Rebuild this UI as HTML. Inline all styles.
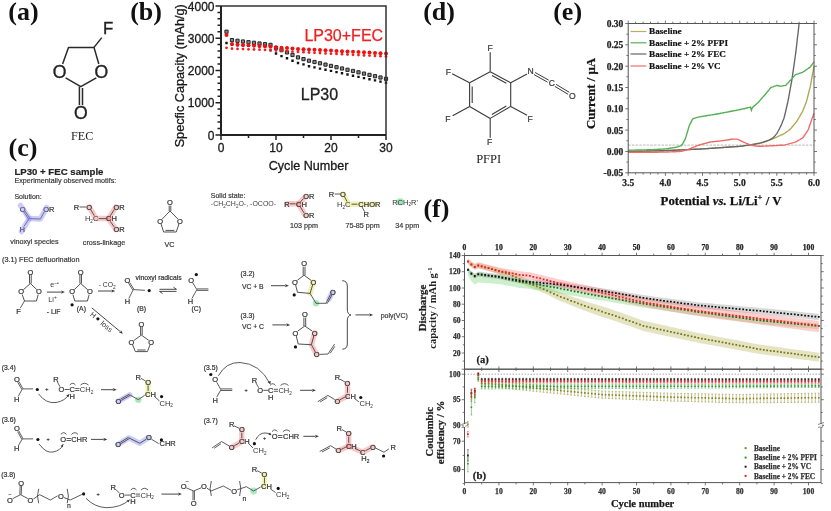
<!DOCTYPE html>
<html><head><meta charset="utf-8"><title>FEC / PFPI electrolyte additives</title>
<style>html,body{margin:0;padding:0;background:#fff;overflow:hidden}svg{display:block}</style></head>
<body><svg width="831" height="511" viewBox="0 0 831 511">
<rect width="831" height="511" fill="#fff"/>
<text x="8.3" y="20.3" font-size="26" font-family="'Liberation Serif', 'Times New Roman', serif" text-anchor="start" font-weight="bold" fill="#111" >(a)</text>
<text x="130.2" y="20.3" font-size="26" font-family="'Liberation Serif', 'Times New Roman', serif" text-anchor="start" font-weight="bold" fill="#111" >(b)</text>
<text x="8.6" y="156.3" font-size="26" font-family="'Liberation Serif', 'Times New Roman', serif" text-anchor="start" font-weight="bold" fill="#111" >(c)</text>
<text x="423.2" y="20.3" font-size="26" font-family="'Liberation Serif', 'Times New Roman', serif" text-anchor="start" font-weight="bold" fill="#111" >(d)</text>
<text x="553.2" y="20.3" font-size="26" font-family="'Liberation Serif', 'Times New Roman', serif" text-anchor="start" font-weight="bold" fill="#111" >(e)</text>
<text x="423.4" y="217.3" font-size="26" font-family="'Liberation Serif', 'Times New Roman', serif" text-anchor="start" font-weight="bold" fill="#111" >(f)</text>
<path d="M224.9 30.1h3.2v3.2h-3.2zM230.4 38.5h3.2v3.2h-3.2zM235.9 39.2h3.2v3.2h-3.2zM241.4 39.9h3.2v3.2h-3.2zM246.9 40.6h3.2v3.2h-3.2zM252.4 41.2h3.2v3.2h-3.2zM257.9 41.9h3.2v3.2h-3.2zM263.4 42.6h3.2v3.2h-3.2zM268.9 43.3h3.2v3.2h-3.2zM274.4 46.3h3.2v3.2h-3.2zM279.9 48.5h3.2v3.2h-3.2zM285.4 50.8h3.2v3.2h-3.2zM290.9 53.4h3.2v3.2h-3.2zM296.4 55.8h3.2v3.2h-3.2zM301.9 57.5h3.2v3.2h-3.2zM307.4 59.1h3.2v3.2h-3.2zM312.9 60.4h3.2v3.2h-3.2zM318.4 61.7h3.2v3.2h-3.2zM323.9 63.0h3.2v3.2h-3.2zM329.4 64.3h3.2v3.2h-3.2zM334.9 65.6h3.2v3.2h-3.2zM340.4 66.9h3.2v3.2h-3.2zM345.9 68.2h3.2v3.2h-3.2zM351.4 69.4h3.2v3.2h-3.2zM356.9 70.7h3.2v3.2h-3.2zM362.4 72.0h3.2v3.2h-3.2zM367.9 73.3h3.2v3.2h-3.2zM373.4 74.6h3.2v3.2h-3.2zM378.9 75.9h3.2v3.2h-3.2zM384.4 77.2h3.2v3.2h-3.2z" fill="#888" stroke="#222" stroke-width="1"/>
<path d="M225.3 41.8h2.4v2.4h-2.4zM230.8 43.7h2.4v2.4h-2.4zM236.3 44.0h2.4v2.4h-2.4zM241.8 44.3h2.4v2.4h-2.4zM247.3 44.5h2.4v2.4h-2.4zM252.8 44.8h2.4v2.4h-2.4zM258.3 45.1h2.4v2.4h-2.4zM263.8 45.3h2.4v2.4h-2.4zM269.3 49.2h2.4v2.4h-2.4zM274.8 52.3h2.4v2.4h-2.4zM280.3 54.9h2.4v2.4h-2.4zM285.8 57.1h2.4v2.4h-2.4zM291.3 59.6h2.4v2.4h-2.4zM296.8 61.8h2.4v2.4h-2.4zM302.3 63.2h2.4v2.4h-2.4zM307.8 65.0h2.4v2.4h-2.4zM313.3 66.2h2.4v2.4h-2.4zM318.8 67.4h2.4v2.4h-2.4zM324.3 68.5h2.4v2.4h-2.4zM329.8 69.7h2.4v2.4h-2.4zM335.3 70.9h2.4v2.4h-2.4zM340.8 72.1h2.4v2.4h-2.4zM346.3 73.3h2.4v2.4h-2.4zM351.8 74.5h2.4v2.4h-2.4zM357.3 75.7h2.4v2.4h-2.4zM362.8 76.9h2.4v2.4h-2.4zM368.3 78.1h2.4v2.4h-2.4zM373.8 79.2h2.4v2.4h-2.4zM379.3 80.4h2.4v2.4h-2.4zM384.8 81.6h2.4v2.4h-2.4z" fill="#111"/>
<g fill="#f01010"><circle cx="226.5" cy="34.9" r="2"/><circle cx="232.0" cy="44.1" r="2"/><circle cx="237.5" cy="44.5" r="2"/><circle cx="243.0" cy="44.9" r="2"/><circle cx="248.5" cy="45.2" r="2"/><circle cx="254.0" cy="45.6" r="2"/><circle cx="259.5" cy="46.0" r="2"/><circle cx="265.0" cy="46.3" r="2"/><circle cx="270.5" cy="46.7" r="2"/><circle cx="276.0" cy="47.2" r="2"/><circle cx="281.5" cy="47.7" r="2"/><circle cx="287.0" cy="48.1" r="2"/><circle cx="292.5" cy="48.6" r="2"/><circle cx="298.0" cy="48.9" r="2"/><circle cx="303.5" cy="49.2" r="2"/><circle cx="309.0" cy="49.5" r="2"/><circle cx="314.5" cy="49.8" r="2"/><circle cx="320.0" cy="50.1" r="2"/><circle cx="325.5" cy="50.3" r="2"/><circle cx="331.0" cy="50.6" r="2"/><circle cx="336.5" cy="50.9" r="2"/><circle cx="342.0" cy="51.2" r="2"/><circle cx="347.5" cy="51.5" r="2"/><circle cx="353.0" cy="51.8" r="2"/><circle cx="358.5" cy="52.0" r="2"/><circle cx="364.0" cy="52.3" r="2"/><circle cx="369.5" cy="52.6" r="2"/><circle cx="375.0" cy="52.9" r="2"/><circle cx="380.5" cy="53.2" r="2"/><circle cx="386.0" cy="53.5" r="2"/></g>
<g fill="#f02020"><circle cx="226.5" cy="47.8" r="1.4"/><circle cx="232.0" cy="48.7" r="1.4"/><circle cx="237.5" cy="48.9" r="1.4"/><circle cx="243.0" cy="49.1" r="1.4"/><circle cx="248.5" cy="49.3" r="1.4"/><circle cx="254.0" cy="49.5" r="1.4"/><circle cx="259.5" cy="49.7" r="1.4"/><circle cx="265.0" cy="49.9" r="1.4"/><circle cx="270.5" cy="50.1" r="1.4"/><circle cx="276.0" cy="50.5" r="1.4"/><circle cx="281.5" cy="50.9" r="1.4"/><circle cx="287.0" cy="51.3" r="1.4"/><circle cx="292.5" cy="51.7" r="1.4"/><circle cx="298.0" cy="51.9" r="1.4"/><circle cx="303.5" cy="52.2" r="1.4"/><circle cx="309.0" cy="52.5" r="1.4"/><circle cx="314.5" cy="52.8" r="1.4"/><circle cx="320.0" cy="53.1" r="1.4"/><circle cx="325.5" cy="53.4" r="1.4"/><circle cx="331.0" cy="53.7" r="1.4"/><circle cx="336.5" cy="53.9" r="1.4"/><circle cx="342.0" cy="54.2" r="1.4"/><circle cx="347.5" cy="54.5" r="1.4"/><circle cx="353.0" cy="54.8" r="1.4"/><circle cx="358.5" cy="55.1" r="1.4"/><circle cx="364.0" cy="55.4" r="1.4"/><circle cx="369.5" cy="55.6" r="1.4"/><circle cx="375.0" cy="55.9" r="1.4"/><circle cx="380.5" cy="56.2" r="1.4"/><circle cx="386.0" cy="56.5" r="1.4"/></g>
<path d="M221 5.9H386V134.9" fill="none" stroke="#333" stroke-width="1.5"/>
<path d="M221 5.9V134.9H386" fill="none" stroke="#222" stroke-width="2"/>
<path d="M215.5 134.9H221M217.5 128.5H221M217.5 122.0H221M217.5 115.6H221M217.5 109.1H221M215.5 102.7H221M217.5 96.2H221M217.5 89.8H221M217.5 83.3H221M217.5 76.9H221M215.5 70.4H221M217.5 64.0H221M217.5 57.5H221M217.5 51.1H221M217.5 44.6H221M215.5 38.2H221M217.5 31.7H221M217.5 25.2H221M217.5 18.8H221M217.5 12.4H221M215.5 5.9H221M221.0 134.9v5M248.5 134.9v3M276.0 134.9v5M303.5 134.9v3M331.0 134.9v5M358.5 134.9v3M386.0 134.9v5" stroke="#222" stroke-width="1.5"/>
<text x="214.5" y="139.5" font-size="12" font-family="'Liberation Sans', Arial, sans-serif" text-anchor="end" font-weight="normal" fill="#1a1a1a" stroke="#1a1a1a" stroke-width="0.3">0</text>
<text x="214.5" y="107.2" font-size="12" font-family="'Liberation Sans', Arial, sans-serif" text-anchor="end" font-weight="normal" fill="#1a1a1a" stroke="#1a1a1a" stroke-width="0.3">1000</text>
<text x="214.5" y="75.0" font-size="12" font-family="'Liberation Sans', Arial, sans-serif" text-anchor="end" font-weight="normal" fill="#1a1a1a" stroke="#1a1a1a" stroke-width="0.3">2000</text>
<text x="214.5" y="42.8" font-size="12" font-family="'Liberation Sans', Arial, sans-serif" text-anchor="end" font-weight="normal" fill="#1a1a1a" stroke="#1a1a1a" stroke-width="0.3">3000</text>
<text x="214.5" y="10.5" font-size="12" font-family="'Liberation Sans', Arial, sans-serif" text-anchor="end" font-weight="normal" fill="#1a1a1a" stroke="#1a1a1a" stroke-width="0.3">4000</text>
<text x="221.0" y="152.2" font-size="12" font-family="'Liberation Sans', Arial, sans-serif" text-anchor="middle" font-weight="normal" fill="#1a1a1a" stroke="#1a1a1a" stroke-width="0.3">0</text>
<text x="276.0" y="152.2" font-size="12" font-family="'Liberation Sans', Arial, sans-serif" text-anchor="middle" font-weight="normal" fill="#1a1a1a" stroke="#1a1a1a" stroke-width="0.3">10</text>
<text x="331.0" y="152.2" font-size="12" font-family="'Liberation Sans', Arial, sans-serif" text-anchor="middle" font-weight="normal" fill="#1a1a1a" stroke="#1a1a1a" stroke-width="0.3">20</text>
<text x="386.0" y="152.2" font-size="12" font-family="'Liberation Sans', Arial, sans-serif" text-anchor="middle" font-weight="normal" fill="#1a1a1a" stroke="#1a1a1a" stroke-width="0.3">30</text>
<text x="308.6" y="169.5" font-size="12.6" font-family="'Liberation Sans', Arial, sans-serif" text-anchor="middle" font-weight="normal" fill="#1a1a1a" stroke="#1a1a1a" stroke-width="0.3">Cycle Number</text>
<text x="0.0" y="0.0" font-size="12.7" font-family="'Liberation Sans', Arial, sans-serif" text-anchor="middle" font-weight="normal" fill="#1a1a1a" stroke="#1a1a1a" stroke-width="0.3" transform="translate(184 75.8) rotate(-90)">Specfic Capacity (mAh/g)</text>
<text x="304.4" y="41.0" font-size="16" font-family="'Liberation Sans', Arial, sans-serif" text-anchor="start" font-weight="normal" fill="#f02020" stroke="#f02020" stroke-width="0.25">LP30+FEC</text>
<text x="300.8" y="99.9" font-size="16" font-family="'Liberation Sans', Arial, sans-serif" text-anchor="start" font-weight="normal" fill="#222" stroke="#222" stroke-width="0.3">LP30</text>
<line x1="628.2" y1="145.1" x2="814.0" y2="145.1" stroke="#999" stroke-width="0.7" stroke-dasharray="2.5 1.2"/>
<polyline points="628.2,151.5 629.1,151.4 630.1,151.4 631.0,151.4 631.9,151.4 632.9,151.4 633.8,151.3 634.7,151.3 635.7,151.3 636.6,151.3 637.5,151.3 638.5,151.2 639.4,151.2 640.3,151.2 641.3,151.2 642.2,151.1 643.1,151.1 644.1,151.1 645.0,151.1 645.9,151.1 646.9,151.0 647.8,151.0 648.7,151.0 649.7,151.0 650.6,151.0 651.5,150.9 652.5,150.9 653.4,150.9 654.3,150.9 655.3,150.8 656.2,150.8 657.1,150.8 658.1,150.8 659.0,150.8 659.9,150.7 660.9,150.7 661.8,150.7 662.7,150.7 663.7,150.7 664.6,150.6 665.5,150.6 666.5,150.6 667.4,150.5 668.3,150.5 669.3,150.4 670.2,150.4 671.1,150.4 672.1,150.3 673.0,150.3 673.9,150.2 674.9,150.2 675.8,150.1 676.8,150.1 677.7,150.1 678.6,150.0 679.6,150.0 680.5,149.9 681.4,149.9 682.4,149.8 683.3,149.8 684.2,149.8 685.2,149.7 686.1,149.7 687.0,149.6 688.0,149.6 688.9,149.5 689.8,149.5 690.8,149.5 691.7,149.4 692.6,149.4 693.6,149.3 694.5,149.3 695.4,149.2 696.4,149.2 697.3,149.2 698.2,149.1 699.2,149.1 700.1,149.0 701.0,149.0 702.0,148.9 702.9,148.9 703.8,148.8 704.8,148.8 705.7,148.7 706.6,148.6 707.6,148.6 708.5,148.5 709.4,148.4 710.4,148.4 711.3,148.3 712.2,148.2 713.2,148.2 714.1,148.1 715.0,148.1 716.0,148.0 716.9,147.9 717.8,147.9 718.8,147.8 719.7,147.7 720.6,147.7 721.6,147.6 722.5,147.5 723.4,147.5 724.4,147.4 725.3,147.3 726.2,147.3 727.2,147.2 728.1,147.1 729.0,147.1 730.0,147.0 730.9,147.0 731.8,146.9 732.8,146.8 733.7,146.8 734.6,146.7 735.6,146.6 736.5,146.6 737.4,146.5 738.4,146.4 739.3,146.4 740.2,146.3 741.2,146.1 742.1,146.0 743.0,145.8 744.0,145.7 744.9,145.6 745.8,145.4 746.8,145.3 747.7,145.1 748.6,145.0 749.6,144.8 750.5,144.7 751.4,144.6 752.4,144.4 753.3,144.3 754.2,144.1 755.2,144.0 756.1,143.8 757.0,143.7 758.0,143.6 758.9,143.4 759.8,143.3 760.8,143.1 761.7,143.0 762.6,142.7 763.6,142.3 764.5,142.0 765.4,141.6 766.4,141.3 767.3,140.9 768.3,140.5 769.2,140.2 770.1,139.8 771.1,139.5 772.0,139.1 772.9,138.8 773.9,138.3 774.8,137.9 775.7,137.5 776.7,137.1 777.6,136.6 778.5,136.2 779.5,135.8 780.4,135.3 781.3,134.9 782.3,134.5 783.2,134.1 784.1,133.6 785.1,133.0 786.0,132.3 786.9,131.7 787.9,131.0 788.8,130.3 789.7,129.6 790.7,128.8 791.6,127.6 792.5,126.5 793.5,125.4 794.4,124.2 795.3,123.1 796.3,122.0 797.2,120.7 798.1,119.1 799.1,117.5 800.0,115.9 800.9,114.3 801.9,112.7 802.8,111.0 803.7,108.6 804.7,106.2 805.6,103.7 806.5,101.2 807.5,97.6 808.4,94.0 809.3,90.3 810.3,86.7 811.2,81.6 812.1,76.4 813.1,71.3 814.0,66.2" fill="none" stroke="#b0aa58" stroke-width="1.4"/>
<polyline points="628.2,151.5 629.1,151.5 629.9,151.4 630.8,151.4 631.6,151.4 632.5,151.4 633.4,151.4 634.2,151.3 635.1,151.3 635.9,151.3 636.8,151.3 637.6,151.3 638.5,151.2 639.4,151.2 640.2,151.2 641.1,151.2 641.9,151.2 642.8,151.1 643.7,151.1 644.5,151.1 645.4,151.1 646.2,151.1 647.1,151.0 648.0,151.0 648.8,151.0 649.7,151.0 650.5,151.0 651.4,150.9 652.3,150.9 653.1,150.9 654.0,150.9 654.8,150.9 655.7,150.8 656.5,150.8 657.4,150.8 658.3,150.8 659.1,150.8 660.0,150.7 660.8,150.7 661.7,150.7 662.6,150.7 663.4,150.7 664.3,150.6 665.1,150.6 666.0,150.6 666.9,150.5 667.7,150.5 668.6,150.5 669.4,150.4 670.3,150.4 671.1,150.4 672.0,150.3 672.9,150.3 673.7,150.2 674.6,150.2 675.4,150.2 676.3,150.1 677.2,150.1 678.0,150.0 678.9,150.0 679.7,150.0 680.6,149.9 681.5,149.9 682.3,149.8 683.2,149.8 684.0,149.8 684.9,149.7 685.8,149.7 686.6,149.6 687.5,149.6 688.3,149.6 689.2,149.5 690.0,149.5 690.9,149.4 691.8,149.4 692.6,149.4 693.5,149.3 694.3,149.3 695.2,149.2 696.1,149.2 696.9,149.2 697.8,149.1 698.6,149.1 699.5,149.1 700.4,149.0 701.2,149.0 702.1,148.9 702.9,148.9 703.8,148.8 704.6,148.8 705.5,148.7 706.4,148.6 707.2,148.6 708.1,148.5 708.9,148.5 709.8,148.4 710.7,148.4 711.5,148.3 712.4,148.2 713.2,148.2 714.1,148.1 715.0,148.1 715.8,148.0 716.7,147.9 717.5,147.9 718.4,147.8 719.3,147.8 720.1,147.7 721.0,147.6 721.8,147.6 722.7,147.5 723.5,147.5 724.4,147.4 725.3,147.3 726.1,147.3 727.0,147.2 727.8,147.2 728.7,147.1 729.6,147.0 730.4,147.0 731.3,146.9 732.1,146.9 733.0,146.8 733.9,146.8 734.7,146.7 735.6,146.6 736.4,146.6 737.3,146.5 738.1,146.5 739.0,146.4 739.9,146.3 740.7,146.2 741.6,146.1 742.4,146.0 743.3,145.8 744.2,145.7 745.0,145.6 745.9,145.5 746.7,145.3 747.6,145.2 748.5,145.1 749.3,145.0 750.2,144.8 751.0,144.7 751.9,144.6 752.8,144.5 753.6,144.4 754.5,144.2 755.3,144.0 756.2,143.8 757.0,143.6 757.9,143.4 758.8,143.3 759.6,143.1 760.5,142.9 761.3,142.7 762.2,142.4 763.1,142.1 763.9,141.8 764.8,141.5 765.6,141.3 766.5,141.0 767.4,140.7 768.2,140.4 769.1,140.1 769.9,139.7 770.8,139.2 771.6,138.7 772.5,138.2 773.4,137.5 774.2,136.6 775.1,135.6 775.9,134.6 776.8,133.6 777.7,132.0 778.5,130.5 779.4,128.9 780.2,127.3 781.1,125.4 782.0,123.2 782.8,121.0 783.7,118.9 784.5,116.2 785.4,112.5 786.3,108.7 787.1,105.0 788.0,101.2 788.8,96.6 789.7,92.0 790.5,87.3 791.4,82.7 792.3,77.2 793.1,71.3 794.0,65.4 794.8,59.5 795.7,53.1 796.6,45.7 797.4,38.3 798.3,30.9 799.1,23.5" fill="none" stroke="#666" stroke-width="1.35"/>
<polyline points="628.2,150.2 629.1,150.2 630.1,150.2 631.0,150.1 631.9,150.1 632.9,150.1 633.8,150.1 634.7,150.1 635.7,150.0 636.6,150.0 637.5,150.0 638.5,150.0 639.4,150.0 640.3,150.0 641.3,149.9 642.2,149.9 643.1,149.9 644.1,149.9 645.0,149.9 645.9,149.9 646.9,149.8 647.8,149.8 648.7,149.8 649.7,149.8 650.6,149.8 651.5,149.7 652.5,149.7 653.4,149.6 654.3,149.5 655.3,149.5 656.2,149.4 657.1,149.4 658.1,149.3 659.0,149.3 659.9,149.2 660.9,149.2 661.8,149.1 662.7,149.1 663.7,149.0 664.6,149.0 665.5,148.9 666.5,148.7 667.4,148.6 668.3,148.5 669.3,148.3 670.2,148.2 671.1,148.0 672.1,147.9 673.0,147.7 673.9,147.6 674.9,147.5 675.8,147.3 676.8,147.1 677.7,146.8 678.6,146.5 679.6,146.2 680.5,145.9 681.4,145.6 682.4,144.3 683.3,142.6 684.2,140.9 685.2,139.2 686.1,136.4 687.0,133.2 688.0,130.0 688.9,126.8 689.8,124.6 690.8,122.7 691.7,120.9 692.6,119.1 693.6,118.4 694.5,118.2 695.4,117.9 696.4,117.6 697.3,117.4 698.2,117.1 699.2,116.9 700.1,116.7 701.0,116.6 702.0,116.4 702.9,116.3 703.8,116.1 704.8,116.0 705.7,115.8 706.6,115.7 707.6,115.5 708.5,115.4 709.4,115.2 710.4,115.1 711.3,114.9 712.2,114.8 713.2,114.6 714.1,114.5 715.0,114.3 716.0,114.2 716.9,114.0 717.8,113.8 718.8,113.7 719.7,113.5 720.6,113.3 721.6,113.1 722.5,113.0 723.4,112.8 724.4,112.6 725.3,112.4 726.2,112.2 727.2,112.1 728.1,111.9 729.0,111.7 730.0,111.5 730.9,111.3 731.8,111.2 732.8,111.0 733.7,110.8 734.6,110.6 735.6,110.5 736.5,110.3 737.4,110.1 738.4,109.9 739.3,109.7 740.2,109.5 741.2,109.3 742.1,109.1 743.0,108.9 744.0,108.7 744.9,108.5 745.8,108.3 746.8,108.0 747.7,107.8 748.6,107.6 749.6,107.4 750.5,107.2 751.4,110.3 752.4,107.5 753.3,106.7 754.2,105.9 755.2,105.1 756.1,104.3 757.0,103.5 758.0,102.7 758.9,101.7 759.8,100.6 760.8,99.5 761.7,98.5 762.6,97.4 763.6,96.3 764.5,95.2 765.4,94.2 766.4,93.0 767.3,91.9 768.3,90.7 769.2,89.6 770.1,88.4 771.1,87.4 772.0,87.1 772.9,86.8 773.9,86.4 774.8,86.1 775.7,85.8 776.7,85.4 777.6,85.5 778.5,85.7 779.5,86.0 780.4,86.2 781.3,86.1 782.3,85.9 783.2,85.8 784.1,85.6 785.1,85.5 786.0,85.1 786.9,84.1 787.9,83.1 788.8,82.1 789.7,81.1 790.7,80.1 791.6,79.1 792.5,78.0 793.5,76.9 794.4,75.9 795.3,74.8 796.3,74.4 797.2,74.1 798.1,73.8 799.1,73.4 800.0,73.1 800.9,72.8 801.9,72.5 802.8,72.1 803.7,71.5 804.7,70.9 805.6,70.2 806.5,69.6 807.5,69.0 808.4,68.3 809.3,67.7 810.3,67.0 811.2,65.7 812.1,64.5 813.1,63.2 814.0,61.9" fill="none" stroke="#55b055" stroke-width="1.4"/>
<polyline points="628.2,152.3 629.1,152.3 630.1,152.3 631.0,152.3 631.9,152.3 632.9,152.3 633.8,152.3 634.7,152.3 635.7,152.3 636.6,152.3 637.5,152.3 638.5,152.3 639.4,152.3 640.3,152.3 641.3,152.2 642.2,152.2 643.1,152.2 644.1,152.2 645.0,152.2 645.9,152.2 646.9,152.2 647.8,152.2 648.7,152.2 649.7,152.2 650.6,152.2 651.5,152.2 652.5,152.2 653.4,152.2 654.3,152.2 655.3,152.2 656.2,152.2 657.1,152.2 658.1,152.2 659.0,152.1 659.9,152.1 660.9,152.1 661.8,152.1 662.7,152.1 663.7,152.1 664.6,152.1 665.5,152.1 666.5,152.1 667.4,152.0 668.3,152.0 669.3,151.9 670.2,151.9 671.1,151.9 672.1,151.8 673.0,151.8 673.9,151.7 674.9,151.7 675.8,151.7 676.8,151.6 677.7,151.6 678.6,151.5 679.6,151.5 680.5,151.4 681.4,151.2 682.4,151.0 683.3,150.8 684.2,150.6 685.2,150.3 686.1,150.1 687.0,149.9 688.0,149.6 688.9,149.2 689.8,148.8 690.8,148.4 691.7,148.0 692.6,147.6 693.6,147.2 694.5,146.8 695.4,146.5 696.4,146.1 697.3,145.7 698.2,145.3 699.2,145.0 700.1,144.7 701.0,144.5 702.0,144.2 702.9,144.0 703.8,143.7 704.8,143.5 705.7,143.2 706.6,143.0 707.6,142.7 708.5,142.5 709.4,142.2 710.4,142.0 711.3,141.9 712.2,141.8 713.2,141.7 714.1,141.6 715.0,141.5 716.0,141.4 716.9,141.3 717.8,141.2 718.8,141.1 719.7,141.0 720.6,140.9 721.6,140.8 722.5,140.6 723.4,140.5 724.4,140.4 725.3,140.3 726.2,140.1 727.2,140.0 728.1,139.8 729.0,139.7 730.0,139.5 730.9,139.3 731.8,139.2 732.8,139.1 733.7,139.1 734.6,139.1 735.6,139.1 736.5,139.1 737.4,139.1 738.4,139.6 739.3,140.0 740.2,140.5 741.2,141.0 742.1,141.4 743.0,141.9 744.0,142.3 744.9,142.7 745.8,143.1 746.8,143.4 747.7,143.8 748.6,144.2 749.6,144.6 750.5,144.9 751.4,145.2 752.4,145.3 753.3,145.5 754.2,145.7 755.2,145.8 756.1,146.0 757.0,146.1 758.0,146.3 758.9,146.3 759.8,146.3 760.8,146.3 761.7,146.2 762.6,146.2 763.6,146.1 764.5,146.1 765.4,146.1 766.4,146.0 767.3,146.0 768.3,146.0 769.2,145.9 770.1,145.9 771.1,145.8 772.0,145.8 772.9,145.7 773.9,145.7 774.8,145.6 775.7,145.6 776.7,145.5 777.6,145.5 778.5,145.4 779.5,145.3 780.4,145.3 781.3,145.2 782.3,145.2 783.2,145.1 784.1,145.1 785.1,144.9 786.0,144.6 786.9,144.4 787.9,144.1 788.8,143.9 789.7,143.6 790.7,143.4 791.6,143.1 792.5,142.9 793.5,142.6 794.4,142.4 795.3,142.1 796.3,141.6 797.2,141.1 798.1,140.5 799.1,140.0 800.0,139.5 800.9,138.9 801.9,138.4 802.8,137.9 803.7,136.5 804.7,135.1 805.6,133.8 806.5,132.4 807.5,131.0 808.4,129.2 809.3,126.5 810.3,123.8 811.2,121.1 812.1,118.4 813.1,115.8 814.0,113.1" fill="none" stroke="#f06a6a" stroke-width="1.4"/>
<rect x="628.2" y="23.5" width="185.79999999999995" height="149.3" fill="none" stroke="#555" stroke-width="1"/>
<path d="M625.2 172.8H628.2M814 172.8h3M626.4000000000001 162.1H628.2M814 162.1h1.8M625.2 151.5H628.2M814 151.5h3M626.4000000000001 140.8H628.2M814 140.8h1.8M625.2 130.1H628.2M814 130.1h3M626.4000000000001 119.5H628.2M814 119.5h1.8M625.2 108.8H628.2M814 108.8h3M626.4000000000001 98.2H628.2M814 98.2h1.8M625.2 87.5H628.2M814 87.5h3M626.4000000000001 76.8H628.2M814 76.8h1.8M625.2 66.2H628.2M814 66.2h3M626.4000000000001 55.5H628.2M814 55.5h1.8M625.2 44.8H628.2M814 44.8h3M626.4000000000001 34.2H628.2M814 34.2h1.8M625.2 23.5H628.2M814 23.5h3M628.2 172.8v3M628.2 23.5v-3M635.6 172.8v1.8M635.6 23.5v-1.8M643.1 172.8v1.8M643.1 23.5v-1.8M650.5 172.8v1.8M650.5 23.5v-1.8M657.9 172.8v1.8M657.9 23.5v-1.8M665.4 172.8v3M665.4 23.5v-3M672.8 172.8v1.8M672.8 23.5v-1.8M680.2 172.8v1.8M680.2 23.5v-1.8M687.7 172.8v1.8M687.7 23.5v-1.8M695.1 172.8v1.8M695.1 23.5v-1.8M702.5 172.8v3M702.5 23.5v-3M710.0 172.8v1.8M710.0 23.5v-1.8M717.4 172.8v1.8M717.4 23.5v-1.8M724.8 172.8v1.8M724.8 23.5v-1.8M732.2 172.8v1.8M732.2 23.5v-1.8M739.7 172.8v3M739.7 23.5v-3M747.1 172.8v1.8M747.1 23.5v-1.8M754.5 172.8v1.8M754.5 23.5v-1.8M762.0 172.8v1.8M762.0 23.5v-1.8M769.4 172.8v1.8M769.4 23.5v-1.8M776.8 172.8v3M776.8 23.5v-3M784.3 172.8v1.8M784.3 23.5v-1.8M791.7 172.8v1.8M791.7 23.5v-1.8M799.1 172.8v1.8M799.1 23.5v-1.8M806.6 172.8v1.8M806.6 23.5v-1.8M814.0 172.8v3M814.0 23.5v-3" stroke="#555" stroke-width="0.8"/>
<text x="623.3" y="176.3" font-size="9.5" font-family="'Liberation Serif', 'Times New Roman', serif" text-anchor="end" font-weight="bold" fill="#222" stroke="#222" stroke-width="0.25">-0.05</text>
<text x="623.3" y="155.0" font-size="9.5" font-family="'Liberation Serif', 'Times New Roman', serif" text-anchor="end" font-weight="bold" fill="#222" stroke="#222" stroke-width="0.25">0.00</text>
<text x="623.3" y="133.6" font-size="9.5" font-family="'Liberation Serif', 'Times New Roman', serif" text-anchor="end" font-weight="bold" fill="#222" stroke="#222" stroke-width="0.25">0.05</text>
<text x="623.3" y="112.3" font-size="9.5" font-family="'Liberation Serif', 'Times New Roman', serif" text-anchor="end" font-weight="bold" fill="#222" stroke="#222" stroke-width="0.25">0.10</text>
<text x="623.3" y="91.0" font-size="9.5" font-family="'Liberation Serif', 'Times New Roman', serif" text-anchor="end" font-weight="bold" fill="#222" stroke="#222" stroke-width="0.25">0.15</text>
<text x="623.3" y="69.7" font-size="9.5" font-family="'Liberation Serif', 'Times New Roman', serif" text-anchor="end" font-weight="bold" fill="#222" stroke="#222" stroke-width="0.25">0.20</text>
<text x="623.3" y="48.3" font-size="9.5" font-family="'Liberation Serif', 'Times New Roman', serif" text-anchor="end" font-weight="bold" fill="#222" stroke="#222" stroke-width="0.25">0.25</text>
<text x="623.3" y="27.0" font-size="9.5" font-family="'Liberation Serif', 'Times New Roman', serif" text-anchor="end" font-weight="bold" fill="#222" stroke="#222" stroke-width="0.25">0.30</text>
<text x="628.2" y="186.0" font-size="9.5" font-family="'Liberation Serif', 'Times New Roman', serif" text-anchor="middle" font-weight="bold" fill="#222" stroke="#222" stroke-width="0.25">3.5</text>
<text x="665.4" y="186.0" font-size="9.5" font-family="'Liberation Serif', 'Times New Roman', serif" text-anchor="middle" font-weight="bold" fill="#222" stroke="#222" stroke-width="0.25">4.0</text>
<text x="702.5" y="186.0" font-size="9.5" font-family="'Liberation Serif', 'Times New Roman', serif" text-anchor="middle" font-weight="bold" fill="#222" stroke="#222" stroke-width="0.25">4.5</text>
<text x="739.7" y="186.0" font-size="9.5" font-family="'Liberation Serif', 'Times New Roman', serif" text-anchor="middle" font-weight="bold" fill="#222" stroke="#222" stroke-width="0.25">5.0</text>
<text x="776.8" y="186.0" font-size="9.5" font-family="'Liberation Serif', 'Times New Roman', serif" text-anchor="middle" font-weight="bold" fill="#222" stroke="#222" stroke-width="0.25">5.5</text>
<text x="814.0" y="186.0" font-size="9.5" font-family="'Liberation Serif', 'Times New Roman', serif" text-anchor="middle" font-weight="bold" fill="#222" stroke="#222" stroke-width="0.25">6.0</text>
<text x="721" y="205" font-size="12.8" font-family="'Liberation Serif', 'Times New Roman', serif" text-anchor="middle" font-weight="bold" fill="#111" stroke="#111" stroke-width="0.25">Potential <tspan font-style="italic">vs.</tspan> Li/Li<tspan font-size="8.5" dy="-5">+</tspan><tspan dy="5"> / V</tspan></text>
<text x="0.0" y="0.0" font-size="12.8" font-family="'Liberation Serif', 'Times New Roman', serif" text-anchor="middle" font-weight="bold" fill="#151515" stroke="#151515" stroke-width="0.25" transform="translate(594.6 93.5) rotate(-90)">Current / μA</text>
<line x1="630.5" y1="31.5" x2="646.4" y2="31.5" stroke="#b8b060" stroke-width="1.2" />
<text x="649.0" y="34.2" font-size="9.2" font-family="'Liberation Serif', 'Times New Roman', serif" text-anchor="start" font-weight="bold" fill="#151515" stroke="#151515" stroke-width="0.2">Baseline</text>
<line x1="630.5" y1="42.8" x2="646.4" y2="42.8" stroke="#55b055" stroke-width="1.2" />
<text x="649.0" y="45.5" font-size="9.2" font-family="'Liberation Serif', 'Times New Roman', serif" text-anchor="start" font-weight="bold" fill="#151515" stroke="#151515" stroke-width="0.2">Baseline + 2% PFPI</text>
<line x1="630.5" y1="54.0" x2="646.4" y2="54.0" stroke="#666" stroke-width="1.2" />
<text x="649.0" y="56.7" font-size="9.2" font-family="'Liberation Serif', 'Times New Roman', serif" text-anchor="start" font-weight="bold" fill="#151515" stroke="#151515" stroke-width="0.2">Baseline + 2% FEC</text>
<line x1="630.5" y1="66.0" x2="646.4" y2="66.0" stroke="#f07070" stroke-width="1.2" />
<text x="649.0" y="68.7" font-size="9.2" font-family="'Liberation Serif', 'Times New Roman', serif" text-anchor="start" font-weight="bold" fill="#151515" stroke="#151515" stroke-width="0.2">Baseline + 2% VC</text>
<path d="M467.9 259.2 L471.4 262.1 L474.8 264.5 L478.3 263.0 L481.7 263.8 L485.1 264.6 L488.6 265.4 L492.0 266.2 L495.5 267.3 L498.9 268.5 L502.3 269.3 L505.8 270.1 L509.2 271.0 L512.7 272.5 L516.1 273.9 L519.5 275.6 L523.0 277.2 L526.4 278.8 L529.9 280.3 L533.3 281.4 L536.7 282.5 L540.2 283.8 L543.6 285.2 L547.1 286.7 L550.5 288.2 L553.9 289.7 L557.4 291.2 L560.8 292.6 L564.3 293.8 L567.7 295.0 L571.1 296.2 L574.6 297.4 L578.0 298.6 L581.5 299.8 L584.9 301.0 L588.3 302.2 L591.8 303.2 L595.2 304.3 L598.7 305.3 L602.1 306.3 L605.5 307.5 L609.0 308.6 L612.4 309.7 L615.9 310.9 L619.3 312.1 L622.7 313.3 L626.2 314.6 L629.6 315.8 L633.1 317.0 L636.5 318.2 L639.9 319.5 L643.4 320.7 L646.8 321.5 L650.3 322.2 L653.7 323.0 L657.1 323.8 L660.6 324.5 L664.0 325.3 L667.5 326.1 L670.9 326.9 L674.3 327.6 L677.8 328.4 L681.2 329.2 L684.7 329.9 L688.1 330.7 L691.5 331.5 L695.0 332.2 L698.4 333.0 L701.9 333.6 L705.3 334.3 L708.7 334.9 L712.2 335.6 L715.6 336.2 L719.1 336.9 L722.5 337.5 L725.9 338.2 L729.4 338.8 L732.8 339.5 L736.3 340.1 L739.7 340.8 L743.1 341.4 L746.6 342.1 L750.0 342.7 L753.5 343.4 L756.9 344.0 L760.3 344.7 L763.8 345.1 L767.2 345.6 L770.7 346.1 L774.1 346.6 L777.5 347.0 L781.0 347.5 L784.4 348.0 L787.9 348.5 L791.3 348.9 L794.7 349.4 L798.2 349.9 L801.6 350.3 L805.1 350.8 L808.5 351.3 L811.9 351.8 L815.4 352.2 L818.8 352.7 L818.8 361.6 L815.4 361.2 L811.9 360.8 L808.5 360.3 L805.1 359.9 L801.6 359.4 L798.2 359.0 L794.7 358.5 L791.3 358.1 L787.9 357.6 L784.4 357.2 L781.0 356.7 L777.5 356.3 L774.1 355.8 L770.7 355.4 L767.2 354.9 L763.8 354.5 L760.3 354.0 L756.9 353.4 L753.5 352.8 L750.0 352.2 L746.6 351.6 L743.1 350.9 L739.7 350.3 L736.3 349.7 L732.8 349.1 L729.4 348.4 L725.9 347.8 L722.5 347.2 L719.1 346.6 L715.6 345.9 L712.2 345.3 L708.7 344.7 L705.3 344.1 L701.9 343.4 L698.4 342.8 L695.0 342.1 L691.5 341.4 L688.1 340.6 L684.7 339.9 L681.2 339.1 L677.8 338.4 L674.3 337.6 L670.9 336.9 L667.5 336.2 L664.0 335.4 L660.6 334.7 L657.1 333.9 L653.7 333.2 L650.3 332.4 L646.8 331.7 L643.4 331.0 L639.9 329.8 L636.5 328.5 L633.1 327.3 L629.6 326.1 L626.2 324.9 L622.7 323.7 L619.3 322.5 L615.9 321.3 L612.4 320.2 L609.0 319.1 L605.5 318.0 L602.1 316.9 L598.7 315.7 L595.2 314.5 L591.8 313.3 L588.3 312.1 L584.9 310.8 L581.5 309.4 L578.0 308.0 L574.6 306.7 L571.1 305.3 L567.7 303.9 L564.3 302.6 L560.8 301.2 L557.4 299.7 L553.9 298.0 L550.5 296.3 L547.1 294.6 L543.6 293.0 L540.2 291.5 L536.7 290.0 L533.3 288.7 L529.9 287.5 L526.4 285.8 L523.0 284.1 L519.5 282.4 L516.1 280.6 L512.7 279.0 L509.2 277.4 L505.8 276.4 L502.3 275.5 L498.9 274.5 L495.5 273.2 L492.0 271.9 L488.6 271.0 L485.1 270.1 L481.7 269.2 L478.3 268.3 L474.8 269.7 L471.4 267.1 L467.9 264.0Z" fill="#b5b35a" fill-opacity="0.36"/>
<path d="M467.9 267.7 L471.4 271.7 L474.8 274.2 L478.3 272.1 L481.7 272.6 L485.1 273.1 L488.6 273.6 L492.0 274.0 L495.5 274.5 L498.9 275.0 L502.3 275.7 L505.8 276.5 L509.2 277.2 L512.7 278.0 L516.1 278.7 L519.5 279.5 L523.0 279.9 L526.4 280.3 L529.9 280.7 L533.3 281.3 L536.7 281.9 L540.2 282.5 L543.6 283.1 L547.1 283.7 L550.5 284.3 L553.9 284.9 L557.4 285.5 L560.8 286.2 L564.3 286.9 L567.7 287.6 L571.1 288.2 L574.6 288.9 L578.0 289.6 L581.5 290.3 L584.9 290.9 L588.3 291.6 L591.8 292.2 L595.2 292.8 L598.7 293.4 L602.1 294.0 L605.5 294.6 L609.0 295.3 L612.4 295.9 L615.9 296.5 L619.3 297.1 L622.7 297.7 L626.2 298.2 L629.6 298.8 L633.1 299.4 L636.5 300.0 L639.9 300.6 L643.4 301.2 L646.8 301.8 L650.3 302.3 L653.7 302.8 L657.1 303.3 L660.6 303.9 L664.0 304.4 L667.5 304.9 L670.9 305.4 L674.3 305.9 L677.8 306.5 L681.2 307.0 L684.7 307.5 L688.1 308.0 L691.5 308.6 L695.0 309.1 L698.4 309.6 L701.9 310.1 L705.3 310.5 L708.7 311.0 L712.2 311.5 L715.6 312.0 L719.1 312.4 L722.5 312.9 L725.9 313.4 L729.4 313.8 L732.8 314.3 L736.3 314.8 L739.7 315.3 L743.1 315.7 L746.6 316.2 L750.0 316.7 L753.5 317.1 L756.9 317.6 L760.3 318.1 L763.8 318.4 L767.2 318.7 L770.7 319.0 L774.1 319.4 L777.5 319.7 L781.0 320.0 L784.4 320.3 L787.9 320.7 L791.3 321.0 L794.7 321.3 L798.2 321.6 L801.6 321.9 L805.1 322.3 L808.5 322.6 L811.9 322.9 L815.4 323.2 L818.8 323.6 L818.8 329.2 L815.4 328.9 L811.9 328.6 L808.5 328.3 L805.1 328.0 L801.6 327.7 L798.2 327.4 L794.7 327.1 L791.3 326.8 L787.9 326.5 L784.4 326.1 L781.0 325.8 L777.5 325.5 L774.1 325.2 L770.7 324.9 L767.2 324.6 L763.8 324.3 L760.3 324.0 L756.9 323.5 L753.5 323.1 L750.0 322.6 L746.6 322.2 L743.1 321.7 L739.7 321.2 L736.3 320.8 L732.8 320.3 L729.4 319.9 L725.9 319.4 L722.5 318.9 L719.1 318.5 L715.6 318.0 L712.2 317.6 L708.7 317.1 L705.3 316.7 L701.9 316.2 L698.4 315.7 L695.0 315.2 L691.5 314.7 L688.1 314.2 L684.7 313.7 L681.2 313.2 L677.8 312.7 L674.3 312.2 L670.9 311.7 L667.5 311.2 L664.0 310.6 L660.6 310.1 L657.1 309.6 L653.7 309.1 L650.3 308.6 L646.8 308.1 L643.4 307.5 L639.9 307.0 L636.5 306.4 L633.1 305.8 L629.6 305.2 L626.2 304.7 L622.7 304.1 L619.3 303.5 L615.9 302.9 L612.4 302.3 L609.0 301.7 L605.5 301.1 L602.1 300.5 L598.7 300.0 L595.2 299.5 L591.8 298.9 L588.3 298.4 L584.9 297.8 L581.5 297.2 L578.0 296.6 L574.6 296.1 L571.1 295.5 L567.7 294.9 L564.3 294.3 L560.8 293.7 L557.4 293.1 L553.9 292.6 L550.5 292.0 L547.1 291.5 L543.6 291.0 L540.2 290.5 L536.7 289.9 L533.3 289.4 L529.9 288.9 L526.4 288.6 L523.0 288.3 L519.5 287.9 L516.1 287.2 L512.7 286.6 L509.2 285.9 L505.8 285.3 L502.3 284.6 L498.9 283.9 L495.5 283.7 L492.0 283.4 L488.6 283.2 L485.1 283.0 L481.7 282.7 L478.3 282.5 L474.8 284.7 L471.4 281.1 L467.9 275.8Z" fill="#66cc66" fill-opacity="0.32"/>
<path d="M467.9 267.2 L471.4 270.9 L474.8 273.4 L478.3 271.6 L481.7 272.0 L485.1 272.5 L488.6 272.9 L492.0 273.3 L495.5 273.7 L498.9 274.1 L502.3 274.8 L505.8 275.4 L509.2 276.1 L512.7 276.8 L516.1 277.5 L519.5 278.1 L523.0 278.5 L526.4 278.8 L529.9 279.2 L533.3 279.5 L536.7 279.8 L540.2 280.1 L543.6 280.4 L547.1 280.8 L550.5 281.1 L553.9 281.4 L557.4 281.7 L560.8 282.1 L564.3 282.7 L567.7 283.2 L571.1 283.7 L574.6 284.2 L578.0 284.7 L581.5 285.2 L584.9 285.7 L588.3 286.2 L591.8 286.7 L595.2 287.2 L598.7 287.7 L602.1 288.2 L605.5 288.8 L609.0 289.3 L612.4 289.8 L615.9 290.3 L619.3 290.9 L622.7 291.5 L626.2 292.1 L629.6 292.7 L633.1 293.3 L636.5 293.9 L639.9 294.5 L643.4 295.1 L646.8 295.6 L650.3 296.1 L653.7 296.5 L657.1 297.0 L660.6 297.4 L664.0 297.9 L667.5 298.3 L670.9 298.8 L674.3 299.2 L677.8 299.7 L681.2 300.1 L684.7 300.6 L688.1 301.1 L691.5 301.5 L695.0 302.0 L698.4 302.4 L701.9 302.7 L705.3 303.0 L708.7 303.3 L712.2 303.6 L715.6 303.9 L719.1 304.2 L722.5 304.5 L725.9 304.8 L729.4 305.1 L732.8 305.4 L736.3 305.7 L739.7 306.1 L743.1 306.4 L746.6 306.7 L750.0 307.0 L753.5 307.3 L756.9 307.6 L760.3 307.9 L763.8 308.2 L767.2 308.6 L770.7 308.9 L774.1 309.3 L777.5 309.6 L781.0 310.0 L784.4 310.3 L787.9 310.6 L791.3 311.0 L794.7 311.3 L798.2 311.7 L801.6 312.0 L805.1 312.4 L808.5 312.7 L811.9 313.0 L815.4 313.4 L818.8 313.7 L818.8 320.2 L815.4 319.9 L811.9 319.5 L808.5 319.1 L805.1 318.8 L801.6 318.4 L798.2 318.1 L794.7 317.7 L791.3 317.4 L787.9 317.0 L784.4 316.6 L781.0 316.3 L777.5 315.9 L774.1 315.6 L770.7 315.2 L767.2 314.8 L763.8 314.5 L760.3 314.1 L756.9 313.8 L753.5 313.5 L750.0 313.1 L746.6 312.8 L743.1 312.5 L739.7 312.2 L736.3 311.9 L732.8 311.5 L729.4 311.2 L725.9 310.9 L722.5 310.6 L719.1 310.2 L715.6 309.9 L712.2 309.6 L708.7 309.3 L705.3 309.0 L701.9 308.6 L698.4 308.3 L695.0 307.9 L691.5 307.4 L688.1 306.9 L684.7 306.5 L681.2 306.0 L677.8 305.5 L674.3 305.1 L670.9 304.6 L667.5 304.1 L664.0 303.7 L660.6 303.2 L657.1 302.7 L653.7 302.3 L650.3 301.8 L646.8 301.3 L643.4 300.8 L639.9 300.2 L636.5 299.5 L633.1 298.9 L629.6 298.3 L626.2 297.7 L622.7 297.1 L619.3 296.5 L615.9 295.9 L612.4 295.3 L609.0 294.8 L605.5 294.3 L602.1 293.7 L598.7 293.2 L595.2 292.7 L591.8 292.1 L588.3 291.6 L584.9 291.1 L581.5 290.6 L578.0 290.1 L574.6 289.5 L571.1 289.0 L567.7 288.5 L564.3 288.0 L560.8 287.5 L557.4 287.0 L553.9 286.7 L550.5 286.3 L547.1 286.0 L543.6 285.7 L540.2 285.3 L536.7 285.0 L533.3 284.6 L529.9 284.3 L526.4 284.0 L523.0 283.6 L519.5 283.2 L516.1 282.6 L512.7 281.9 L509.2 281.2 L505.8 280.5 L502.3 279.8 L498.9 279.1 L495.5 278.7 L492.0 278.3 L488.6 277.8 L485.1 277.4 L481.7 277.0 L478.3 276.6 L474.8 278.3 L471.4 275.8 L467.9 272.1Z" fill="#8a8a8a" fill-opacity="0.32"/>
<path d="M467.9 258.2 L471.4 261.2 L474.8 263.7 L478.3 262.1 L481.7 263.0 L485.1 263.9 L488.6 264.8 L492.0 265.7 L495.5 266.6 L498.9 267.5 L502.3 268.1 L505.8 268.7 L509.2 269.3 L512.7 269.9 L516.1 270.5 L519.5 271.2 L523.0 271.5 L526.4 271.9 L529.9 272.2 L533.3 273.0 L536.7 273.9 L540.2 274.7 L543.6 275.5 L547.1 276.4 L550.5 277.2 L553.9 278.1 L557.4 278.9 L560.8 279.7 L564.3 280.4 L567.7 281.2 L571.1 281.9 L574.6 282.7 L578.0 283.4 L581.5 284.2 L584.9 284.9 L588.3 285.7 L591.8 286.4 L595.2 287.2 L598.7 287.9 L602.1 288.7 L605.5 289.4 L609.0 290.2 L612.4 290.9 L615.9 291.7 L619.3 292.4 L622.7 293.2 L626.2 293.9 L629.6 294.7 L633.1 295.4 L636.5 296.2 L639.9 296.9 L643.4 297.7 L646.8 298.3 L650.3 298.8 L653.7 299.4 L657.1 299.9 L660.6 300.4 L664.0 300.9 L667.5 301.5 L670.9 302.0 L674.3 302.5 L677.8 303.1 L681.2 303.6 L684.7 304.1 L688.1 304.6 L691.5 305.2 L695.0 305.7 L698.4 306.2 L701.9 306.6 L705.3 307.0 L708.7 307.5 L712.2 307.9 L715.6 308.3 L719.1 308.7 L722.5 309.2 L725.9 309.6 L729.4 310.0 L732.8 310.4 L736.3 310.9 L739.7 311.3 L743.1 311.7 L746.6 312.1 L750.0 312.6 L753.5 313.0 L756.9 313.4 L760.3 313.9 L763.8 314.3 L767.2 314.7 L770.7 315.1 L774.1 315.5 L777.5 315.9 L781.0 316.3 L784.4 316.7 L787.9 317.2 L791.3 317.6 L794.7 318.0 L798.2 318.4 L801.6 318.8 L805.1 319.2 L808.5 319.6 L811.9 320.1 L815.4 320.5 L818.8 320.9 L818.8 332.2 L815.4 331.8 L811.9 331.3 L808.5 330.9 L805.1 330.4 L801.6 330.0 L798.2 329.5 L794.7 329.1 L791.3 328.6 L787.9 328.2 L784.4 327.7 L781.0 327.2 L777.5 326.8 L774.1 326.3 L770.7 325.9 L767.2 325.4 L763.8 325.0 L760.3 324.5 L756.9 324.0 L753.5 323.6 L750.0 323.1 L746.6 322.6 L743.1 322.2 L739.7 321.7 L736.3 321.2 L732.8 320.8 L729.4 320.3 L725.9 319.8 L722.5 319.4 L719.1 318.9 L715.6 318.4 L712.2 318.0 L708.7 317.5 L705.3 317.0 L701.9 316.6 L698.4 316.1 L695.0 315.5 L691.5 314.9 L688.1 314.4 L684.7 313.8 L681.2 313.2 L677.8 312.6 L674.3 312.0 L670.9 311.4 L667.5 310.8 L664.0 310.2 L660.6 309.7 L657.1 309.1 L653.7 308.5 L650.3 307.9 L646.8 307.3 L643.4 306.6 L639.9 305.8 L636.5 305.0 L633.1 304.2 L629.6 303.4 L626.2 302.5 L622.7 301.7 L619.3 300.9 L615.9 300.1 L612.4 299.3 L609.0 298.5 L605.5 297.7 L602.1 296.9 L598.7 296.1 L595.2 295.3 L591.8 294.4 L588.3 293.6 L584.9 292.8 L581.5 292.0 L578.0 291.2 L574.6 290.4 L571.1 289.6 L567.7 288.8 L564.3 288.0 L560.8 287.1 L557.4 286.3 L553.9 285.4 L550.5 284.5 L547.1 283.6 L543.6 282.7 L540.2 281.8 L536.7 280.9 L533.3 280.0 L529.9 279.1 L526.4 278.7 L523.0 278.3 L519.5 277.8 L516.1 277.2 L512.7 276.5 L509.2 275.8 L505.8 275.1 L502.3 274.4 L498.9 273.7 L495.5 272.8 L492.0 271.8 L488.6 270.9 L485.1 269.9 L481.7 268.9 L478.3 268.0 L474.8 269.5 L471.4 266.9 L467.9 263.9Z" fill="#ff6666" fill-opacity="0.32"/>
<path d="M467.1 260.7h1.75v1.75h-1.75zM470.5 263.7h1.75v1.75h-1.75zM473.9 266.2h1.75v1.75h-1.75zM477.4 264.8h1.75v1.75h-1.75zM480.8 265.6h1.75v1.75h-1.75zM484.3 266.5h1.75v1.75h-1.75zM487.7 267.3h1.75v1.75h-1.75zM491.1 268.2h1.75v1.75h-1.75zM494.6 269.4h1.75v1.75h-1.75zM498.0 270.6h1.75v1.75h-1.75zM501.5 271.5h1.75v1.75h-1.75zM504.9 272.4h1.75v1.75h-1.75zM508.3 273.3h1.75v1.75h-1.75zM511.8 274.9h1.75v1.75h-1.75zM515.2 276.4h1.75v1.75h-1.75zM518.7 278.1h1.75v1.75h-1.75zM522.1 279.8h1.75v1.75h-1.75zM525.5 281.4h1.75v1.75h-1.75zM529.0 283.1h1.75v1.75h-1.75zM532.4 284.2h1.75v1.75h-1.75zM535.9 285.4h1.75v1.75h-1.75zM539.3 286.8h1.75v1.75h-1.75zM542.7 288.2h1.75v1.75h-1.75zM546.2 289.8h1.75v1.75h-1.75zM549.6 291.4h1.75v1.75h-1.75zM553.1 293.0h1.75v1.75h-1.75zM556.5 294.6h1.75v1.75h-1.75zM559.9 296.0h1.75v1.75h-1.75zM563.4 297.3h1.75v1.75h-1.75zM566.8 298.6h1.75v1.75h-1.75zM570.3 299.9h1.75v1.75h-1.75zM573.7 301.1h1.75v1.75h-1.75zM577.1 302.4h1.75v1.75h-1.75zM580.6 303.7h1.75v1.75h-1.75zM584.0 305.0h1.75v1.75h-1.75zM587.5 306.3h1.75v1.75h-1.75zM590.9 307.4h1.75v1.75h-1.75zM594.3 308.5h1.75v1.75h-1.75zM597.8 309.6h1.75v1.75h-1.75zM601.2 310.7h1.75v1.75h-1.75zM604.7 311.9h1.75v1.75h-1.75zM608.1 313.0h1.75v1.75h-1.75zM611.5 314.1h1.75v1.75h-1.75zM615.0 315.2h1.75v1.75h-1.75zM618.4 316.4h1.75v1.75h-1.75zM621.9 317.6h1.75v1.75h-1.75zM625.3 318.9h1.75v1.75h-1.75zM628.7 320.1h1.75v1.75h-1.75zM632.2 321.3h1.75v1.75h-1.75zM635.6 322.5h1.75v1.75h-1.75zM639.1 323.7h1.75v1.75h-1.75zM642.5 325.0h1.75v1.75h-1.75zM645.9 325.7h1.75v1.75h-1.75zM649.4 326.5h1.75v1.75h-1.75zM652.8 327.2h1.75v1.75h-1.75zM656.3 328.0h1.75v1.75h-1.75zM659.7 328.7h1.75v1.75h-1.75zM663.1 329.5h1.75v1.75h-1.75zM666.6 330.2h1.75v1.75h-1.75zM670.0 331.0h1.75v1.75h-1.75zM673.5 331.8h1.75v1.75h-1.75zM676.9 332.5h1.75v1.75h-1.75zM680.3 333.3h1.75v1.75h-1.75zM683.8 334.0h1.75v1.75h-1.75zM687.2 334.8h1.75v1.75h-1.75zM690.7 335.5h1.75v1.75h-1.75zM694.1 336.3h1.75v1.75h-1.75zM697.5 337.0h1.75v1.75h-1.75zM701.0 337.7h1.75v1.75h-1.75zM704.4 338.3h1.75v1.75h-1.75zM707.9 338.9h1.75v1.75h-1.75zM711.3 339.6h1.75v1.75h-1.75zM714.7 340.2h1.75v1.75h-1.75zM718.2 340.8h1.75v1.75h-1.75zM721.6 341.5h1.75v1.75h-1.75zM725.1 342.1h1.75v1.75h-1.75zM728.5 342.8h1.75v1.75h-1.75zM731.9 343.4h1.75v1.75h-1.75zM735.4 344.0h1.75v1.75h-1.75zM738.8 344.7h1.75v1.75h-1.75zM742.3 345.3h1.75v1.75h-1.75zM745.7 345.9h1.75v1.75h-1.75zM749.1 346.6h1.75v1.75h-1.75zM752.6 347.2h1.75v1.75h-1.75zM756.0 347.9h1.75v1.75h-1.75zM759.5 348.5h1.75v1.75h-1.75zM762.9 348.9h1.75v1.75h-1.75zM766.3 349.4h1.75v1.75h-1.75zM769.8 349.9h1.75v1.75h-1.75zM773.2 350.3h1.75v1.75h-1.75zM776.7 350.8h1.75v1.75h-1.75zM780.1 351.2h1.75v1.75h-1.75zM783.5 351.7h1.75v1.75h-1.75zM787.0 352.2h1.75v1.75h-1.75zM790.4 352.6h1.75v1.75h-1.75zM793.9 353.1h1.75v1.75h-1.75zM797.3 353.5h1.75v1.75h-1.75zM800.7 354.0h1.75v1.75h-1.75zM804.2 354.5h1.75v1.75h-1.75zM807.6 354.9h1.75v1.75h-1.75zM811.1 355.4h1.75v1.75h-1.75zM814.5 355.8h1.75v1.75h-1.75zM817.9 356.3h1.75v1.75h-1.75z" fill="#77741a"/>
<path d="M467.1 269.2h1.75v1.75h-1.75zM470.5 273.3h1.75v1.75h-1.75zM473.9 275.7h1.75v1.75h-1.75zM477.4 273.7h1.75v1.75h-1.75zM480.8 274.2h1.75v1.75h-1.75zM484.3 274.7h1.75v1.75h-1.75zM487.7 275.1h1.75v1.75h-1.75zM491.1 275.6h1.75v1.75h-1.75zM494.6 276.1h1.75v1.75h-1.75zM498.0 276.6h1.75v1.75h-1.75zM501.5 277.3h1.75v1.75h-1.75zM504.9 278.0h1.75v1.75h-1.75zM508.3 278.8h1.75v1.75h-1.75zM511.8 279.5h1.75v1.75h-1.75zM515.2 280.3h1.75v1.75h-1.75zM518.7 281.0h1.75v1.75h-1.75zM522.1 281.5h1.75v1.75h-1.75zM525.5 281.8h1.75v1.75h-1.75zM529.0 282.2h1.75v1.75h-1.75zM532.4 282.8h1.75v1.75h-1.75zM535.9 283.5h1.75v1.75h-1.75zM539.3 284.1h1.75v1.75h-1.75zM542.7 284.7h1.75v1.75h-1.75zM546.2 285.3h1.75v1.75h-1.75zM549.6 285.9h1.75v1.75h-1.75zM553.1 286.5h1.75v1.75h-1.75zM556.5 287.1h1.75v1.75h-1.75zM559.9 287.8h1.75v1.75h-1.75zM563.4 288.4h1.75v1.75h-1.75zM566.8 289.1h1.75v1.75h-1.75zM570.3 289.8h1.75v1.75h-1.75zM573.7 290.5h1.75v1.75h-1.75zM577.1 291.1h1.75v1.75h-1.75zM580.6 291.8h1.75v1.75h-1.75zM584.0 292.5h1.75v1.75h-1.75zM587.5 293.2h1.75v1.75h-1.75zM590.9 293.8h1.75v1.75h-1.75zM594.3 294.4h1.75v1.75h-1.75zM597.8 295.0h1.75v1.75h-1.75zM601.2 295.6h1.75v1.75h-1.75zM604.7 296.2h1.75v1.75h-1.75zM608.1 296.8h1.75v1.75h-1.75zM611.5 297.4h1.75v1.75h-1.75zM615.0 298.0h1.75v1.75h-1.75zM618.4 298.6h1.75v1.75h-1.75zM621.9 299.2h1.75v1.75h-1.75zM625.3 299.8h1.75v1.75h-1.75zM628.7 300.4h1.75v1.75h-1.75zM632.2 301.0h1.75v1.75h-1.75zM635.6 301.6h1.75v1.75h-1.75zM639.1 302.2h1.75v1.75h-1.75zM642.5 302.8h1.75v1.75h-1.75zM645.9 303.3h1.75v1.75h-1.75zM649.4 303.8h1.75v1.75h-1.75zM652.8 304.4h1.75v1.75h-1.75zM656.3 304.9h1.75v1.75h-1.75zM659.7 305.4h1.75v1.75h-1.75zM663.1 305.9h1.75v1.75h-1.75zM666.6 306.5h1.75v1.75h-1.75zM670.0 307.0h1.75v1.75h-1.75zM673.5 307.5h1.75v1.75h-1.75zM676.9 308.0h1.75v1.75h-1.75zM680.3 308.6h1.75v1.75h-1.75zM683.8 309.1h1.75v1.75h-1.75zM687.2 309.6h1.75v1.75h-1.75zM690.7 310.1h1.75v1.75h-1.75zM694.1 310.7h1.75v1.75h-1.75zM697.5 311.2h1.75v1.75h-1.75zM701.0 311.6h1.75v1.75h-1.75zM704.4 312.1h1.75v1.75h-1.75zM707.9 312.6h1.75v1.75h-1.75zM711.3 313.0h1.75v1.75h-1.75zM714.7 313.5h1.75v1.75h-1.75zM718.2 314.0h1.75v1.75h-1.75zM721.6 314.5h1.75v1.75h-1.75zM725.1 314.9h1.75v1.75h-1.75zM728.5 315.4h1.75v1.75h-1.75zM731.9 315.9h1.75v1.75h-1.75zM735.4 316.3h1.75v1.75h-1.75zM738.8 316.8h1.75v1.75h-1.75zM742.3 317.3h1.75v1.75h-1.75zM745.7 317.8h1.75v1.75h-1.75zM749.1 318.2h1.75v1.75h-1.75zM752.6 318.7h1.75v1.75h-1.75zM756.0 319.2h1.75v1.75h-1.75zM759.5 319.6h1.75v1.75h-1.75zM762.9 320.0h1.75v1.75h-1.75zM766.3 320.3h1.75v1.75h-1.75zM769.8 320.6h1.75v1.75h-1.75zM773.2 320.9h1.75v1.75h-1.75zM776.7 321.2h1.75v1.75h-1.75zM780.1 321.6h1.75v1.75h-1.75zM783.5 321.9h1.75v1.75h-1.75zM787.0 322.2h1.75v1.75h-1.75zM790.4 322.5h1.75v1.75h-1.75zM793.9 322.9h1.75v1.75h-1.75zM797.3 323.2h1.75v1.75h-1.75zM800.7 323.5h1.75v1.75h-1.75zM804.2 323.8h1.75v1.75h-1.75zM807.6 324.2h1.75v1.75h-1.75zM811.1 324.5h1.75v1.75h-1.75zM814.5 324.8h1.75v1.75h-1.75zM817.9 325.1h1.75v1.75h-1.75z" fill="#1f6f1f"/>
<path d="M467.1 260.6h1.75v1.75h-1.75zM470.5 263.6h1.75v1.75h-1.75zM473.9 266.1h1.75v1.75h-1.75zM477.4 264.5h1.75v1.75h-1.75zM480.8 265.5h1.75v1.75h-1.75zM484.3 266.4h1.75v1.75h-1.75zM487.7 267.3h1.75v1.75h-1.75zM491.1 268.2h1.75v1.75h-1.75zM494.6 269.1h1.75v1.75h-1.75zM498.0 270.1h1.75v1.75h-1.75zM501.5 270.7h1.75v1.75h-1.75zM504.9 271.3h1.75v1.75h-1.75zM508.3 272.0h1.75v1.75h-1.75zM511.8 272.6h1.75v1.75h-1.75zM515.2 273.3h1.75v1.75h-1.75zM518.7 273.9h1.75v1.75h-1.75zM522.1 274.3h1.75v1.75h-1.75zM525.5 274.6h1.75v1.75h-1.75zM529.0 275.0h1.75v1.75h-1.75zM532.4 275.9h1.75v1.75h-1.75zM535.9 276.7h1.75v1.75h-1.75zM539.3 277.6h1.75v1.75h-1.75zM542.7 278.5h1.75v1.75h-1.75zM546.2 279.3h1.75v1.75h-1.75zM549.6 280.2h1.75v1.75h-1.75zM553.1 281.0h1.75v1.75h-1.75zM556.5 281.9h1.75v1.75h-1.75zM559.9 282.7h1.75v1.75h-1.75zM563.4 283.5h1.75v1.75h-1.75zM566.8 284.2h1.75v1.75h-1.75zM570.3 285.0h1.75v1.75h-1.75zM573.7 285.8h1.75v1.75h-1.75zM577.1 286.6h1.75v1.75h-1.75zM580.6 287.3h1.75v1.75h-1.75zM584.0 288.1h1.75v1.75h-1.75zM587.5 288.9h1.75v1.75h-1.75zM590.9 289.7h1.75v1.75h-1.75zM594.3 290.4h1.75v1.75h-1.75zM597.8 291.2h1.75v1.75h-1.75zM601.2 292.0h1.75v1.75h-1.75zM604.7 292.8h1.75v1.75h-1.75zM608.1 293.5h1.75v1.75h-1.75zM611.5 294.3h1.75v1.75h-1.75zM615.0 295.1h1.75v1.75h-1.75zM618.4 295.9h1.75v1.75h-1.75zM621.9 296.6h1.75v1.75h-1.75zM625.3 297.4h1.75v1.75h-1.75zM628.7 298.2h1.75v1.75h-1.75zM632.2 298.9h1.75v1.75h-1.75zM635.6 299.7h1.75v1.75h-1.75zM639.1 300.5h1.75v1.75h-1.75zM642.5 301.3h1.75v1.75h-1.75zM645.9 301.9h1.75v1.75h-1.75zM649.4 302.5h1.75v1.75h-1.75zM652.8 303.1h1.75v1.75h-1.75zM656.3 303.6h1.75v1.75h-1.75zM659.7 304.2h1.75v1.75h-1.75zM663.1 304.7h1.75v1.75h-1.75zM666.6 305.3h1.75v1.75h-1.75zM670.0 305.8h1.75v1.75h-1.75zM673.5 306.4h1.75v1.75h-1.75zM676.9 306.9h1.75v1.75h-1.75zM680.3 307.5h1.75v1.75h-1.75zM683.8 308.0h1.75v1.75h-1.75zM687.2 308.6h1.75v1.75h-1.75zM690.7 309.1h1.75v1.75h-1.75zM694.1 309.7h1.75v1.75h-1.75zM697.5 310.2h1.75v1.75h-1.75zM701.0 310.6h1.75v1.75h-1.75zM704.4 311.0h1.75v1.75h-1.75zM707.9 311.5h1.75v1.75h-1.75zM711.3 311.9h1.75v1.75h-1.75zM714.7 312.3h1.75v1.75h-1.75zM718.2 312.7h1.75v1.75h-1.75zM721.6 313.2h1.75v1.75h-1.75zM725.1 313.6h1.75v1.75h-1.75zM728.5 314.0h1.75v1.75h-1.75zM731.9 314.4h1.75v1.75h-1.75zM735.4 314.9h1.75v1.75h-1.75zM738.8 315.3h1.75v1.75h-1.75zM742.3 315.7h1.75v1.75h-1.75zM745.7 316.1h1.75v1.75h-1.75zM749.1 316.6h1.75v1.75h-1.75zM752.6 317.0h1.75v1.75h-1.75zM756.0 317.4h1.75v1.75h-1.75zM759.5 317.9h1.75v1.75h-1.75zM762.9 318.3h1.75v1.75h-1.75zM766.3 318.7h1.75v1.75h-1.75zM769.8 319.1h1.75v1.75h-1.75zM773.2 319.5h1.75v1.75h-1.75zM776.7 319.9h1.75v1.75h-1.75zM780.1 320.3h1.75v1.75h-1.75zM783.5 320.7h1.75v1.75h-1.75zM787.0 321.2h1.75v1.75h-1.75zM790.4 321.6h1.75v1.75h-1.75zM793.9 322.0h1.75v1.75h-1.75zM797.3 322.4h1.75v1.75h-1.75zM800.7 322.8h1.75v1.75h-1.75zM804.2 323.2h1.75v1.75h-1.75zM807.6 323.6h1.75v1.75h-1.75zM811.1 324.0h1.75v1.75h-1.75zM814.5 324.5h1.75v1.75h-1.75zM817.9 324.9h1.75v1.75h-1.75z" fill="#e82020"/>
<path d="M467.1 268.8h1.75v1.75h-1.75zM470.5 272.5h1.75v1.75h-1.75zM473.9 275.0h1.75v1.75h-1.75zM477.4 273.2h1.75v1.75h-1.75zM480.8 273.6h1.75v1.75h-1.75zM484.3 274.1h1.75v1.75h-1.75zM487.7 274.5h1.75v1.75h-1.75zM491.1 274.9h1.75v1.75h-1.75zM494.6 275.3h1.75v1.75h-1.75zM498.0 275.7h1.75v1.75h-1.75zM501.5 276.4h1.75v1.75h-1.75zM504.9 277.1h1.75v1.75h-1.75zM508.3 277.8h1.75v1.75h-1.75zM511.8 278.5h1.75v1.75h-1.75zM515.2 279.1h1.75v1.75h-1.75zM518.7 279.8h1.75v1.75h-1.75zM522.1 280.2h1.75v1.75h-1.75zM525.5 280.5h1.75v1.75h-1.75zM529.0 280.9h1.75v1.75h-1.75zM532.4 281.2h1.75v1.75h-1.75zM535.9 281.5h1.75v1.75h-1.75zM539.3 281.8h1.75v1.75h-1.75zM542.7 282.2h1.75v1.75h-1.75zM546.2 282.5h1.75v1.75h-1.75zM549.6 282.8h1.75v1.75h-1.75zM553.1 283.2h1.75v1.75h-1.75zM556.5 283.5h1.75v1.75h-1.75zM559.9 283.9h1.75v1.75h-1.75zM563.4 284.4h1.75v1.75h-1.75zM566.8 285.0h1.75v1.75h-1.75zM570.3 285.5h1.75v1.75h-1.75zM573.7 286.0h1.75v1.75h-1.75zM577.1 286.5h1.75v1.75h-1.75zM580.6 287.0h1.75v1.75h-1.75zM584.0 287.5h1.75v1.75h-1.75zM587.5 288.0h1.75v1.75h-1.75zM590.9 288.5h1.75v1.75h-1.75zM594.3 289.1h1.75v1.75h-1.75zM597.8 289.6h1.75v1.75h-1.75zM601.2 290.1h1.75v1.75h-1.75zM604.7 290.6h1.75v1.75h-1.75zM608.1 291.2h1.75v1.75h-1.75zM611.5 291.7h1.75v1.75h-1.75zM615.0 292.2h1.75v1.75h-1.75zM618.4 292.8h1.75v1.75h-1.75zM621.9 293.4h1.75v1.75h-1.75zM625.3 294.0h1.75v1.75h-1.75zM628.7 294.6h1.75v1.75h-1.75zM632.2 295.2h1.75v1.75h-1.75zM635.6 295.8h1.75v1.75h-1.75zM639.1 296.5h1.75v1.75h-1.75zM642.5 297.1h1.75v1.75h-1.75zM645.9 297.6h1.75v1.75h-1.75zM649.4 298.1h1.75v1.75h-1.75zM652.8 298.5h1.75v1.75h-1.75zM656.3 299.0h1.75v1.75h-1.75zM659.7 299.4h1.75v1.75h-1.75zM663.1 299.9h1.75v1.75h-1.75zM666.6 300.4h1.75v1.75h-1.75zM670.0 300.8h1.75v1.75h-1.75zM673.5 301.3h1.75v1.75h-1.75zM676.9 301.7h1.75v1.75h-1.75zM680.3 302.2h1.75v1.75h-1.75zM683.8 302.7h1.75v1.75h-1.75zM687.2 303.1h1.75v1.75h-1.75zM690.7 303.6h1.75v1.75h-1.75zM694.1 304.0h1.75v1.75h-1.75zM697.5 304.5h1.75v1.75h-1.75zM701.0 304.8h1.75v1.75h-1.75zM704.4 305.1h1.75v1.75h-1.75zM707.9 305.4h1.75v1.75h-1.75zM711.3 305.7h1.75v1.75h-1.75zM714.7 306.0h1.75v1.75h-1.75zM718.2 306.4h1.75v1.75h-1.75zM721.6 306.7h1.75v1.75h-1.75zM725.1 307.0h1.75v1.75h-1.75zM728.5 307.3h1.75v1.75h-1.75zM731.9 307.6h1.75v1.75h-1.75zM735.4 307.9h1.75v1.75h-1.75zM738.8 308.2h1.75v1.75h-1.75zM742.3 308.6h1.75v1.75h-1.75zM745.7 308.9h1.75v1.75h-1.75zM749.1 309.2h1.75v1.75h-1.75zM752.6 309.5h1.75v1.75h-1.75zM756.0 309.8h1.75v1.75h-1.75zM759.5 310.1h1.75v1.75h-1.75zM762.9 310.5h1.75v1.75h-1.75zM766.3 310.8h1.75v1.75h-1.75zM769.8 311.2h1.75v1.75h-1.75zM773.2 311.5h1.75v1.75h-1.75zM776.7 311.9h1.75v1.75h-1.75zM780.1 312.2h1.75v1.75h-1.75zM783.5 312.6h1.75v1.75h-1.75zM787.0 312.9h1.75v1.75h-1.75zM790.4 313.3h1.75v1.75h-1.75zM793.9 313.6h1.75v1.75h-1.75zM797.3 314.0h1.75v1.75h-1.75zM800.7 314.3h1.75v1.75h-1.75zM804.2 314.7h1.75v1.75h-1.75zM807.6 315.0h1.75v1.75h-1.75zM811.1 315.4h1.75v1.75h-1.75zM814.5 315.8h1.75v1.75h-1.75zM817.9 316.1h1.75v1.75h-1.75z" fill="#111"/>
<path d="M467.9 421.4V427.1M467.0 421.4h1.8M467.0 427.1h1.8M471.4 392.9V401.4M470.5 392.9h1.8M470.5 401.4h1.8M474.8 391.2V398.0M473.9 391.2h1.8M473.9 398.0h1.8M478.3 375.2V380.3M477.4 375.2h1.8M477.4 380.3h1.8M481.7 380.3V386.4M480.8 380.3h1.8M480.8 386.4h1.8M485.1 380.5V386.7M484.2 380.5h1.8M484.2 386.7h1.8M488.6 380.7V386.9M487.7 380.7h1.8M487.7 386.9h1.8M492.0 380.9V387.1M491.1 380.9h1.8M491.1 387.1h1.8M495.5 381.1V387.3M494.6 381.1h1.8M494.6 387.3h1.8M498.9 381.3V387.5M498.0 381.3h1.8M498.0 387.5h1.8M502.3 381.6V387.9M501.4 381.6h1.8M501.4 387.9h1.8M505.8 381.9V388.3M504.9 381.9h1.8M504.9 388.3h1.8M509.2 382.3V388.7M508.3 382.3h1.8M508.3 388.7h1.8M512.7 382.6V389.0M511.8 382.6h1.8M511.8 389.0h1.8M516.1 383.0V389.4M515.2 383.0h1.8M515.2 389.4h1.8M519.5 383.3V389.8M518.6 383.3h1.8M518.6 389.8h1.8M523.0 383.7V390.1M522.1 383.7h1.8M522.1 390.1h1.8M526.4 384.0V390.5M525.5 384.0h1.8M525.5 390.5h1.8M529.9 384.3V390.9M529.0 384.3h1.8M529.0 390.9h1.8M533.3 384.7V391.3M532.4 384.7h1.8M532.4 391.3h1.8M536.7 385.0V391.6M535.8 385.0h1.8M535.8 391.6h1.8M540.2 385.3V392.0M539.3 385.3h1.8M539.3 392.0h1.8M543.6 385.6V392.3M542.7 385.6h1.8M542.7 392.3h1.8M547.1 385.9V392.7M546.2 385.9h1.8M546.2 392.7h1.8M550.5 386.3V393.0M549.6 386.3h1.8M549.6 393.0h1.8M553.9 386.6V393.3M553.0 386.6h1.8M553.0 393.3h1.8M557.4 386.9V393.7M556.5 386.9h1.8M556.5 393.7h1.8M560.8 387.2V394.0M559.9 387.2h1.8M559.9 394.0h1.8M564.3 387.5V394.4M563.4 387.5h1.8M563.4 394.4h1.8M567.7 387.8V394.7M566.8 387.8h1.8M566.8 394.7h1.8M571.1 388.2V395.1M570.2 388.2h1.8M570.2 395.1h1.8M574.6 388.5V395.4M573.7 388.5h1.8M573.7 395.4h1.8M578.0 388.8V395.8M577.1 388.8h1.8M577.1 395.8h1.8M581.5 389.1V396.1M580.6 389.1h1.8M580.6 396.1h1.8M584.9 389.4V396.5M584.0 389.4h1.8M584.0 396.5h1.8M588.3 389.7V396.8M587.4 389.7h1.8M587.4 396.8h1.8M591.8 390.0V397.2M590.9 390.0h1.8M590.9 397.2h1.8M595.2 390.4V397.5M594.3 390.4h1.8M594.3 397.5h1.8M598.7 390.7V397.9M597.8 390.7h1.8M597.8 397.9h1.8M602.1 391.0V398.2M601.2 391.0h1.8M601.2 398.2h1.8M605.5 391.1V398.3M604.6 391.1h1.8M604.6 398.3h1.8M609.0 391.2V398.5M608.1 391.2h1.8M608.1 398.5h1.8M612.4 391.3V398.6M611.5 391.3h1.8M611.5 398.6h1.8M615.9 391.4V398.8M615.0 391.4h1.8M615.0 398.8h1.8M619.3 391.6V398.9M618.4 391.6h1.8M618.4 398.9h1.8M622.7 391.7V399.1M621.8 391.7h1.8M621.8 399.1h1.8M626.2 391.8V399.2M625.3 391.8h1.8M625.3 399.2h1.8M629.6 391.9V399.4M628.7 391.9h1.8M628.7 399.4h1.8M633.1 392.0V399.5M632.2 392.0h1.8M632.2 399.5h1.8M636.5 392.1V399.6M635.6 392.1h1.8M635.6 399.6h1.8M639.9 392.2V399.8M639.0 392.2h1.8M639.0 399.8h1.8M643.4 392.3V399.9M642.5 392.3h1.8M642.5 399.9h1.8M646.8 392.4V400.1M645.9 392.4h1.8M645.9 400.1h1.8M650.3 392.6V400.2M649.4 392.6h1.8M649.4 400.2h1.8M653.7 392.7V400.4M652.8 392.7h1.8M652.8 400.4h1.8M657.1 392.8V400.5M656.2 392.8h1.8M656.2 400.5h1.8M660.6 392.9V400.6M659.7 392.9h1.8M659.7 400.6h1.8M664.0 393.0V400.8M663.1 393.0h1.8M663.1 400.8h1.8M667.5 393.1V400.9M666.6 393.1h1.8M666.6 400.9h1.8M670.9 393.2V401.1M670.0 393.2h1.8M670.0 401.1h1.8M674.3 393.3V401.2M673.4 393.3h1.8M673.4 401.2h1.8M677.8 393.4V401.3M676.9 393.4h1.8M676.9 401.3h1.8M681.2 393.4V401.3M680.3 393.4h1.8M680.3 401.3h1.8M684.7 393.5V401.4M683.8 393.5h1.8M683.8 401.4h1.8M688.1 393.5V401.5M687.2 393.5h1.8M687.2 401.5h1.8M691.5 393.6V401.6M690.6 393.6h1.8M690.6 401.6h1.8M695.0 393.7V401.7M694.1 393.7h1.8M694.1 401.7h1.8M698.4 393.7V401.8M697.5 393.7h1.8M697.5 401.8h1.8M701.9 393.8V401.9M701.0 393.8h1.8M701.0 401.9h1.8M705.3 393.8V402.0M704.4 393.8h1.8M704.4 402.0h1.8M708.7 393.9V402.1M707.8 393.9h1.8M707.8 402.1h1.8M712.2 394.0V402.2M711.3 394.0h1.8M711.3 402.2h1.8M715.6 394.0V402.3M714.7 394.0h1.8M714.7 402.3h1.8M719.1 394.1V402.4M718.2 394.1h1.8M718.2 402.4h1.8M722.5 394.1V402.5M721.6 394.1h1.8M721.6 402.5h1.8M725.9 394.2V402.5M725.0 394.2h1.8M725.0 402.5h1.8M729.4 394.3V402.6M728.5 394.3h1.8M728.5 402.6h1.8M732.8 394.3V402.7M731.9 394.3h1.8M731.9 402.7h1.8M736.3 394.4V402.8M735.4 394.4h1.8M735.4 402.8h1.8M739.7 394.4V402.9M738.8 394.4h1.8M738.8 402.9h1.8M743.1 394.4V402.9M742.2 394.4h1.8M742.2 402.9h1.8M746.6 394.3V402.9M745.7 394.3h1.8M745.7 402.9h1.8M750.0 394.3V402.8M749.1 394.3h1.8M749.1 402.8h1.8M753.5 394.2V402.8M752.6 394.2h1.8M752.6 402.8h1.8M756.9 394.1V402.8M756.0 394.1h1.8M756.0 402.8h1.8M760.3 394.1V402.7M759.4 394.1h1.8M759.4 402.7h1.8M763.8 394.0V402.7M762.9 394.0h1.8M762.9 402.7h1.8M767.2 394.0V402.7M766.3 394.0h1.8M766.3 402.7h1.8M770.7 393.9V402.7M769.8 393.9h1.8M769.8 402.7h1.8M774.1 393.8V402.6M773.2 393.8h1.8M773.2 402.6h1.8M777.5 393.8V402.6M776.6 393.8h1.8M776.6 402.6h1.8M781.0 393.7V402.6M780.1 393.7h1.8M780.1 402.6h1.8M784.4 393.7V402.5M783.5 393.7h1.8M783.5 402.5h1.8M787.9 393.6V402.5M787.0 393.6h1.8M787.0 402.5h1.8M791.3 393.5V402.5M790.4 393.5h1.8M790.4 402.5h1.8M794.7 393.5V402.5M793.8 393.5h1.8M793.8 402.5h1.8M798.2 393.4V402.4M797.3 393.4h1.8M797.3 402.4h1.8M801.6 393.4V402.4M800.7 393.4h1.8M800.7 402.4h1.8M805.1 393.3V402.4M804.2 393.3h1.8M804.2 402.4h1.8M808.5 393.2V402.3M807.6 393.2h1.8M807.6 402.3h1.8M811.9 393.2V402.3M811.0 393.2h1.8M811.0 402.3h1.8M815.4 393.1V402.3M814.5 393.1h1.8M814.5 402.3h1.8M818.8 393.1V402.2M817.9 393.1h1.8M817.9 402.2h1.8" stroke="#8a8420" stroke-width="0.6" fill="none" stroke-opacity="0.8"/>
<path d="M467.1 423.4h1.6v1.6h-1.6zM470.6 396.3h1.6v1.6h-1.6zM474.0 393.8h1.6v1.6h-1.6zM477.5 377.0h1.6v1.6h-1.6zM480.9 382.6h1.6v1.6h-1.6zM484.3 382.8h1.6v1.6h-1.6zM487.8 383.0h1.6v1.6h-1.6zM491.2 383.2h1.6v1.6h-1.6zM494.7 383.4h1.6v1.6h-1.6zM498.1 383.6h1.6v1.6h-1.6zM501.5 384.0h1.6v1.6h-1.6zM505.0 384.3h1.6v1.6h-1.6zM508.4 384.7h1.6v1.6h-1.6zM511.9 385.0h1.6v1.6h-1.6zM515.3 385.4h1.6v1.6h-1.6zM518.7 385.7h1.6v1.6h-1.6zM522.2 386.1h1.6v1.6h-1.6zM525.6 386.5h1.6v1.6h-1.6zM529.1 386.8h1.6v1.6h-1.6zM532.5 387.2h1.6v1.6h-1.6zM535.9 387.5h1.6v1.6h-1.6zM539.4 387.8h1.6v1.6h-1.6zM542.8 388.2h1.6v1.6h-1.6zM546.3 388.5h1.6v1.6h-1.6zM549.7 388.8h1.6v1.6h-1.6zM553.1 389.2h1.6v1.6h-1.6zM556.6 389.5h1.6v1.6h-1.6zM560.0 389.8h1.6v1.6h-1.6zM563.5 390.2h1.6v1.6h-1.6zM566.9 390.5h1.6v1.6h-1.6zM570.3 390.8h1.6v1.6h-1.6zM573.8 391.1h1.6v1.6h-1.6zM577.2 391.5h1.6v1.6h-1.6zM580.7 391.8h1.6v1.6h-1.6zM584.1 392.1h1.6v1.6h-1.6zM587.5 392.5h1.6v1.6h-1.6zM591.0 392.8h1.6v1.6h-1.6zM594.4 393.1h1.6v1.6h-1.6zM597.9 393.5h1.6v1.6h-1.6zM601.3 393.8h1.6v1.6h-1.6zM604.7 393.9h1.6v1.6h-1.6zM608.2 394.1h1.6v1.6h-1.6zM611.6 394.2h1.6v1.6h-1.6zM615.1 394.3h1.6v1.6h-1.6zM618.5 394.4h1.6v1.6h-1.6zM621.9 394.6h1.6v1.6h-1.6zM625.4 394.7h1.6v1.6h-1.6zM628.8 394.8h1.6v1.6h-1.6zM632.3 394.9h1.6v1.6h-1.6zM635.7 395.1h1.6v1.6h-1.6zM639.1 395.2h1.6v1.6h-1.6zM642.6 395.3h1.6v1.6h-1.6zM646.0 395.5h1.6v1.6h-1.6zM649.5 395.6h1.6v1.6h-1.6zM652.9 395.7h1.6v1.6h-1.6zM656.3 395.8h1.6v1.6h-1.6zM659.8 396.0h1.6v1.6h-1.6zM663.2 396.1h1.6v1.6h-1.6zM666.7 396.2h1.6v1.6h-1.6zM670.1 396.3h1.6v1.6h-1.6zM673.5 396.4h1.6v1.6h-1.6zM677.0 396.5h1.6v1.6h-1.6zM680.4 396.6h1.6v1.6h-1.6zM683.9 396.7h1.6v1.6h-1.6zM687.3 396.7h1.6v1.6h-1.6zM690.7 396.8h1.6v1.6h-1.6zM694.2 396.9h1.6v1.6h-1.6zM697.6 397.0h1.6v1.6h-1.6zM701.1 397.0h1.6v1.6h-1.6zM704.5 397.1h1.6v1.6h-1.6zM707.9 397.2h1.6v1.6h-1.6zM711.4 397.3h1.6v1.6h-1.6zM714.8 397.3h1.6v1.6h-1.6zM718.3 397.4h1.6v1.6h-1.6zM721.7 397.5h1.6v1.6h-1.6zM725.1 397.6h1.6v1.6h-1.6zM728.6 397.7h1.6v1.6h-1.6zM732.0 397.7h1.6v1.6h-1.6zM735.5 397.8h1.6v1.6h-1.6zM738.9 397.9h1.6v1.6h-1.6zM742.3 397.8h1.6v1.6h-1.6zM745.8 397.8h1.6v1.6h-1.6zM749.2 397.7h1.6v1.6h-1.6zM752.7 397.7h1.6v1.6h-1.6zM756.1 397.7h1.6v1.6h-1.6zM759.5 397.6h1.6v1.6h-1.6zM763.0 397.6h1.6v1.6h-1.6zM766.4 397.5h1.6v1.6h-1.6zM769.9 397.5h1.6v1.6h-1.6zM773.3 397.4h1.6v1.6h-1.6zM776.7 397.4h1.6v1.6h-1.6zM780.2 397.3h1.6v1.6h-1.6zM783.6 397.3h1.6v1.6h-1.6zM787.1 397.3h1.6v1.6h-1.6zM790.5 397.2h1.6v1.6h-1.6zM793.9 397.2h1.6v1.6h-1.6zM797.4 397.1h1.6v1.6h-1.6zM800.8 397.1h1.6v1.6h-1.6zM804.3 397.0h1.6v1.6h-1.6zM807.7 397.0h1.6v1.6h-1.6zM811.1 396.9h1.6v1.6h-1.6zM814.6 396.9h1.6v1.6h-1.6zM818.0 396.9h1.6v1.6h-1.6z" fill="#8a8420"/>
<path d="M467.9 455.9V471.8M467.0 455.9h1.8M467.0 471.8h1.8M471.4 399.7V415.0M470.5 399.7h1.8M470.5 415.0h1.8M474.8 391.5V402.8M473.9 391.5h1.8M473.9 402.8h1.8M478.3 377.3V381.3M477.4 377.3h1.8M477.4 381.3h1.8M481.7 383.9V389.0M480.8 383.9h1.8M480.8 389.0h1.8M485.1 383.9V389.0M484.2 383.9h1.8M484.2 389.0h1.8M488.6 383.9V389.0M487.7 383.9h1.8M487.7 389.0h1.8M492.0 383.9V389.0M491.1 383.9h1.8M491.1 389.0h1.8M495.5 383.9V388.9M494.6 383.9h1.8M494.6 388.9h1.8M498.9 383.9V388.9M498.0 383.9h1.8M498.0 388.9h1.8M502.3 384.0V388.9M501.4 384.0h1.8M501.4 388.9h1.8M505.8 384.0V388.9M504.9 384.0h1.8M504.9 388.9h1.8M509.2 384.0V388.9M508.3 384.0h1.8M508.3 388.9h1.8M512.7 384.0V388.9M511.8 384.0h1.8M511.8 388.9h1.8M516.1 384.0V388.9M515.2 384.0h1.8M515.2 388.9h1.8M519.5 384.0V388.9M518.6 384.0h1.8M518.6 388.9h1.8M523.0 384.0V388.9M522.1 384.0h1.8M522.1 388.9h1.8M526.4 384.0V388.9M525.5 384.0h1.8M525.5 388.9h1.8M529.9 384.0V388.8M529.0 384.0h1.8M529.0 388.8h1.8M533.3 384.0V388.8M532.4 384.0h1.8M532.4 388.8h1.8M536.7 384.1V388.8M535.8 384.1h1.8M535.8 388.8h1.8M540.2 384.1V388.8M539.3 384.1h1.8M539.3 388.8h1.8M543.6 384.1V388.8M542.7 384.1h1.8M542.7 388.8h1.8M547.1 384.1V388.8M546.2 384.1h1.8M546.2 388.8h1.8M550.5 384.1V388.8M549.6 384.1h1.8M549.6 388.8h1.8M553.9 384.1V388.8M553.0 384.1h1.8M553.0 388.8h1.8M557.4 384.1V388.8M556.5 384.1h1.8M556.5 388.8h1.8M560.8 384.1V388.8M559.9 384.1h1.8M559.9 388.8h1.8M564.3 384.1V388.7M563.4 384.1h1.8M563.4 388.7h1.8M567.7 384.2V388.7M566.8 384.2h1.8M566.8 388.7h1.8M571.1 384.2V388.7M570.2 384.2h1.8M570.2 388.7h1.8M574.6 384.2V388.7M573.7 384.2h1.8M573.7 388.7h1.8M578.0 384.2V388.7M577.1 384.2h1.8M577.1 388.7h1.8M581.5 384.2V388.7M580.6 384.2h1.8M580.6 388.7h1.8M584.9 384.2V388.7M584.0 384.2h1.8M584.0 388.7h1.8M588.3 384.2V388.7M587.4 384.2h1.8M587.4 388.7h1.8M591.8 384.2V388.7M590.9 384.2h1.8M590.9 388.7h1.8M595.2 384.2V388.6M594.3 384.2h1.8M594.3 388.6h1.8M598.7 384.2V388.6M597.8 384.2h1.8M597.8 388.6h1.8M602.1 384.3V388.6M601.2 384.3h1.8M601.2 388.6h1.8M605.5 384.3V388.6M604.6 384.3h1.8M604.6 388.6h1.8M609.0 384.3V388.6M608.1 384.3h1.8M608.1 388.6h1.8M612.4 384.3V388.6M611.5 384.3h1.8M611.5 388.6h1.8M615.9 384.3V388.6M615.0 384.3h1.8M615.0 388.6h1.8M619.3 384.3V388.6M618.4 384.3h1.8M618.4 388.6h1.8M622.7 384.3V388.6M621.8 384.3h1.8M621.8 388.6h1.8M626.2 384.3V388.6M625.3 384.3h1.8M625.3 388.6h1.8M629.6 384.3V388.5M628.7 384.3h1.8M628.7 388.5h1.8M633.1 384.3V388.5M632.2 384.3h1.8M632.2 388.5h1.8M636.5 384.4V388.5M635.6 384.4h1.8M635.6 388.5h1.8M639.9 384.4V388.5M639.0 384.4h1.8M639.0 388.5h1.8M643.4 384.4V388.5M642.5 384.4h1.8M642.5 388.5h1.8M646.8 384.4V388.5M645.9 384.4h1.8M645.9 388.5h1.8M650.3 384.4V388.4M649.4 384.4h1.8M649.4 388.4h1.8M653.7 384.4V388.4M652.8 384.4h1.8M652.8 388.4h1.8M657.1 384.4V388.4M656.2 384.4h1.8M656.2 388.4h1.8M660.6 384.4V388.4M659.7 384.4h1.8M659.7 388.4h1.8M664.0 384.4V388.4M663.1 384.4h1.8M663.1 388.4h1.8M667.5 384.4V388.3M666.6 384.4h1.8M666.6 388.3h1.8M670.9 384.4V388.3M670.0 384.4h1.8M670.0 388.3h1.8M674.3 384.4V388.3M673.4 384.4h1.8M673.4 388.3h1.8M677.8 384.4V388.3M676.9 384.4h1.8M676.9 388.3h1.8M681.2 384.4V388.3M680.3 384.4h1.8M680.3 388.3h1.8M684.7 384.4V388.2M683.8 384.4h1.8M683.8 388.2h1.8M688.1 384.4V388.2M687.2 384.4h1.8M687.2 388.2h1.8M691.5 384.4V388.2M690.6 384.4h1.8M690.6 388.2h1.8M695.0 384.4V388.2M694.1 384.4h1.8M694.1 388.2h1.8M698.4 384.4V388.2M697.5 384.4h1.8M697.5 388.2h1.8M701.9 384.4V388.1M701.0 384.4h1.8M701.0 388.1h1.8M705.3 384.4V388.1M704.4 384.4h1.8M704.4 388.1h1.8M708.7 384.4V388.1M707.8 384.4h1.8M707.8 388.1h1.8M712.2 384.4V388.1M711.3 384.4h1.8M711.3 388.1h1.8M715.6 384.4V388.1M714.7 384.4h1.8M714.7 388.1h1.8M719.1 384.4V388.0M718.2 384.4h1.8M718.2 388.0h1.8M722.5 384.4V388.0M721.6 384.4h1.8M721.6 388.0h1.8M725.9 384.4V388.0M725.0 384.4h1.8M725.0 388.0h1.8M729.4 384.4V388.0M728.5 384.4h1.8M728.5 388.0h1.8M732.8 384.4V388.0M731.9 384.4h1.8M731.9 388.0h1.8M736.3 384.4V387.9M735.4 384.4h1.8M735.4 387.9h1.8M739.7 384.4V387.9M738.8 384.4h1.8M738.8 387.9h1.8M743.1 384.4V387.9M742.2 384.4h1.8M742.2 387.9h1.8M746.6 384.4V387.9M745.7 384.4h1.8M745.7 387.9h1.8M750.0 384.4V387.9M749.1 384.4h1.8M749.1 387.9h1.8M753.5 384.4V387.8M752.6 384.4h1.8M752.6 387.8h1.8M756.9 384.4V387.8M756.0 384.4h1.8M756.0 387.8h1.8M760.3 384.4V387.8M759.4 384.4h1.8M759.4 387.8h1.8M763.8 384.4V387.8M762.9 384.4h1.8M762.9 387.8h1.8M767.2 384.4V387.8M766.3 384.4h1.8M766.3 387.8h1.8M770.7 384.4V387.7M769.8 384.4h1.8M769.8 387.7h1.8M774.1 384.4V387.7M773.2 384.4h1.8M773.2 387.7h1.8M777.5 384.4V387.7M776.6 384.4h1.8M776.6 387.7h1.8M781.0 384.4V387.7M780.1 384.4h1.8M780.1 387.7h1.8M784.4 384.4V387.7M783.5 384.4h1.8M783.5 387.7h1.8M787.9 384.4V387.6M787.0 384.4h1.8M787.0 387.6h1.8M791.3 384.4V387.6M790.4 384.4h1.8M790.4 387.6h1.8M794.7 384.4V387.6M793.8 384.4h1.8M793.8 387.6h1.8M798.2 384.4V387.6M797.3 384.4h1.8M797.3 387.6h1.8M801.6 384.4V387.6M800.7 384.4h1.8M800.7 387.6h1.8M805.1 384.4V387.5M804.2 384.4h1.8M804.2 387.5h1.8M808.5 384.4V387.5M807.6 384.4h1.8M807.6 387.5h1.8M811.9 384.4V387.5M811.0 384.4h1.8M811.0 387.5h1.8M815.4 384.4V387.5M814.5 384.4h1.8M814.5 387.5h1.8M818.8 384.4V387.5M817.9 384.4h1.8M817.9 387.5h1.8" stroke="#2a9a2a" stroke-width="0.6" fill="none" stroke-opacity="0.8"/>
<path d="M467.1 463.0h1.6v1.6h-1.6zM470.6 406.5h1.6v1.6h-1.6zM474.0 396.3h1.6v1.6h-1.6zM477.5 378.5h1.6v1.6h-1.6zM480.9 385.6h1.6v1.6h-1.6zM484.3 385.6h1.6v1.6h-1.6zM487.8 385.6h1.6v1.6h-1.6zM491.2 385.6h1.6v1.6h-1.6zM494.7 385.6h1.6v1.6h-1.6zM498.1 385.6h1.6v1.6h-1.6zM501.5 385.6h1.6v1.6h-1.6zM505.0 385.6h1.6v1.6h-1.6zM508.4 385.6h1.6v1.6h-1.6zM511.9 385.6h1.6v1.6h-1.6zM515.3 385.6h1.6v1.6h-1.6zM518.7 385.6h1.6v1.6h-1.6zM522.2 385.6h1.6v1.6h-1.6zM525.6 385.6h1.6v1.6h-1.6zM529.1 385.6h1.6v1.6h-1.6zM532.5 385.6h1.6v1.6h-1.6zM535.9 385.6h1.6v1.6h-1.6zM539.4 385.6h1.6v1.6h-1.6zM542.8 385.6h1.6v1.6h-1.6zM546.3 385.6h1.6v1.6h-1.6zM549.7 385.6h1.6v1.6h-1.6zM553.1 385.6h1.6v1.6h-1.6zM556.6 385.6h1.6v1.6h-1.6zM560.0 385.6h1.6v1.6h-1.6zM563.5 385.6h1.6v1.6h-1.6zM566.9 385.6h1.6v1.6h-1.6zM570.3 385.6h1.6v1.6h-1.6zM573.8 385.6h1.6v1.6h-1.6zM577.2 385.6h1.6v1.6h-1.6zM580.7 385.6h1.6v1.6h-1.6zM584.1 385.6h1.6v1.6h-1.6zM587.5 385.6h1.6v1.6h-1.6zM591.0 385.6h1.6v1.6h-1.6zM594.4 385.6h1.6v1.6h-1.6zM597.9 385.6h1.6v1.6h-1.6zM601.3 385.6h1.6v1.6h-1.6zM604.7 385.6h1.6v1.6h-1.6zM608.2 385.6h1.6v1.6h-1.6zM611.6 385.6h1.6v1.6h-1.6zM615.1 385.6h1.6v1.6h-1.6zM618.5 385.6h1.6v1.6h-1.6zM621.9 385.6h1.6v1.6h-1.6zM625.4 385.6h1.6v1.6h-1.6zM628.8 385.6h1.6v1.6h-1.6zM632.3 385.6h1.6v1.6h-1.6zM635.7 385.6h1.6v1.6h-1.6zM639.1 385.6h1.6v1.6h-1.6zM642.6 385.6h1.6v1.6h-1.6zM646.0 385.6h1.6v1.6h-1.6zM649.5 385.6h1.6v1.6h-1.6zM652.9 385.6h1.6v1.6h-1.6zM656.3 385.6h1.6v1.6h-1.6zM659.8 385.6h1.6v1.6h-1.6zM663.2 385.6h1.6v1.6h-1.6zM666.7 385.6h1.6v1.6h-1.6zM670.1 385.5h1.6v1.6h-1.6zM673.5 385.5h1.6v1.6h-1.6zM677.0 385.5h1.6v1.6h-1.6zM680.4 385.5h1.6v1.6h-1.6zM683.9 385.5h1.6v1.6h-1.6zM687.3 385.5h1.6v1.6h-1.6zM690.7 385.5h1.6v1.6h-1.6zM694.2 385.5h1.6v1.6h-1.6zM697.6 385.5h1.6v1.6h-1.6zM701.1 385.5h1.6v1.6h-1.6zM704.5 385.4h1.6v1.6h-1.6zM707.9 385.4h1.6v1.6h-1.6zM711.4 385.4h1.6v1.6h-1.6zM714.8 385.4h1.6v1.6h-1.6zM718.3 385.4h1.6v1.6h-1.6zM721.7 385.4h1.6v1.6h-1.6zM725.1 385.4h1.6v1.6h-1.6zM728.6 385.4h1.6v1.6h-1.6zM732.0 385.4h1.6v1.6h-1.6zM735.5 385.4h1.6v1.6h-1.6zM738.9 385.4h1.6v1.6h-1.6zM742.3 385.3h1.6v1.6h-1.6zM745.8 385.3h1.6v1.6h-1.6zM749.2 385.3h1.6v1.6h-1.6zM752.7 385.3h1.6v1.6h-1.6zM756.1 385.3h1.6v1.6h-1.6zM759.5 385.3h1.6v1.6h-1.6zM763.0 385.3h1.6v1.6h-1.6zM766.4 385.3h1.6v1.6h-1.6zM769.9 385.3h1.6v1.6h-1.6zM773.3 385.3h1.6v1.6h-1.6zM776.7 385.2h1.6v1.6h-1.6zM780.2 385.2h1.6v1.6h-1.6zM783.6 385.2h1.6v1.6h-1.6zM787.1 385.2h1.6v1.6h-1.6zM790.5 385.2h1.6v1.6h-1.6zM793.9 385.2h1.6v1.6h-1.6zM797.4 385.2h1.6v1.6h-1.6zM800.8 385.2h1.6v1.6h-1.6zM804.3 385.2h1.6v1.6h-1.6zM807.7 385.2h1.6v1.6h-1.6zM811.1 385.1h1.6v1.6h-1.6zM814.6 385.1h1.6v1.6h-1.6zM818.0 385.1h1.6v1.6h-1.6z" fill="#2a9a2a"/>
<path d="M467.9 449.7V461.0M467.0 449.7h1.8M467.0 461.0h1.8M471.4 390.0V396.1M470.5 390.0h1.8M470.5 396.1h1.8M474.8 388.5V392.6M473.9 388.5h1.8M473.9 392.6h1.8M478.3 372.7V374.7M477.4 372.7h1.8M477.4 374.7h1.8M481.7 378.3V380.3M480.8 378.3h1.8M480.8 380.3h1.8M485.1 378.3V380.3M484.2 378.3h1.8M484.2 380.3h1.8M488.6 378.3V380.3M487.7 378.3h1.8M487.7 380.3h1.8M492.0 378.3V380.3M491.1 378.3h1.8M491.1 380.3h1.8M495.5 378.3V380.3M494.6 378.3h1.8M494.6 380.3h1.8M498.9 378.3V380.3M498.0 378.3h1.8M498.0 380.3h1.8M502.3 378.3V380.3M501.4 378.3h1.8M501.4 380.3h1.8M505.8 378.3V380.3M504.9 378.3h1.8M504.9 380.3h1.8M509.2 378.3V380.3M508.3 378.3h1.8M508.3 380.3h1.8M512.7 378.3V380.3M511.8 378.3h1.8M511.8 380.3h1.8M516.1 378.3V380.3M515.2 378.3h1.8M515.2 380.3h1.8M519.5 378.3V380.3M518.6 378.3h1.8M518.6 380.3h1.8M523.0 378.3V380.4M522.1 378.3h1.8M522.1 380.4h1.8M526.4 378.3V380.4M525.5 378.3h1.8M525.5 380.4h1.8M529.9 378.3V380.4M529.0 378.3h1.8M529.0 380.4h1.8M533.3 378.3V380.4M532.4 378.3h1.8M532.4 380.4h1.8M536.7 378.3V380.4M535.8 378.3h1.8M535.8 380.4h1.8M540.2 378.3V380.4M539.3 378.3h1.8M539.3 380.4h1.8M543.6 378.3V380.4M542.7 378.3h1.8M542.7 380.4h1.8M547.1 378.3V380.4M546.2 378.3h1.8M546.2 380.4h1.8M550.5 378.3V380.4M549.6 378.3h1.8M549.6 380.4h1.8M553.9 378.3V380.4M553.0 378.3h1.8M553.0 380.4h1.8M557.4 378.3V380.4M556.5 378.3h1.8M556.5 380.4h1.8M560.8 378.3V380.4M559.9 378.3h1.8M559.9 380.4h1.8M564.3 378.3V380.4M563.4 378.3h1.8M563.4 380.4h1.8M567.7 378.3V380.4M566.8 378.3h1.8M566.8 380.4h1.8M571.1 378.3V380.4M570.2 378.3h1.8M570.2 380.4h1.8M574.6 378.4V380.4M573.7 378.4h1.8M573.7 380.4h1.8M578.0 378.4V380.4M577.1 378.4h1.8M577.1 380.4h1.8M581.5 378.4V380.4M580.6 378.4h1.8M580.6 380.4h1.8M584.9 378.4V380.4M584.0 378.4h1.8M584.0 380.4h1.8M588.3 378.4V380.4M587.4 378.4h1.8M587.4 380.4h1.8M591.8 378.4V380.4M590.9 378.4h1.8M590.9 380.4h1.8M595.2 378.4V380.4M594.3 378.4h1.8M594.3 380.4h1.8M598.7 378.4V380.4M597.8 378.4h1.8M597.8 380.4h1.8M602.1 378.4V380.4M601.2 378.4h1.8M601.2 380.4h1.8M605.5 378.4V380.4M604.6 378.4h1.8M604.6 380.4h1.8M609.0 378.4V380.4M608.1 378.4h1.8M608.1 380.4h1.8M612.4 378.4V380.4M611.5 378.4h1.8M611.5 380.4h1.8M615.9 378.4V380.4M615.0 378.4h1.8M615.0 380.4h1.8M619.3 378.4V380.4M618.4 378.4h1.8M618.4 380.4h1.8M622.7 378.4V380.4M621.8 378.4h1.8M621.8 380.4h1.8M626.2 378.4V380.4M625.3 378.4h1.8M625.3 380.4h1.8M629.6 378.4V380.4M628.7 378.4h1.8M628.7 380.4h1.8M633.1 378.4V380.4M632.2 378.4h1.8M632.2 380.4h1.8M636.5 378.4V380.4M635.6 378.4h1.8M635.6 380.4h1.8M639.9 378.4V380.4M639.0 378.4h1.8M639.0 380.4h1.8M643.4 378.4V380.4M642.5 378.4h1.8M642.5 380.4h1.8M646.8 378.4V380.4M645.9 378.4h1.8M645.9 380.4h1.8M650.3 378.4V380.4M649.4 378.4h1.8M649.4 380.4h1.8M653.7 378.4V380.5M652.8 378.4h1.8M652.8 380.5h1.8M657.1 378.4V380.5M656.2 378.4h1.8M656.2 380.5h1.8M660.6 378.4V380.5M659.7 378.4h1.8M659.7 380.5h1.8M664.0 378.4V380.5M663.1 378.4h1.8M663.1 380.5h1.8M667.5 378.4V380.5M666.6 378.4h1.8M666.6 380.5h1.8M670.9 378.4V380.5M670.0 378.4h1.8M670.0 380.5h1.8M674.3 378.4V380.5M673.4 378.4h1.8M673.4 380.5h1.8M677.8 378.4V380.5M676.9 378.4h1.8M676.9 380.5h1.8M681.2 378.4V380.5M680.3 378.4h1.8M680.3 380.5h1.8M684.7 378.4V380.5M683.8 378.4h1.8M683.8 380.5h1.8M688.1 378.4V380.5M687.2 378.4h1.8M687.2 380.5h1.8M691.5 378.4V380.5M690.6 378.4h1.8M690.6 380.5h1.8M695.0 378.4V380.5M694.1 378.4h1.8M694.1 380.5h1.8M698.4 378.4V380.5M697.5 378.4h1.8M697.5 380.5h1.8M701.9 378.4V380.5M701.0 378.4h1.8M701.0 380.5h1.8M705.3 378.4V380.5M704.4 378.4h1.8M704.4 380.5h1.8M708.7 378.5V380.5M707.8 378.5h1.8M707.8 380.5h1.8M712.2 378.5V380.5M711.3 378.5h1.8M711.3 380.5h1.8M715.6 378.5V380.5M714.7 378.5h1.8M714.7 380.5h1.8M719.1 378.5V380.5M718.2 378.5h1.8M718.2 380.5h1.8M722.5 378.5V380.5M721.6 378.5h1.8M721.6 380.5h1.8M725.9 378.5V380.5M725.0 378.5h1.8M725.0 380.5h1.8M729.4 378.5V380.5M728.5 378.5h1.8M728.5 380.5h1.8M732.8 378.5V380.5M731.9 378.5h1.8M731.9 380.5h1.8M736.3 378.5V380.5M735.4 378.5h1.8M735.4 380.5h1.8M739.7 378.5V380.5M738.8 378.5h1.8M738.8 380.5h1.8M743.1 378.5V380.5M742.2 378.5h1.8M742.2 380.5h1.8M746.6 378.5V380.5M745.7 378.5h1.8M745.7 380.5h1.8M750.0 378.5V380.5M749.1 378.5h1.8M749.1 380.5h1.8M753.5 378.5V380.5M752.6 378.5h1.8M752.6 380.5h1.8M756.9 378.5V380.5M756.0 378.5h1.8M756.0 380.5h1.8M760.3 378.5V380.5M759.4 378.5h1.8M759.4 380.5h1.8M763.8 378.5V380.5M762.9 378.5h1.8M762.9 380.5h1.8M767.2 378.5V380.5M766.3 378.5h1.8M766.3 380.5h1.8M770.7 378.5V380.5M769.8 378.5h1.8M769.8 380.5h1.8M774.1 378.5V380.5M773.2 378.5h1.8M773.2 380.5h1.8M777.5 378.5V380.5M776.6 378.5h1.8M776.6 380.5h1.8M781.0 378.5V380.5M780.1 378.5h1.8M780.1 380.5h1.8M784.4 378.5V380.5M783.5 378.5h1.8M783.5 380.5h1.8M787.9 378.5V380.6M787.0 378.5h1.8M787.0 380.6h1.8M791.3 378.5V380.6M790.4 378.5h1.8M790.4 380.6h1.8M794.7 378.5V380.6M793.8 378.5h1.8M793.8 380.6h1.8M798.2 378.5V380.6M797.3 378.5h1.8M797.3 380.6h1.8M801.6 378.5V380.6M800.7 378.5h1.8M800.7 380.6h1.8M805.1 378.5V380.6M804.2 378.5h1.8M804.2 380.6h1.8M808.5 378.5V380.6M807.6 378.5h1.8M807.6 380.6h1.8M811.9 378.5V380.6M811.0 378.5h1.8M811.0 380.6h1.8M815.4 378.5V380.6M814.5 378.5h1.8M814.5 380.6h1.8M818.8 378.5V380.6M817.9 378.5h1.8M817.9 380.6h1.8" stroke="#222" stroke-width="0.6" fill="none" stroke-opacity="0.8"/>
<path d="M467.1 454.6h1.6v1.6h-1.6zM470.6 392.3h1.6v1.6h-1.6zM474.0 389.7h1.6v1.6h-1.6zM477.5 372.9h1.6v1.6h-1.6zM480.9 378.5h1.6v1.6h-1.6zM484.3 378.5h1.6v1.6h-1.6zM487.8 378.5h1.6v1.6h-1.6zM491.2 378.5h1.6v1.6h-1.6zM494.7 378.5h1.6v1.6h-1.6zM498.1 378.5h1.6v1.6h-1.6zM501.5 378.5h1.6v1.6h-1.6zM505.0 378.5h1.6v1.6h-1.6zM508.4 378.5h1.6v1.6h-1.6zM511.9 378.5h1.6v1.6h-1.6zM515.3 378.5h1.6v1.6h-1.6zM518.7 378.5h1.6v1.6h-1.6zM522.2 378.5h1.6v1.6h-1.6zM525.6 378.5h1.6v1.6h-1.6zM529.1 378.5h1.6v1.6h-1.6zM532.5 378.5h1.6v1.6h-1.6zM535.9 378.5h1.6v1.6h-1.6zM539.4 378.5h1.6v1.6h-1.6zM542.8 378.5h1.6v1.6h-1.6zM546.3 378.5h1.6v1.6h-1.6zM549.7 378.6h1.6v1.6h-1.6zM553.1 378.6h1.6v1.6h-1.6zM556.6 378.6h1.6v1.6h-1.6zM560.0 378.6h1.6v1.6h-1.6zM563.5 378.6h1.6v1.6h-1.6zM566.9 378.6h1.6v1.6h-1.6zM570.3 378.6h1.6v1.6h-1.6zM573.8 378.6h1.6v1.6h-1.6zM577.2 378.6h1.6v1.6h-1.6zM580.7 378.6h1.6v1.6h-1.6zM584.1 378.6h1.6v1.6h-1.6zM587.5 378.6h1.6v1.6h-1.6zM591.0 378.6h1.6v1.6h-1.6zM594.4 378.6h1.6v1.6h-1.6zM597.9 378.6h1.6v1.6h-1.6zM601.3 378.6h1.6v1.6h-1.6zM604.7 378.6h1.6v1.6h-1.6zM608.2 378.6h1.6v1.6h-1.6zM611.6 378.6h1.6v1.6h-1.6zM615.1 378.6h1.6v1.6h-1.6zM618.5 378.6h1.6v1.6h-1.6zM621.9 378.6h1.6v1.6h-1.6zM625.4 378.6h1.6v1.6h-1.6zM628.8 378.6h1.6v1.6h-1.6zM632.3 378.6h1.6v1.6h-1.6zM635.7 378.6h1.6v1.6h-1.6zM639.1 378.6h1.6v1.6h-1.6zM642.6 378.6h1.6v1.6h-1.6zM646.0 378.6h1.6v1.6h-1.6zM649.5 378.6h1.6v1.6h-1.6zM652.9 378.6h1.6v1.6h-1.6zM656.3 378.6h1.6v1.6h-1.6zM659.8 378.6h1.6v1.6h-1.6zM663.2 378.6h1.6v1.6h-1.6zM666.7 378.6h1.6v1.6h-1.6zM670.1 378.6h1.6v1.6h-1.6zM673.5 378.6h1.6v1.6h-1.6zM677.0 378.6h1.6v1.6h-1.6zM680.4 378.7h1.6v1.6h-1.6zM683.9 378.7h1.6v1.6h-1.6zM687.3 378.7h1.6v1.6h-1.6zM690.7 378.7h1.6v1.6h-1.6zM694.2 378.7h1.6v1.6h-1.6zM697.6 378.7h1.6v1.6h-1.6zM701.1 378.7h1.6v1.6h-1.6zM704.5 378.7h1.6v1.6h-1.6zM707.9 378.7h1.6v1.6h-1.6zM711.4 378.7h1.6v1.6h-1.6zM714.8 378.7h1.6v1.6h-1.6zM718.3 378.7h1.6v1.6h-1.6zM721.7 378.7h1.6v1.6h-1.6zM725.1 378.7h1.6v1.6h-1.6zM728.6 378.7h1.6v1.6h-1.6zM732.0 378.7h1.6v1.6h-1.6zM735.5 378.7h1.6v1.6h-1.6zM738.9 378.7h1.6v1.6h-1.6zM742.3 378.7h1.6v1.6h-1.6zM745.8 378.7h1.6v1.6h-1.6zM749.2 378.7h1.6v1.6h-1.6zM752.7 378.7h1.6v1.6h-1.6zM756.1 378.7h1.6v1.6h-1.6zM759.5 378.7h1.6v1.6h-1.6zM763.0 378.7h1.6v1.6h-1.6zM766.4 378.7h1.6v1.6h-1.6zM769.9 378.7h1.6v1.6h-1.6zM773.3 378.7h1.6v1.6h-1.6zM776.7 378.7h1.6v1.6h-1.6zM780.2 378.7h1.6v1.6h-1.6zM783.6 378.7h1.6v1.6h-1.6zM787.1 378.7h1.6v1.6h-1.6zM790.5 378.7h1.6v1.6h-1.6zM793.9 378.7h1.6v1.6h-1.6zM797.4 378.7h1.6v1.6h-1.6zM800.8 378.7h1.6v1.6h-1.6zM804.3 378.7h1.6v1.6h-1.6zM807.7 378.7h1.6v1.6h-1.6zM811.1 378.7h1.6v1.6h-1.6zM814.6 378.8h1.6v1.6h-1.6zM818.0 378.8h1.6v1.6h-1.6z" fill="#222"/>
<path d="M467.9 431.3V437.0M467.0 431.3h1.8M467.0 437.0h1.8M471.4 389.0V398.2M470.5 389.0h1.8M470.5 398.2h1.8M474.8 388.0V395.1M473.9 388.0h1.8M473.9 395.1h1.8M478.3 374.2V376.2M477.4 374.2h1.8M477.4 376.2h1.8M481.7 379.8V382.9M480.8 379.8h1.8M480.8 382.9h1.8M485.1 379.8V382.9M484.2 379.8h1.8M484.2 382.9h1.8M488.6 379.8V382.9M487.7 379.8h1.8M487.7 382.9h1.8M492.0 379.8V382.9M491.1 379.8h1.8M491.1 382.9h1.8M495.5 379.8V382.9M494.6 379.8h1.8M494.6 382.9h1.8M498.9 379.8V382.9M498.0 379.8h1.8M498.0 382.9h1.8M502.3 379.8V382.9M501.4 379.8h1.8M501.4 382.9h1.8M505.8 379.8V382.9M504.9 379.8h1.8M504.9 382.9h1.8M509.2 379.9V382.9M508.3 379.9h1.8M508.3 382.9h1.8M512.7 379.9V382.9M511.8 379.9h1.8M511.8 382.9h1.8M516.1 379.9V382.9M515.2 379.9h1.8M515.2 382.9h1.8M519.5 379.9V382.9M518.6 379.9h1.8M518.6 382.9h1.8M523.0 379.9V382.9M522.1 379.9h1.8M522.1 382.9h1.8M526.4 379.9V382.9M525.5 379.9h1.8M525.5 382.9h1.8M529.9 379.9V382.9M529.0 379.9h1.8M529.0 382.9h1.8M533.3 379.9V382.9M532.4 379.9h1.8M532.4 382.9h1.8M536.7 379.9V383.0M535.8 379.9h1.8M535.8 383.0h1.8M540.2 379.9V383.0M539.3 379.9h1.8M539.3 383.0h1.8M543.6 379.9V383.0M542.7 379.9h1.8M542.7 383.0h1.8M547.1 379.9V383.0M546.2 379.9h1.8M546.2 383.0h1.8M550.5 379.9V383.0M549.6 379.9h1.8M549.6 383.0h1.8M553.9 379.9V383.0M553.0 379.9h1.8M553.0 383.0h1.8M557.4 379.9V383.0M556.5 379.9h1.8M556.5 383.0h1.8M560.8 379.9V383.0M559.9 379.9h1.8M559.9 383.0h1.8M564.3 379.9V383.0M563.4 379.9h1.8M563.4 383.0h1.8M567.7 379.9V383.0M566.8 379.9h1.8M566.8 383.0h1.8M571.1 379.9V383.0M570.2 379.9h1.8M570.2 383.0h1.8M574.6 380.0V383.0M573.7 380.0h1.8M573.7 383.0h1.8M578.0 380.0V383.0M577.1 380.0h1.8M577.1 383.0h1.8M581.5 380.0V383.0M580.6 380.0h1.8M580.6 383.0h1.8M584.9 380.0V383.0M584.0 380.0h1.8M584.0 383.0h1.8M588.3 380.0V383.0M587.4 380.0h1.8M587.4 383.0h1.8M591.8 380.0V383.0M590.9 380.0h1.8M590.9 383.0h1.8M595.2 380.0V383.0M594.3 380.0h1.8M594.3 383.0h1.8M598.7 380.0V383.0M597.8 380.0h1.8M597.8 383.0h1.8M602.1 380.0V383.1M601.2 380.0h1.8M601.2 383.1h1.8M605.5 380.0V383.1M604.6 380.0h1.8M604.6 383.1h1.8M609.0 380.0V383.1M608.1 380.0h1.8M608.1 383.1h1.8M612.4 380.0V383.1M611.5 380.0h1.8M611.5 383.1h1.8M615.9 380.0V383.1M615.0 380.0h1.8M615.0 383.1h1.8M619.3 380.0V383.1M618.4 380.0h1.8M618.4 383.1h1.8M622.7 380.0V383.1M621.8 380.0h1.8M621.8 383.1h1.8M626.2 380.0V383.1M625.3 380.0h1.8M625.3 383.1h1.8M629.6 380.0V383.1M628.7 380.0h1.8M628.7 383.1h1.8M633.1 380.0V383.1M632.2 380.0h1.8M632.2 383.1h1.8M636.5 380.0V383.1M635.6 380.0h1.8M635.6 383.1h1.8M639.9 380.0V383.1M639.0 380.0h1.8M639.0 383.1h1.8M643.4 380.1V383.1M642.5 380.1h1.8M642.5 383.1h1.8M646.8 380.1V383.1M645.9 380.1h1.8M645.9 383.1h1.8M650.3 380.1V383.1M649.4 380.1h1.8M649.4 383.1h1.8M653.7 380.1V383.1M652.8 380.1h1.8M652.8 383.1h1.8M657.1 380.1V383.1M656.2 380.1h1.8M656.2 383.1h1.8M660.6 380.1V383.1M659.7 380.1h1.8M659.7 383.1h1.8M664.0 380.1V383.1M663.1 380.1h1.8M663.1 383.1h1.8M667.5 380.1V383.2M666.6 380.1h1.8M666.6 383.2h1.8M670.9 380.1V383.2M670.0 380.1h1.8M670.0 383.2h1.8M674.3 380.1V383.2M673.4 380.1h1.8M673.4 383.2h1.8M677.8 380.1V383.2M676.9 380.1h1.8M676.9 383.2h1.8M681.2 380.1V383.2M680.3 380.1h1.8M680.3 383.2h1.8M684.7 380.1V383.2M683.8 380.1h1.8M683.8 383.2h1.8M688.1 380.1V383.2M687.2 380.1h1.8M687.2 383.2h1.8M691.5 380.1V383.2M690.6 380.1h1.8M690.6 383.2h1.8M695.0 380.1V383.2M694.1 380.1h1.8M694.1 383.2h1.8M698.4 380.1V383.2M697.5 380.1h1.8M697.5 383.2h1.8M701.9 380.1V383.2M701.0 380.1h1.8M701.0 383.2h1.8M705.3 380.1V383.2M704.4 380.1h1.8M704.4 383.2h1.8M708.7 380.2V383.2M707.8 380.2h1.8M707.8 383.2h1.8M712.2 380.2V383.2M711.3 380.2h1.8M711.3 383.2h1.8M715.6 380.2V383.2M714.7 380.2h1.8M714.7 383.2h1.8M719.1 380.2V383.2M718.2 380.2h1.8M718.2 383.2h1.8M722.5 380.2V383.2M721.6 380.2h1.8M721.6 383.2h1.8M725.9 380.2V383.2M725.0 380.2h1.8M725.0 383.2h1.8M729.4 380.2V383.2M728.5 380.2h1.8M728.5 383.2h1.8M732.8 380.2V383.2M731.9 380.2h1.8M731.9 383.2h1.8M736.3 380.2V383.3M735.4 380.2h1.8M735.4 383.3h1.8M739.7 380.2V383.3M738.8 380.2h1.8M738.8 383.3h1.8M743.1 380.2V383.3M742.2 380.2h1.8M742.2 383.3h1.8M746.6 380.2V383.3M745.7 380.2h1.8M745.7 383.3h1.8M750.0 380.2V383.3M749.1 380.2h1.8M749.1 383.3h1.8M753.5 380.2V383.3M752.6 380.2h1.8M752.6 383.3h1.8M756.9 380.2V383.3M756.0 380.2h1.8M756.0 383.3h1.8M760.3 380.2V383.3M759.4 380.2h1.8M759.4 383.3h1.8M763.8 380.2V383.3M762.9 380.2h1.8M762.9 383.3h1.8M767.2 380.2V383.3M766.3 380.2h1.8M766.3 383.3h1.8M770.7 380.2V383.3M769.8 380.2h1.8M769.8 383.3h1.8M774.1 380.3V383.3M773.2 380.3h1.8M773.2 383.3h1.8M777.5 380.3V383.3M776.6 380.3h1.8M776.6 383.3h1.8M781.0 380.3V383.3M780.1 380.3h1.8M780.1 383.3h1.8M784.4 380.3V383.3M783.5 380.3h1.8M783.5 383.3h1.8M787.9 380.3V383.3M787.0 380.3h1.8M787.0 383.3h1.8M791.3 380.3V383.3M790.4 380.3h1.8M790.4 383.3h1.8M794.7 380.3V383.3M793.8 380.3h1.8M793.8 383.3h1.8M798.2 380.3V383.3M797.3 380.3h1.8M797.3 383.3h1.8M801.6 380.3V383.4M800.7 380.3h1.8M800.7 383.4h1.8M805.1 380.3V383.4M804.2 380.3h1.8M804.2 383.4h1.8M808.5 380.3V383.4M807.6 380.3h1.8M807.6 383.4h1.8M811.9 380.3V383.4M811.0 380.3h1.8M811.0 383.4h1.8M815.4 380.3V383.4M814.5 380.3h1.8M814.5 383.4h1.8M818.8 380.3V383.4M817.9 380.3h1.8M817.9 383.4h1.8" stroke="#ee2020" stroke-width="0.6" fill="none" stroke-opacity="0.8"/>
<path d="M467.1 433.3h1.6v1.6h-1.6zM470.6 392.8h1.6v1.6h-1.6zM474.0 390.7h1.6v1.6h-1.6zM477.5 374.4h1.6v1.6h-1.6zM480.9 380.5h1.6v1.6h-1.6zM484.3 380.5h1.6v1.6h-1.6zM487.8 380.6h1.6v1.6h-1.6zM491.2 380.6h1.6v1.6h-1.6zM494.7 380.6h1.6v1.6h-1.6zM498.1 380.6h1.6v1.6h-1.6zM501.5 380.6h1.6v1.6h-1.6zM505.0 380.6h1.6v1.6h-1.6zM508.4 380.6h1.6v1.6h-1.6zM511.9 380.6h1.6v1.6h-1.6zM515.3 380.6h1.6v1.6h-1.6zM518.7 380.6h1.6v1.6h-1.6zM522.2 380.6h1.6v1.6h-1.6zM525.6 380.6h1.6v1.6h-1.6zM529.1 380.6h1.6v1.6h-1.6zM532.5 380.6h1.6v1.6h-1.6zM535.9 380.6h1.6v1.6h-1.6zM539.4 380.6h1.6v1.6h-1.6zM542.8 380.6h1.6v1.6h-1.6zM546.3 380.6h1.6v1.6h-1.6zM549.7 380.6h1.6v1.6h-1.6zM553.1 380.6h1.6v1.6h-1.6zM556.6 380.7h1.6v1.6h-1.6zM560.0 380.7h1.6v1.6h-1.6zM563.5 380.7h1.6v1.6h-1.6zM566.9 380.7h1.6v1.6h-1.6zM570.3 380.7h1.6v1.6h-1.6zM573.8 380.7h1.6v1.6h-1.6zM577.2 380.7h1.6v1.6h-1.6zM580.7 380.7h1.6v1.6h-1.6zM584.1 380.7h1.6v1.6h-1.6zM587.5 380.7h1.6v1.6h-1.6zM591.0 380.7h1.6v1.6h-1.6zM594.4 380.7h1.6v1.6h-1.6zM597.9 380.7h1.6v1.6h-1.6zM601.3 380.7h1.6v1.6h-1.6zM604.7 380.7h1.6v1.6h-1.6zM608.2 380.7h1.6v1.6h-1.6zM611.6 380.7h1.6v1.6h-1.6zM615.1 380.7h1.6v1.6h-1.6zM618.5 380.7h1.6v1.6h-1.6zM621.9 380.8h1.6v1.6h-1.6zM625.4 380.8h1.6v1.6h-1.6zM628.8 380.8h1.6v1.6h-1.6zM632.3 380.8h1.6v1.6h-1.6zM635.7 380.8h1.6v1.6h-1.6zM639.1 380.8h1.6v1.6h-1.6zM642.6 380.8h1.6v1.6h-1.6zM646.0 380.8h1.6v1.6h-1.6zM649.5 380.8h1.6v1.6h-1.6zM652.9 380.8h1.6v1.6h-1.6zM656.3 380.8h1.6v1.6h-1.6zM659.8 380.8h1.6v1.6h-1.6zM663.2 380.8h1.6v1.6h-1.6zM666.7 380.8h1.6v1.6h-1.6zM670.1 380.8h1.6v1.6h-1.6zM673.5 380.8h1.6v1.6h-1.6zM677.0 380.8h1.6v1.6h-1.6zM680.4 380.8h1.6v1.6h-1.6zM683.9 380.8h1.6v1.6h-1.6zM687.3 380.9h1.6v1.6h-1.6zM690.7 380.9h1.6v1.6h-1.6zM694.2 380.9h1.6v1.6h-1.6zM697.6 380.9h1.6v1.6h-1.6zM701.1 380.9h1.6v1.6h-1.6zM704.5 380.9h1.6v1.6h-1.6zM707.9 380.9h1.6v1.6h-1.6zM711.4 380.9h1.6v1.6h-1.6zM714.8 380.9h1.6v1.6h-1.6zM718.3 380.9h1.6v1.6h-1.6zM721.7 380.9h1.6v1.6h-1.6zM725.1 380.9h1.6v1.6h-1.6zM728.6 380.9h1.6v1.6h-1.6zM732.0 380.9h1.6v1.6h-1.6zM735.5 380.9h1.6v1.6h-1.6zM738.9 380.9h1.6v1.6h-1.6zM742.3 380.9h1.6v1.6h-1.6zM745.8 380.9h1.6v1.6h-1.6zM749.2 380.9h1.6v1.6h-1.6zM752.7 381.0h1.6v1.6h-1.6zM756.1 381.0h1.6v1.6h-1.6zM759.5 381.0h1.6v1.6h-1.6zM763.0 381.0h1.6v1.6h-1.6zM766.4 381.0h1.6v1.6h-1.6zM769.9 381.0h1.6v1.6h-1.6zM773.3 381.0h1.6v1.6h-1.6zM776.7 381.0h1.6v1.6h-1.6zM780.2 381.0h1.6v1.6h-1.6zM783.6 381.0h1.6v1.6h-1.6zM787.1 381.0h1.6v1.6h-1.6zM790.5 381.0h1.6v1.6h-1.6zM793.9 381.0h1.6v1.6h-1.6zM797.4 381.0h1.6v1.6h-1.6zM800.8 381.0h1.6v1.6h-1.6zM804.3 381.0h1.6v1.6h-1.6zM807.7 381.0h1.6v1.6h-1.6zM811.1 381.0h1.6v1.6h-1.6zM814.6 381.0h1.6v1.6h-1.6zM818.0 381.0h1.6v1.6h-1.6z" fill="#ee2020"/>
<line x1="464.5" y1="374.2" x2="821" y2="374.2" stroke="#888" stroke-width="0.7" stroke-dasharray="1.5 1.5"/>
<rect x="464.5" y="255.5" width="356.5" height="113.69999999999999" fill="none" stroke="#555" stroke-width="1"/>
<rect x="464.5" y="369.2" width="356.5" height="113.40000000000003" fill="none" stroke="#555" stroke-width="1"/>
<path d="M464.5 255.5v-2.8M464.5 366.4v5.6M464.5 482.6v2.8M481.7 255.5v-1.8M481.7 367.4v3.6M481.7 482.6v1.8M498.9 255.5v-2.8M498.9 366.4v5.6M498.9 482.6v2.8M516.1 255.5v-1.8M516.1 367.4v3.6M516.1 482.6v1.8M533.3 255.5v-2.8M533.3 366.4v5.6M533.3 482.6v2.8M550.5 255.5v-1.8M550.5 367.4v3.6M550.5 482.6v1.8M567.7 255.5v-2.8M567.7 366.4v5.6M567.7 482.6v2.8M584.9 255.5v-1.8M584.9 367.4v3.6M584.9 482.6v1.8M602.1 255.5v-2.8M602.1 366.4v5.6M602.1 482.6v2.8M619.3 255.5v-1.8M619.3 367.4v3.6M619.3 482.6v1.8M636.5 255.5v-2.8M636.5 366.4v5.6M636.5 482.6v2.8M653.7 255.5v-1.8M653.7 367.4v3.6M653.7 482.6v1.8M670.9 255.5v-2.8M670.9 366.4v5.6M670.9 482.6v2.8M688.1 255.5v-1.8M688.1 367.4v3.6M688.1 482.6v1.8M705.3 255.5v-2.8M705.3 366.4v5.6M705.3 482.6v2.8M722.5 255.5v-1.8M722.5 367.4v3.6M722.5 482.6v1.8M739.7 255.5v-2.8M739.7 366.4v5.6M739.7 482.6v2.8M756.9 255.5v-1.8M756.9 367.4v3.6M756.9 482.6v1.8M774.1 255.5v-2.8M774.1 366.4v5.6M774.1 482.6v2.8M791.3 255.5v-1.8M791.3 367.4v3.6M791.3 482.6v1.8M808.5 255.5v-2.8M808.5 366.4v5.6M808.5 482.6v2.8M461.7 369.2H464.5M821 369.2h2.8M462.7 361.1H464.5M821 361.1h1.8M461.7 353.0H464.5M821 353.0h2.8M462.7 344.8H464.5M821 344.8h1.8M461.7 336.7H464.5M821 336.7h2.8M462.7 328.6H464.5M821 328.6h1.8M461.7 320.5H464.5M821 320.5h2.8M462.7 312.4H464.5M821 312.4h1.8M461.7 304.2H464.5M821 304.2h2.8M462.7 296.1H464.5M821 296.1h1.8M461.7 288.0H464.5M821 288.0h2.8M462.7 279.9H464.5M821 279.9h1.8M461.7 271.7H464.5M821 271.7h2.8M462.7 263.6H464.5M821 263.6h1.8M461.7 255.5H464.5M821 255.5h2.8M461.7 374.2H464.5M821 374.2h2.8M462.7 386.9H464.5M821 386.9h1.8M461.7 399.7H464.5M821 399.7h2.8M462.7 412.4H464.5M821 412.4h1.8M461.7 425.2H464.5M821 425.2h2.8M462.7 427.1H464.5M821 427.1h1.8M461.7 441.2H464.5M821 441.2h2.8M462.7 455.4H464.5M821 455.4h1.8M461.7 469.5H464.5M821 469.5h2.8M462.7 483.6H464.5M821 483.6h1.8" stroke="#555" stroke-width="0.8"/>
<path d="M461.5 424.5l6 -2M461.5 427.5l6 -2M818 424.5l6 -2M818 427.5l6 -2" stroke="#555" stroke-width="0.7"/>
<rect x="463.7" y="424" width="1.6" height="3" fill="#fff"/><rect x="820.2" y="424" width="1.6" height="3" fill="#fff"/>
<text x="464.5" y="250.2" font-size="7.6" font-family="'Liberation Serif', 'Times New Roman', serif" text-anchor="middle" font-weight="bold" fill="#222" stroke="#222" stroke-width="0.25" >0</text>
<text x="464.5" y="493.8" font-size="7.6" font-family="'Liberation Serif', 'Times New Roman', serif" text-anchor="middle" font-weight="bold" fill="#333" stroke="#333" stroke-width="0.25" >0</text>
<text x="498.9" y="250.2" font-size="7.6" font-family="'Liberation Serif', 'Times New Roman', serif" text-anchor="middle" font-weight="bold" fill="#222" stroke="#222" stroke-width="0.25" >10</text>
<text x="498.9" y="493.8" font-size="7.6" font-family="'Liberation Serif', 'Times New Roman', serif" text-anchor="middle" font-weight="bold" fill="#333" stroke="#333" stroke-width="0.25" >10</text>
<text x="533.3" y="250.2" font-size="7.6" font-family="'Liberation Serif', 'Times New Roman', serif" text-anchor="middle" font-weight="bold" fill="#222" stroke="#222" stroke-width="0.25" >20</text>
<text x="533.3" y="493.8" font-size="7.6" font-family="'Liberation Serif', 'Times New Roman', serif" text-anchor="middle" font-weight="bold" fill="#333" stroke="#333" stroke-width="0.25" >20</text>
<text x="567.7" y="250.2" font-size="7.6" font-family="'Liberation Serif', 'Times New Roman', serif" text-anchor="middle" font-weight="bold" fill="#222" stroke="#222" stroke-width="0.25" >30</text>
<text x="567.7" y="493.8" font-size="7.6" font-family="'Liberation Serif', 'Times New Roman', serif" text-anchor="middle" font-weight="bold" fill="#333" stroke="#333" stroke-width="0.25" >30</text>
<text x="602.1" y="250.2" font-size="7.6" font-family="'Liberation Serif', 'Times New Roman', serif" text-anchor="middle" font-weight="bold" fill="#222" stroke="#222" stroke-width="0.25" >40</text>
<text x="602.1" y="493.8" font-size="7.6" font-family="'Liberation Serif', 'Times New Roman', serif" text-anchor="middle" font-weight="bold" fill="#333" stroke="#333" stroke-width="0.25" >40</text>
<text x="636.5" y="250.2" font-size="7.6" font-family="'Liberation Serif', 'Times New Roman', serif" text-anchor="middle" font-weight="bold" fill="#222" stroke="#222" stroke-width="0.25" >50</text>
<text x="636.5" y="493.8" font-size="7.6" font-family="'Liberation Serif', 'Times New Roman', serif" text-anchor="middle" font-weight="bold" fill="#333" stroke="#333" stroke-width="0.25" >50</text>
<text x="670.9" y="250.2" font-size="7.6" font-family="'Liberation Serif', 'Times New Roman', serif" text-anchor="middle" font-weight="bold" fill="#222" stroke="#222" stroke-width="0.25" >60</text>
<text x="670.9" y="493.8" font-size="7.6" font-family="'Liberation Serif', 'Times New Roman', serif" text-anchor="middle" font-weight="bold" fill="#333" stroke="#333" stroke-width="0.25" >60</text>
<text x="705.3" y="250.2" font-size="7.6" font-family="'Liberation Serif', 'Times New Roman', serif" text-anchor="middle" font-weight="bold" fill="#222" stroke="#222" stroke-width="0.25" >70</text>
<text x="705.3" y="493.8" font-size="7.6" font-family="'Liberation Serif', 'Times New Roman', serif" text-anchor="middle" font-weight="bold" fill="#333" stroke="#333" stroke-width="0.25" >70</text>
<text x="739.7" y="250.2" font-size="7.6" font-family="'Liberation Serif', 'Times New Roman', serif" text-anchor="middle" font-weight="bold" fill="#222" stroke="#222" stroke-width="0.25" >80</text>
<text x="739.7" y="493.8" font-size="7.6" font-family="'Liberation Serif', 'Times New Roman', serif" text-anchor="middle" font-weight="bold" fill="#333" stroke="#333" stroke-width="0.25" >80</text>
<text x="774.1" y="250.2" font-size="7.6" font-family="'Liberation Serif', 'Times New Roman', serif" text-anchor="middle" font-weight="bold" fill="#222" stroke="#222" stroke-width="0.25" >90</text>
<text x="774.1" y="493.8" font-size="7.6" font-family="'Liberation Serif', 'Times New Roman', serif" text-anchor="middle" font-weight="bold" fill="#333" stroke="#333" stroke-width="0.25" >90</text>
<text x="808.5" y="250.2" font-size="7.6" font-family="'Liberation Serif', 'Times New Roman', serif" text-anchor="middle" font-weight="bold" fill="#222" stroke="#222" stroke-width="0.25" >100</text>
<text x="808.5" y="493.8" font-size="7.6" font-family="'Liberation Serif', 'Times New Roman', serif" text-anchor="middle" font-weight="bold" fill="#333" stroke="#333" stroke-width="0.25" >100</text>
<text x="460.5" y="355.7" font-size="7.6" font-family="'Liberation Serif', 'Times New Roman', serif" text-anchor="end" font-weight="bold" fill="#333" stroke="#333" stroke-width="0.25" >20</text>
<text x="460.5" y="339.4" font-size="7.6" font-family="'Liberation Serif', 'Times New Roman', serif" text-anchor="end" font-weight="bold" fill="#333" stroke="#333" stroke-width="0.25" >40</text>
<text x="460.5" y="323.2" font-size="7.6" font-family="'Liberation Serif', 'Times New Roman', serif" text-anchor="end" font-weight="bold" fill="#333" stroke="#333" stroke-width="0.25" >60</text>
<text x="460.5" y="306.9" font-size="7.6" font-family="'Liberation Serif', 'Times New Roman', serif" text-anchor="end" font-weight="bold" fill="#333" stroke="#333" stroke-width="0.25" >80</text>
<text x="460.5" y="290.7" font-size="7.6" font-family="'Liberation Serif', 'Times New Roman', serif" text-anchor="end" font-weight="bold" fill="#333" stroke="#333" stroke-width="0.25" >100</text>
<text x="460.5" y="274.4" font-size="7.6" font-family="'Liberation Serif', 'Times New Roman', serif" text-anchor="end" font-weight="bold" fill="#333" stroke="#333" stroke-width="0.25" >120</text>
<text x="460.5" y="258.2" font-size="7.6" font-family="'Liberation Serif', 'Times New Roman', serif" text-anchor="end" font-weight="bold" fill="#333" stroke="#333" stroke-width="0.25" >140</text>
<text x="460.5" y="376.9" font-size="7.6" font-family="'Liberation Serif', 'Times New Roman', serif" text-anchor="end" font-weight="bold" fill="#333" stroke="#333" stroke-width="0.25" >100</text>
<text x="460.5" y="402.4" font-size="7.6" font-family="'Liberation Serif', 'Times New Roman', serif" text-anchor="end" font-weight="bold" fill="#333" stroke="#333" stroke-width="0.25" >95</text>
<text x="460.5" y="427.9" font-size="7.6" font-family="'Liberation Serif', 'Times New Roman', serif" text-anchor="end" font-weight="bold" fill="#333" stroke="#333" stroke-width="0.25" >90</text>
<text x="460.5" y="443.9" font-size="7.6" font-family="'Liberation Serif', 'Times New Roman', serif" text-anchor="end" font-weight="bold" fill="#333" stroke="#333" stroke-width="0.25" >70</text>
<text x="460.5" y="472.2" font-size="7.6" font-family="'Liberation Serif', 'Times New Roman', serif" text-anchor="end" font-weight="bold" fill="#333" stroke="#333" stroke-width="0.25" >60</text>
<text x="476.5" y="363.4" font-size="10.5" font-family="'Liberation Serif', 'Times New Roman', serif" text-anchor="start" font-weight="bold" fill="#1a1a1a" stroke="#1a1a1a" stroke-width="0.25" >(a)</text>
<text x="472.8" y="479.2" font-size="10.8" font-family="'Liberation Serif', 'Times New Roman', serif" text-anchor="start" font-weight="bold" fill="#1a1a1a" stroke="#1a1a1a" stroke-width="0.25" >(b)</text>
<text x="642.6" y="507.3" font-size="10.5" font-family="'Liberation Serif', 'Times New Roman', serif" text-anchor="middle" font-weight="bold" fill="#1a1a1a" stroke="#1a1a1a" stroke-width="0.25" >Cycle number</text>
<text x="0.0" y="0.0" font-size="10.9" font-family="'Liberation Serif', 'Times New Roman', serif" text-anchor="middle" font-weight="bold" fill="#222" stroke="#222" stroke-width="0.25" transform="translate(425.8 308) rotate(-90)">Discharge</text>
<text font-size="10.5" font-family="'Liberation Serif', 'Times New Roman', serif" text-anchor="middle" font-weight="bold" fill="#222" transform="translate(436.3 308) rotate(-90)">capacity / mAh g<tspan font-size="7" dy="-4.5">-1</tspan></text>
<text x="0.0" y="0.0" font-size="10.6" font-family="'Liberation Serif', 'Times New Roman', serif" text-anchor="middle" font-weight="bold" fill="#222" stroke="#222" stroke-width="0.25" transform="translate(432.6 431.7) rotate(-90)">Coulombic</text>
<text x="0.0" y="0.0" font-size="10.9" font-family="'Liberation Serif', 'Times New Roman', serif" text-anchor="middle" font-weight="bold" fill="#222" stroke="#222" stroke-width="0.25" transform="translate(443.9 432.4) rotate(-90)">efficiency / %</text>
<rect x="744.6" y="447.1" width="2" height="2" fill="#8a8420"/>
<text x="754.0" y="450.7" font-size="7.3" font-family="'Liberation Serif', 'Times New Roman', serif" text-anchor="start" font-weight="bold" fill="#333" stroke="#333" stroke-width="0.25" >Baseline</text>
<rect x="744.6" y="456.6" width="2" height="2" fill="#2a9a2a"/>
<text x="754.0" y="460.2" font-size="7.3" font-family="'Liberation Serif', 'Times New Roman', serif" text-anchor="start" font-weight="bold" fill="#333" stroke="#333" stroke-width="0.25" >Baseline + 2% PFPI</text>
<rect x="744.6" y="465.7" width="2" height="2" fill="#222"/>
<text x="754.0" y="469.3" font-size="7.3" font-family="'Liberation Serif', 'Times New Roman', serif" text-anchor="start" font-weight="bold" fill="#333" stroke="#333" stroke-width="0.25" >Baseline + 2% VC</text>
<rect x="744.6" y="474.9" width="2" height="2" fill="#ee2020"/>
<text x="754.0" y="478.5" font-size="7.3" font-family="'Liberation Serif', 'Times New Roman', serif" text-anchor="start" font-weight="bold" fill="#333" stroke="#333" stroke-width="0.25" >Baseline + 2% FEC</text>
<g>
<path d="M62.6 64.0 L68.5 47.4 L94.0 47.4 L98.8 64.0" fill="none" stroke="#2a2a2a" stroke-width="1.5" stroke-linejoin="round"/>
<path d="M94.0 47.4 L101.8 37.6" fill="none" stroke="#2a2a2a" stroke-width="1.5" stroke-linejoin="round"/>
<path d="M65.6 77.8 L80.8 86.6 L96.3 77.8" fill="none" stroke="#2a2a2a" stroke-width="1.5" stroke-linejoin="round"/>
<path d="M79.4 86.6 L79.4 105.2" fill="none" stroke="#2a2a2a" stroke-width="1.5" stroke-linejoin="round"/>
<path d="M82.5 88.0 L82.5 105.2" fill="none" stroke="#2a2a2a" stroke-width="1.5" stroke-linejoin="round"/>
<text x="108.2" y="33.9" font-size="16.8" font-family="'Liberation Sans', Arial, sans-serif" text-anchor="middle" font-weight="normal" fill="#222" stroke="#222" stroke-width="0.35">F</text>
<text x="59.7" y="78.3" font-size="17.6" font-family="'Liberation Sans', Arial, sans-serif" text-anchor="middle" font-weight="normal" fill="#222" stroke="#222" stroke-width="0.35">O</text>
<text x="101.3" y="78.3" font-size="17.6" font-family="'Liberation Sans', Arial, sans-serif" text-anchor="middle" font-weight="normal" fill="#222" stroke="#222" stroke-width="0.35">O</text>
<text x="80.8" y="118.8" font-size="17.6" font-family="'Liberation Sans', Arial, sans-serif" text-anchor="middle" font-weight="normal" fill="#222" stroke="#222" stroke-width="0.35">O</text>
<text x="82.2" y="140.3" font-size="12.2" font-family="'Liberation Serif', 'Times New Roman', serif" text-anchor="middle" font-weight="normal" fill="#222"  >FEC</text>
</g>
<path d="M490.2 71.7 L510.7 82.7 L510.7 106.4 L490.2 118.4 L469.6 106.6 L469.6 82.8 L490.2 71.7" fill="none" stroke="#3a3a3a" stroke-width="1.1" stroke-linejoin="round"/>
<path d="M492.0 75.6 L506.3 83.3" fill="none" stroke="#3a3a3a" stroke-width="1.1" stroke-linejoin="round"/>
<path d="M506.3 106.0 L491.9 114.4" fill="none" stroke="#3a3a3a" stroke-width="1.1" stroke-linejoin="round"/>
<path d="M472.2 103.1 L472.2 86.4" fill="none" stroke="#3a3a3a" stroke-width="1.1" stroke-linejoin="round"/>
<path d="M490.2 71.7 L490.2 52.3" fill="none" stroke="#3a3a3a" stroke-width="1.1" stroke-linejoin="round"/>
<text x="490.2" y="51.2" font-size="8.6" font-family="'Liberation Sans', Arial, sans-serif" text-anchor="middle" font-weight="normal" fill="#3a3a3a" stroke="#3a3a3a" stroke-width="0.22">F</text>
<path d="M469.6 82.8 L452.2 73.8" fill="none" stroke="#3a3a3a" stroke-width="1.1" stroke-linejoin="round"/>
<text x="448.4" y="74.9" font-size="8.6" font-family="'Liberation Sans', Arial, sans-serif" text-anchor="middle" font-weight="normal" fill="#3a3a3a" stroke="#3a3a3a" stroke-width="0.22">F</text>
<path d="M469.6 106.6 L452.6 115.8" fill="none" stroke="#3a3a3a" stroke-width="1.1" stroke-linejoin="round"/>
<text x="447.9" y="121.5" font-size="8.6" font-family="'Liberation Sans', Arial, sans-serif" text-anchor="middle" font-weight="normal" fill="#3a3a3a" stroke="#3a3a3a" stroke-width="0.22">F</text>
<path d="M490.2 118.4 L490.2 137.8" fill="none" stroke="#3a3a3a" stroke-width="1.1" stroke-linejoin="round"/>
<text x="489.6" y="145.3" font-size="8.6" font-family="'Liberation Sans', Arial, sans-serif" text-anchor="middle" font-weight="normal" fill="#3a3a3a" stroke="#3a3a3a" stroke-width="0.22">F</text>
<path d="M510.7 106.4 L527.0 115.3" fill="none" stroke="#3a3a3a" stroke-width="1.1" stroke-linejoin="round"/>
<text x="530.2" y="122.3" font-size="8.6" font-family="'Liberation Sans', Arial, sans-serif" text-anchor="middle" font-weight="normal" fill="#3a3a3a" stroke="#3a3a3a" stroke-width="0.22">F</text>
<path d="M510.7 82.7 L527.0 74.0" fill="none" stroke="#3a3a3a" stroke-width="1.1" stroke-linejoin="round"/>
<text x="530.7" y="74.4" font-size="8.6" font-family="'Liberation Sans', Arial, sans-serif" text-anchor="middle" font-weight="normal" fill="#3a3a3a" stroke="#3a3a3a" stroke-width="0.22">N</text>
<path d="M533.9 74.5 L547.6 82.2" fill="none" stroke="#3a3a3a" stroke-width="1.0" stroke-linejoin="round"/>
<path d="M535.1 72.5 L548.8 80.2" fill="none" stroke="#3a3a3a" stroke-width="1.0" stroke-linejoin="round"/>
<text x="551.8" y="86.1" font-size="8.6" font-family="'Liberation Sans', Arial, sans-serif" text-anchor="middle" font-weight="normal" fill="#3a3a3a" stroke="#3a3a3a" stroke-width="0.22">C</text>
<path d="M554.9 86.4 L568.1 94.3" fill="none" stroke="#3a3a3a" stroke-width="1.0" stroke-linejoin="round"/>
<path d="M556.1 84.4 L569.3 92.3" fill="none" stroke="#3a3a3a" stroke-width="1.0" stroke-linejoin="round"/>
<text x="572.4" y="98.6" font-size="8.6" font-family="'Liberation Sans', Arial, sans-serif" text-anchor="middle" font-weight="normal" fill="#3a3a3a" stroke="#3a3a3a" stroke-width="0.22">O</text>
<text x="488.7" y="162.5" font-size="12.5" font-family="'Liberation Serif', 'Times New Roman', serif" text-anchor="middle" font-weight="normal" fill="#222"  >PFPI</text>
<text x="14.4" y="175.4" font-size="9.65" font-family="'Liberation Sans', Arial, sans-serif" text-anchor="start" font-weight="bold" fill="#222" stroke="#222" stroke-width="0.2">LP30 + FEC sample</text>
<text x="14.4" y="182.6" font-size="7.2" font-family="'Liberation Sans', Arial, sans-serif" text-anchor="start" font-weight="normal" fill="#3a3a3a" stroke="#3a3a3a" stroke-width="0.2">Experimentally observed motifs:</text>
<text x="14.4" y="198.6" font-size="7.0" font-family="'Liberation Sans', Arial, sans-serif" text-anchor="start" font-weight="normal" fill="#3a3a3a" stroke="#3a3a3a" stroke-width="0.2">Solution:</text>
<text x="210.8" y="197.7" font-size="7.0" font-family="'Liberation Sans', Arial, sans-serif" text-anchor="start" font-weight="normal" fill="#3a3a3a" stroke="#3a3a3a" stroke-width="0.2">Solid state:</text>
<text x="210.8" y="206.4" font-size="7" font-family="'Liberation Sans', Arial, sans-serif" fill="#444">-CH<tspan font-size="4.5" dy="1.5">2</tspan><tspan dy="-1.5">CH</tspan><tspan font-size="4.5" dy="1.5">2</tspan><tspan dy="-1.5">O-, -OCOO-</tspan></text>
<path d="M23.8 211.8 L28.6 219.0" fill="none" stroke="#333" stroke-width="0.8" stroke-linejoin="round"/>
<path d="M25.0 211.0 L29.8 218.2" fill="none" stroke="#333" stroke-width="0.8" stroke-linejoin="round"/>
<path d="M29.2 218.6 L24.0 226.3" fill="none" stroke="#333" stroke-width="0.8" stroke-linejoin="round"/>
<path d="M29.2 218.6 L40.4 219.0" fill="none" stroke="#333" stroke-width="0.8" stroke-linejoin="round"/>
<path d="M40.4 219.0 L44.4 211.5" fill="none" stroke="#333" stroke-width="0.8" stroke-linejoin="round"/>
<text x="22.7" y="211.6" font-size="7.5" font-family="'Liberation Sans', Arial, sans-serif" text-anchor="middle" font-weight="normal" fill="#333" stroke="#333" stroke-width="0.22">O</text>
<text x="22.3" y="231.5" font-size="7.5" font-family="'Liberation Sans', Arial, sans-serif" text-anchor="middle" font-weight="normal" fill="#333" stroke="#333" stroke-width="0.22">H</text>
<text x="48.8" y="211.6" font-size="7.5" font-family="'Liberation Sans', Arial, sans-serif" text-anchor="middle" font-weight="normal" fill="#333" stroke="#333" stroke-width="0.22">OR</text>
<path d="M20.5 205.5 L29.2 218.6 L21.5 231.5" fill="none" stroke="#8888f0" stroke-opacity="0.42" stroke-width="5.5" stroke-linecap="round" stroke-linejoin="round"/>
<path d="M29.2 218.6 L40.4 219.0 L46.5 207.5" fill="none" stroke="#8888f0" stroke-opacity="0.42" stroke-width="5.5" stroke-linecap="round" stroke-linejoin="round"/>
<text x="34.5" y="244.0" font-size="7.2" font-family="'Liberation Sans', Arial, sans-serif" text-anchor="middle" font-weight="normal" fill="#3a3a3a" stroke="#3a3a3a" stroke-width="0.2">vinoxyl species</text>
<path d="M89.2 207.0 L96.0 218.6 L108.4 218.6 L116.0 207.0" fill="none" stroke="#f07070" stroke-opacity="0.38" stroke-width="5.5" stroke-linecap="round" stroke-linejoin="round"/>
<path d="M108.4 218.6 L116.0 229.5" fill="none" stroke="#f07070" stroke-opacity="0.38" stroke-width="5.5" stroke-linecap="round" stroke-linejoin="round"/>
<text x="76.5" y="209.7" font-size="7.5" font-family="'Liberation Sans', Arial, sans-serif" text-anchor="middle" font-weight="normal" fill="#333" stroke="#333" stroke-width="0.22">R</text>
<path d="M79.5 207.0 L86.0 207.0" fill="none" stroke="#333" stroke-width="0.8" stroke-linejoin="round"/>
<text x="89.2" y="209.7" font-size="7.5" font-family="'Liberation Sans', Arial, sans-serif" text-anchor="middle" font-weight="normal" fill="#333" stroke="#333" stroke-width="0.22">O</text>
<path d="M90.8 209.8 L94.3 215.7" fill="none" stroke="#333" stroke-width="0.8" stroke-linejoin="round"/>
<text x="96" y="221.3" font-size="7.5" font-family="'Liberation Sans', Arial, sans-serif" text-anchor="end" fill="#333" dx="2.3">H<tspan font-size="4.6" dy="1.6">2</tspan><tspan dy="-1.6">C</tspan></text>
<path d="M98.5 218.6 L106.0 218.6" fill="none" stroke="#333" stroke-width="0.8" stroke-linejoin="round"/>
<text x="111.5" y="221.3" font-size="7.5" font-family="'Liberation Sans', Arial, sans-serif" text-anchor="middle" font-weight="normal" fill="#333" stroke="#333" stroke-width="0.22">CH</text>
<path d="M110.3 215.8 L114.2 209.7" fill="none" stroke="#333" stroke-width="0.8" stroke-linejoin="round"/>
<text x="119.0" y="209.7" font-size="7.5" font-family="'Liberation Sans', Arial, sans-serif" text-anchor="middle" font-weight="normal" fill="#333" stroke="#333" stroke-width="0.22">OR</text>
<path d="M110.3 221.4 L114.2 226.9" fill="none" stroke="#333" stroke-width="0.8" stroke-linejoin="round"/>
<text x="119.0" y="232.2" font-size="7.5" font-family="'Liberation Sans', Arial, sans-serif" text-anchor="middle" font-weight="normal" fill="#333" stroke="#333" stroke-width="0.22">OR</text>
<text x="104.0" y="245.0" font-size="7.2" font-family="'Liberation Sans', Arial, sans-serif" text-anchor="middle" font-weight="normal" fill="#3a3a3a" stroke="#3a3a3a" stroke-width="0.2">cross-linkage</text>
<path d="M169.2 205.6 L169.2 211.0" fill="none" stroke="#333" stroke-width="0.85" stroke-linejoin="round"/>
<path d="M170.8 205.6 L170.8 211.0" fill="none" stroke="#333" stroke-width="0.85" stroke-linejoin="round"/>
<path d="M170.0 211.0 L162.3 218.9" fill="none" stroke="#333" stroke-width="0.85" stroke-linejoin="round"/>
<path d="M170.0 211.0 L177.9 219.0" fill="none" stroke="#333" stroke-width="0.85" stroke-linejoin="round"/>
<path d="M161.1 224.0 L163.6 232.0" fill="none" stroke="#333" stroke-width="0.85" stroke-linejoin="round"/>
<path d="M179.0 223.9 L176.2 232.0" fill="none" stroke="#333" stroke-width="0.85" stroke-linejoin="round"/>
<path d="M163.6 232.0 L176.2 232.0" fill="none" stroke="#333" stroke-width="0.85" stroke-linejoin="round"/>
<path d="M165.5 230.4 L174.3 230.4" fill="none" stroke="#333" stroke-width="0.85" stroke-linejoin="round"/>
<text x="170.0" y="205.3" font-size="7.5" font-family="'Liberation Sans', Arial, sans-serif" text-anchor="middle" font-weight="normal" fill="#333" stroke="#333" stroke-width="0.22">O</text>
<text x="160.2" y="223.8" font-size="7.5" font-family="'Liberation Sans', Arial, sans-serif" text-anchor="middle" font-weight="normal" fill="#333" stroke="#333" stroke-width="0.22">O</text>
<text x="180.0" y="223.8" font-size="7.5" font-family="'Liberation Sans', Arial, sans-serif" text-anchor="middle" font-weight="normal" fill="#333" stroke="#333" stroke-width="0.22">O</text>
<text x="169.5" y="246.8" font-size="7.2" font-family="'Liberation Sans', Arial, sans-serif" text-anchor="middle" font-weight="normal" fill="#3a3a3a" stroke="#3a3a3a" stroke-width="0.2">VC</text>
<path d="M287.0 203.8 L298.5 203.8" fill="none" stroke="#f07070" stroke-opacity="0.38" stroke-width="5.5" stroke-linecap="round" stroke-linejoin="round"/>
<path d="M305.5 196.5 L298.5 203.8 L305.5 215.5" fill="none" stroke="#f07070" stroke-opacity="0.38" stroke-width="5.5" stroke-linecap="round" stroke-linejoin="round"/>
<text x="287.0" y="206.5" font-size="7.5" font-family="'Liberation Sans', Arial, sans-serif" text-anchor="middle" font-weight="normal" fill="#333" stroke="#333" stroke-width="0.22">R</text>
<path d="M290.0 203.8 L295.5 203.8" fill="none" stroke="#333" stroke-width="0.8" stroke-linejoin="round"/>
<text x="301.5" y="206.5" font-size="7.5" font-family="'Liberation Sans', Arial, sans-serif" text-anchor="middle" font-weight="normal" fill="#333" stroke="#333" stroke-width="0.22">CH</text>
<path d="M300.3 201.9 L303.7 198.4" fill="none" stroke="#333" stroke-width="0.8" stroke-linejoin="round"/>
<text x="308.8" y="199.2" font-size="7.5" font-family="'Liberation Sans', Arial, sans-serif" text-anchor="middle" font-weight="normal" fill="#333" stroke="#333" stroke-width="0.22">OR</text>
<path d="M300.0 206.4 L304.0 212.9" fill="none" stroke="#333" stroke-width="0.8" stroke-linejoin="round"/>
<text x="308.8" y="218.2" font-size="7.5" font-family="'Liberation Sans', Arial, sans-serif" text-anchor="middle" font-weight="normal" fill="#333" stroke="#333" stroke-width="0.22">OR</text>
<text x="304.0" y="228.3" font-size="7.2" font-family="'Liberation Sans', Arial, sans-serif" text-anchor="middle" font-weight="normal" fill="#3a3a3a" stroke="#3a3a3a" stroke-width="0.2">103 ppm</text>
<path d="M343.0 194.0 L348.5 204.2 L376.0 204.2" fill="none" stroke="#e6e670" stroke-opacity="0.5" stroke-width="5.5" stroke-linecap="round" stroke-linejoin="round"/>
<text x="331.5" y="196.7" font-size="7.5" font-family="'Liberation Sans', Arial, sans-serif" text-anchor="middle" font-weight="normal" fill="#333" stroke="#333" stroke-width="0.22">R</text>
<path d="M334.5 194.0 L340.0 194.0" fill="none" stroke="#333" stroke-width="0.8" stroke-linejoin="round"/>
<text x="343.0" y="196.7" font-size="7.5" font-family="'Liberation Sans', Arial, sans-serif" text-anchor="middle" font-weight="normal" fill="#333" stroke="#333" stroke-width="0.22">O</text>
<path d="M344.4 196.6 L347.1 201.6" fill="none" stroke="#333" stroke-width="0.8" stroke-linejoin="round"/>
<text x="350.5" y="206.9" font-size="7.5" font-family="'Liberation Sans', Arial, sans-serif" text-anchor="end" fill="#333">H<tspan font-size="4.6" dy="1.6">2</tspan><tspan dy="-1.6">C</tspan></text>
<path d="M351.5 204.2 L357.5 204.2" fill="none" stroke="#333" stroke-width="0.8" stroke-linejoin="round"/>
<text x="358.3" y="206.9" font-size="7.5" font-family="'Liberation Sans', Arial, sans-serif" text-anchor="start" font-weight="normal" fill="#333" stroke="#333" stroke-width="0.2">CHOR</text>
<path d="M361.7 206.4 L364.7 211.7" fill="none" stroke="#333" stroke-width="0.8" stroke-linejoin="round"/>
<text x="366.2" y="217.0" font-size="7.5" font-family="'Liberation Sans', Arial, sans-serif" text-anchor="middle" font-weight="normal" fill="#333" stroke="#333" stroke-width="0.22">R</text>
<text x="362.6" y="228.3" font-size="7.2" font-family="'Liberation Sans', Arial, sans-serif" text-anchor="middle" font-weight="normal" fill="#3a3a3a" stroke="#3a3a3a" stroke-width="0.2">75-85 ppm</text>
<circle cx="400.1" cy="201.9" r="3.6" fill="#40d070" fill-opacity="0.5"/>
<text x="392.2" y="204.5" font-size="7.5" font-family="'Liberation Sans', Arial, sans-serif" fill="#333">RCH<tspan font-size="4.6" dy="1.6">2</tspan><tspan dy="-1.6">R'</tspan></text>
<text x="407.3" y="228.3" font-size="7.2" font-family="'Liberation Sans', Arial, sans-serif" text-anchor="middle" font-weight="normal" fill="#3a3a3a" stroke="#3a3a3a" stroke-width="0.2">34 ppm</text>
<text x="2.0" y="262.2" font-size="7.3" font-family="'Liberation Sans', Arial, sans-serif" text-anchor="start" font-weight="normal" fill="#3a3a3a" stroke="#3a3a3a" stroke-width="0.2">(3.1) FEC defluorination</text>
<path d="M29.5 274.8 L29.5 283.5" fill="none" stroke="#333" stroke-width="0.85" stroke-linejoin="round"/>
<path d="M31.2 274.8 L31.2 283.5" fill="none" stroke="#333" stroke-width="0.85" stroke-linejoin="round"/>
<path d="M30.4 283.5 L23.4 289.7" fill="none" stroke="#333" stroke-width="0.85" stroke-linejoin="round"/>
<path d="M30.4 283.5 L36.8 289.6" fill="none" stroke="#333" stroke-width="0.85" stroke-linejoin="round"/>
<path d="M22.2 294.5 L24.5 301.0" fill="none" stroke="#333" stroke-width="0.85" stroke-linejoin="round"/>
<path d="M38.2 294.6 L36.4 301.0" fill="none" stroke="#333" stroke-width="0.85" stroke-linejoin="round"/>
<path d="M24.5 301.0 L36.4 301.0" fill="none" stroke="#333" stroke-width="0.85" stroke-linejoin="round"/>
<text x="30.4" y="274.5" font-size="7.5" font-family="'Liberation Sans', Arial, sans-serif" text-anchor="middle" font-weight="normal" fill="#333" stroke="#333" stroke-width="0.22">O</text>
<text x="21.2" y="294.4" font-size="7.5" font-family="'Liberation Sans', Arial, sans-serif" text-anchor="middle" font-weight="normal" fill="#333" stroke="#333" stroke-width="0.22">O</text>
<text x="39.0" y="294.4" font-size="7.5" font-family="'Liberation Sans', Arial, sans-serif" text-anchor="middle" font-weight="normal" fill="#333" stroke="#333" stroke-width="0.22">O</text>
<path d="M24.5 301.0 L20.2 308.2" fill="none" stroke="#333" stroke-width="0.8" stroke-linejoin="round"/>
<text x="18.5" y="313.6" font-size="7.5" font-family="'Liberation Sans', Arial, sans-serif" text-anchor="middle" font-weight="normal" fill="#333" stroke="#333" stroke-width="0.22">F</text>
<path d="M47.0 292.1 L61.4 292.1" fill="none" stroke="#333" stroke-width="0.9" stroke-linejoin="round"/>
<path d="M64.9 292.1L60.9 293.7L61.9 292.1L60.9 290.5Z" fill="#333"/>
<text x="54.6" y="287.3" font-size="7" font-family="'Liberation Sans', Arial, sans-serif" text-anchor="middle" fill="#333">e<tspan font-size="5" dy="-2.8">−•</tspan></text>
<text x="52.6" y="301.8" font-size="7.2" font-family="'Liberation Sans', Arial, sans-serif" text-anchor="middle" fill="#333">Li<tspan font-size="5" dy="-2.8">+</tspan></text>
<text x="53.6" y="313.8" font-size="6.8" font-family="'Liberation Sans', Arial, sans-serif" text-anchor="middle" font-weight="normal" fill="#333" stroke="#333" stroke-width="0.2">- LiF</text>
<path d="M79.9 274.8 L79.9 283.5" fill="none" stroke="#333" stroke-width="0.85" stroke-linejoin="round"/>
<path d="M81.5 274.8 L81.5 283.5" fill="none" stroke="#333" stroke-width="0.85" stroke-linejoin="round"/>
<path d="M80.7 283.5 L74.3 289.6" fill="none" stroke="#333" stroke-width="0.85" stroke-linejoin="round"/>
<path d="M80.7 283.5 L87.7 289.7" fill="none" stroke="#333" stroke-width="0.85" stroke-linejoin="round"/>
<path d="M72.9 294.6 L74.8 301.0" fill="none" stroke="#333" stroke-width="0.85" stroke-linejoin="round"/>
<path d="M89.2 294.6 L87.4 301.0" fill="none" stroke="#333" stroke-width="0.85" stroke-linejoin="round"/>
<path d="M74.8 301.0 L87.4 301.0" fill="none" stroke="#333" stroke-width="0.85" stroke-linejoin="round"/>
<text x="80.7" y="274.5" font-size="7.5" font-family="'Liberation Sans', Arial, sans-serif" text-anchor="middle" font-weight="normal" fill="#333" stroke="#333" stroke-width="0.22">O</text>
<text x="72.1" y="294.4" font-size="7.5" font-family="'Liberation Sans', Arial, sans-serif" text-anchor="middle" font-weight="normal" fill="#333" stroke="#333" stroke-width="0.22">O</text>
<text x="90.0" y="294.4" font-size="7.5" font-family="'Liberation Sans', Arial, sans-serif" text-anchor="middle" font-weight="normal" fill="#333" stroke="#333" stroke-width="0.22">O</text>
<circle cx="72.1" cy="304.8" r="1.6" fill="#111"/>
<text x="81.4" y="311.0" font-size="6.8" font-family="'Liberation Sans', Arial, sans-serif" text-anchor="middle" font-weight="normal" fill="#333" stroke="#333" stroke-width="0.2">(A)</text>
<path d="M98.0 291.0 L111.8 291.0" fill="none" stroke="#333" stroke-width="0.9" stroke-linejoin="round"/>
<path d="M115.3 291.0L111.3 292.6L112.3 291.0L111.3 289.4Z" fill="#333"/>
<text x="98.7" y="287" font-size="6.8" font-family="'Liberation Sans', Arial, sans-serif" fill="#333">- CO<tspan font-size="4.8" dy="1.6">2</tspan></text>
<path d="M128.5 283.1 L132.7 289.9" fill="none" stroke="#333" stroke-width="0.8" stroke-linejoin="round"/>
<path d="M129.6 282.4 L133.9 289.3" fill="none" stroke="#333" stroke-width="0.8" stroke-linejoin="round"/>
<path d="M133.3 289.6 L128.8 298.5" fill="none" stroke="#333" stroke-width="0.8" stroke-linejoin="round"/>
<path d="M133.3 289.6 L144.9 290.3" fill="none" stroke="#333" stroke-width="0.8" stroke-linejoin="round"/>
<text x="127.5" y="282.9" font-size="7.5" font-family="'Liberation Sans', Arial, sans-serif" text-anchor="middle" font-weight="normal" fill="#333" stroke="#333" stroke-width="0.22">O</text>
<text x="127.5" y="303.9" font-size="7.5" font-family="'Liberation Sans', Arial, sans-serif" text-anchor="middle" font-weight="normal" fill="#333" stroke="#333" stroke-width="0.22">H</text>
<circle cx="149.2" cy="290.6" r="1.6" fill="#111"/>
<text x="141.6" y="311.0" font-size="6.8" font-family="'Liberation Sans', Arial, sans-serif" text-anchor="middle" font-weight="normal" fill="#333" stroke="#333" stroke-width="0.2">(B)</text>
<text x="135.5" y="279.5" font-size="6.8" font-family="'Liberation Sans', Arial, sans-serif" text-anchor="start" font-weight="normal" fill="#333" stroke="#333" stroke-width="0.2">vinoxyl radicals</text>
<path d="M159.5 289.3H176.5M173.5 287.2L176.5 289.3M159.5 291.4H176.5M162.5 293.5L159.5 291.4" fill="none" stroke="#333" stroke-width="0.9"/>
<path d="M192.7 282.8 L196.9 289.6" fill="none" stroke="#333" stroke-width="0.8" stroke-linejoin="round"/>
<path d="M196.9 289.6 L191.9 298.6" fill="none" stroke="#333" stroke-width="0.8" stroke-linejoin="round"/>
<path d="M196.9 290.4 L208.4 290.4" fill="none" stroke="#333" stroke-width="0.8" stroke-linejoin="round"/>
<path d="M196.9 288.9 L208.4 288.9" fill="none" stroke="#333" stroke-width="0.8" stroke-linejoin="round"/>
<text x="191.1" y="282.9" font-size="7.5" font-family="'Liberation Sans', Arial, sans-serif" text-anchor="middle" font-weight="normal" fill="#333" stroke="#333" stroke-width="0.22">O</text>
<text x="190.4" y="303.9" font-size="7.5" font-family="'Liberation Sans', Arial, sans-serif" text-anchor="middle" font-weight="normal" fill="#333" stroke="#333" stroke-width="0.22">H</text>
<circle cx="196.3" cy="274.6" r="1.6" fill="#111"/>
<text x="196.2" y="311.0" font-size="6.8" font-family="'Liberation Sans', Arial, sans-serif" text-anchor="middle" font-weight="normal" fill="#333" stroke="#333" stroke-width="0.2">(C)</text>
<path d="M91.8 307.9 L120.2 331.6" fill="none" stroke="#333" stroke-width="0.9" stroke-linejoin="round"/>
<path d="M122.9 333.8L118.8 332.5L120.6 331.9L120.9 330.0Z" fill="#333"/>
<text font-size="7.3" font-family="'Liberation Sans', Arial, sans-serif" fill="#333" transform="translate(89.4 315.3) rotate(40)">H<tspan dx="8.6">loss</tspan></text>
<circle cx="97.9" cy="318.8" r="1.6" fill="#111"/>
<path d="M140.6 326.8 L140.6 335.1" fill="none" stroke="#333" stroke-width="0.85" stroke-linejoin="round"/>
<path d="M142.2 326.8 L142.2 335.1" fill="none" stroke="#333" stroke-width="0.85" stroke-linejoin="round"/>
<path d="M141.4 335.1 L133.9 340.4" fill="none" stroke="#333" stroke-width="0.85" stroke-linejoin="round"/>
<path d="M141.4 335.1 L148.7 340.3" fill="none" stroke="#333" stroke-width="0.85" stroke-linejoin="round"/>
<path d="M132.6 344.9 L135.4 351.6" fill="none" stroke="#333" stroke-width="0.85" stroke-linejoin="round"/>
<path d="M150.0 344.9 L147.4 351.6" fill="none" stroke="#333" stroke-width="0.85" stroke-linejoin="round"/>
<path d="M135.4 351.6 L147.4 351.6" fill="none" stroke="#333" stroke-width="0.85" stroke-linejoin="round"/>
<path d="M137.2 350.0 L145.6 350.0" fill="none" stroke="#333" stroke-width="0.85" stroke-linejoin="round"/>
<text x="141.4" y="326.5" font-size="7.5" font-family="'Liberation Sans', Arial, sans-serif" text-anchor="middle" font-weight="normal" fill="#333" stroke="#333" stroke-width="0.22">O</text>
<text x="131.5" y="344.8" font-size="7.5" font-family="'Liberation Sans', Arial, sans-serif" text-anchor="middle" font-weight="normal" fill="#333" stroke="#333" stroke-width="0.22">O</text>
<text x="151.1" y="344.8" font-size="7.5" font-family="'Liberation Sans', Arial, sans-serif" text-anchor="middle" font-weight="normal" fill="#333" stroke="#333" stroke-width="0.22">O</text>
<text x="240.6" y="276.2" font-size="6.8" font-family="'Liberation Sans', Arial, sans-serif" text-anchor="start" font-weight="normal" fill="#333" stroke="#333" stroke-width="0.2">(3.2)</text>
<text x="241.9" y="288.8" font-size="6.8" font-family="'Liberation Sans', Arial, sans-serif" text-anchor="start" font-weight="normal" fill="#333" stroke="#333" stroke-width="0.2">VC + B</text>
<path d="M271.0 285.7 L285.4 285.7" fill="none" stroke="#333" stroke-width="0.9" stroke-linejoin="round"/>
<path d="M288.9 285.7L284.9 287.3L285.9 285.7L284.9 284.1Z" fill="#333"/>
<path d="M313.4 282.1 L310.1 293.4" fill="none" stroke="#e6e670" stroke-opacity="0.5" stroke-width="5.5" stroke-linecap="round" stroke-linejoin="round"/>
<circle cx="316.0" cy="303.3" r="3.2" fill="#40d070" fill-opacity="0.45"/>
<path d="M329.0 299.0 L332.6 292.1" fill="none" stroke="#8888f0" stroke-opacity="0.42" stroke-width="5.5" stroke-linecap="round" stroke-linejoin="round"/>
<path d="M303.2 266.6 L303.2 275.2" fill="none" stroke="#333" stroke-width="0.85" stroke-linejoin="round"/>
<path d="M305.0 266.6 L305.0 275.2" fill="none" stroke="#333" stroke-width="0.85" stroke-linejoin="round"/>
<path d="M304.1 275.2 L297.3 280.3" fill="none" stroke="#333" stroke-width="0.85" stroke-linejoin="round"/>
<path d="M304.1 275.2 L311.0 280.3" fill="none" stroke="#333" stroke-width="0.85" stroke-linejoin="round"/>
<path d="M295.6 285.0 L297.5 292.3" fill="none" stroke="#333" stroke-width="0.85" stroke-linejoin="round"/>
<path d="M312.6 285.0 L310.1 293.4" fill="none" stroke="#333" stroke-width="0.85" stroke-linejoin="round"/>
<path d="M297.5 292.3 L310.1 293.4" fill="none" stroke="#333" stroke-width="0.85" stroke-linejoin="round"/>
<text x="304.1" y="266.3" font-size="7.5" font-family="'Liberation Sans', Arial, sans-serif" text-anchor="middle" font-weight="normal" fill="#333" stroke="#333" stroke-width="0.22">O</text>
<text x="294.9" y="284.8" font-size="7.5" font-family="'Liberation Sans', Arial, sans-serif" text-anchor="middle" font-weight="normal" fill="#333" stroke="#333" stroke-width="0.22">O</text>
<text x="313.4" y="284.8" font-size="7.5" font-family="'Liberation Sans', Arial, sans-serif" text-anchor="middle" font-weight="normal" fill="#333" stroke="#333" stroke-width="0.22">O</text>
<circle cx="294.2" cy="294.9" r="1.6" fill="#111"/>
<path d="M310.1 293.4 L316.0 303.3" fill="none" stroke="#333" stroke-width="0.8" stroke-linejoin="round"/>
<path d="M316.0 303.3 L326.6 303.3" fill="none" stroke="#333" stroke-width="0.8" stroke-linejoin="round"/>
<path d="M327.2 303.6 L331.8 295.1" fill="none" stroke="#333" stroke-width="0.8" stroke-linejoin="round"/>
<path d="M326.0 303.0 L330.6 294.4" fill="none" stroke="#333" stroke-width="0.8" stroke-linejoin="round"/>
<text x="332.8" y="294.5" font-size="7.5" font-family="'Liberation Sans', Arial, sans-serif" text-anchor="middle" font-weight="normal" fill="#333" stroke="#333" stroke-width="0.22">O</text>
<text x="240.6" y="318.2" font-size="6.8" font-family="'Liberation Sans', Arial, sans-serif" text-anchor="start" font-weight="normal" fill="#333" stroke="#333" stroke-width="0.2">(3.3)</text>
<text x="241.9" y="328.8" font-size="6.8" font-family="'Liberation Sans', Arial, sans-serif" text-anchor="start" font-weight="normal" fill="#333" stroke="#333" stroke-width="0.2">VC + C</text>
<path d="M272.4 324.9 L286.7 324.9" fill="none" stroke="#333" stroke-width="0.9" stroke-linejoin="round"/>
<path d="M290.2 324.9L286.2 326.5L287.2 324.9L286.2 323.3Z" fill="#333"/>
<path d="M314.7 332.8 L311.4 344.7 L316.7 354.6" fill="none" stroke="#f07070" stroke-opacity="0.38" stroke-width="5.5" stroke-linecap="round" stroke-linejoin="round"/>
<path d="M303.9 317.5 L303.9 326.0" fill="none" stroke="#333" stroke-width="0.85" stroke-linejoin="round"/>
<path d="M305.7 317.5 L305.7 326.0" fill="none" stroke="#333" stroke-width="0.85" stroke-linejoin="round"/>
<path d="M304.8 326.0 L297.9 331.0" fill="none" stroke="#333" stroke-width="0.85" stroke-linejoin="round"/>
<path d="M304.8 326.0 L312.2 331.1" fill="none" stroke="#333" stroke-width="0.85" stroke-linejoin="round"/>
<path d="M296.2 335.7 L298.2 344.0" fill="none" stroke="#333" stroke-width="0.85" stroke-linejoin="round"/>
<path d="M313.9 335.7 L311.4 344.7" fill="none" stroke="#333" stroke-width="0.85" stroke-linejoin="round"/>
<path d="M298.2 344.0 L311.4 344.7" fill="none" stroke="#333" stroke-width="0.85" stroke-linejoin="round"/>
<text x="304.8" y="317.2" font-size="7.5" font-family="'Liberation Sans', Arial, sans-serif" text-anchor="middle" font-weight="normal" fill="#333" stroke="#333" stroke-width="0.22">O</text>
<text x="295.5" y="335.5" font-size="7.5" font-family="'Liberation Sans', Arial, sans-serif" text-anchor="middle" font-weight="normal" fill="#333" stroke="#333" stroke-width="0.22">O</text>
<text x="314.7" y="335.5" font-size="7.5" font-family="'Liberation Sans', Arial, sans-serif" text-anchor="middle" font-weight="normal" fill="#333" stroke="#333" stroke-width="0.22">O</text>
<circle cx="295.5" cy="346.9" r="1.6" fill="#111"/>
<path d="M311.4 344.7 L315.3 352.0" fill="none" stroke="#333" stroke-width="0.8" stroke-linejoin="round"/>
<text x="316.7" y="357.3" font-size="7.5" font-family="'Liberation Sans', Arial, sans-serif" text-anchor="middle" font-weight="normal" fill="#333" stroke="#333" stroke-width="0.22">O</text>
<path d="M319.7 354.4 L328.0 354.0" fill="none" stroke="#333" stroke-width="0.8" stroke-linejoin="round"/>
<path d="M328.0 354.0 L334.6 344.0" fill="none" stroke="#333" stroke-width="0.8" stroke-linejoin="round"/>
<path d="M330.2 353.3 L334.9 346.3" fill="none" stroke="#333" stroke-width="0.8" stroke-linejoin="round"/>
<path d="M342.3 280.6Q347.3 281 347.3 286V309Q347.3 314.5 351 315Q347.3 315.5 347.3 321V344Q347.3 349 342.3 349.2" fill="none" stroke="#333" stroke-width="0.9"/>
<path d="M355.5 314.9 L369.6 314.9" fill="none" stroke="#333" stroke-width="0.9" stroke-linejoin="round"/>
<path d="M373.1 314.9L369.1 316.5L370.1 314.9L369.1 313.3Z" fill="#333"/>
<text x="380.7" y="317.8" font-size="7.0" font-family="'Liberation Sans', Arial, sans-serif" text-anchor="start" font-weight="normal" fill="#3a3a3a" stroke="#3a3a3a" stroke-width="0.2">poly(VC)</text>
<text x="1.8" y="370.2" font-size="6.8" font-family="'Liberation Sans', Arial, sans-serif" text-anchor="start" font-weight="normal" fill="#333" stroke="#333" stroke-width="0.2">(3.4)</text>
<path d="M17.7 382.2 L21.7 389.2" fill="none" stroke="#333" stroke-width="0.8" stroke-linejoin="round"/>
<path d="M18.9 381.6 L22.9 388.6" fill="none" stroke="#333" stroke-width="0.8" stroke-linejoin="round"/>
<path d="M22.3 388.9 L18.2 396.5" fill="none" stroke="#333" stroke-width="0.8" stroke-linejoin="round"/>
<path d="M22.3 388.9 L33.1 388.9" fill="none" stroke="#333" stroke-width="0.8" stroke-linejoin="round"/>
<text x="16.8" y="382.0" font-size="7.5" font-family="'Liberation Sans', Arial, sans-serif" text-anchor="middle" font-weight="normal" fill="#333" stroke="#333" stroke-width="0.22">O</text>
<text x="16.8" y="401.8" font-size="7.5" font-family="'Liberation Sans', Arial, sans-serif" text-anchor="middle" font-weight="normal" fill="#333" stroke="#333" stroke-width="0.22">H</text>
<circle cx="37.3" cy="389.5" r="1.6" fill="#111"/>
<text x="46.9" y="391.3" font-size="5.5" font-family="'Liberation Sans', Arial, sans-serif" text-anchor="middle" font-weight="normal" fill="#333" stroke="#333" stroke-width="0.2">+</text>
<text x="56.0" y="382.0" font-size="7.5" font-family="'Liberation Sans', Arial, sans-serif" text-anchor="middle" font-weight="normal" fill="#333" stroke="#333" stroke-width="0.22">R</text>
<path d="M57.3 381.8 L60.0 386.8" fill="none" stroke="#333" stroke-width="0.8" stroke-linejoin="round"/>
<text x="61.4" y="392.2" font-size="7.5" font-family="'Liberation Sans', Arial, sans-serif" text-anchor="middle" font-weight="normal" fill="#333" stroke="#333" stroke-width="0.22">O</text>
<path d="M64.6 389.5 L69.4 389.5" fill="none" stroke="#333" stroke-width="0.8" stroke-linejoin="round"/>
<text x="72.2" y="392.2" font-size="7.5" font-family="'Liberation Sans', Arial, sans-serif" text-anchor="middle" font-weight="normal" fill="#333" stroke="#333" stroke-width="0.22">C</text>
<path d="M75.2 388.5h4.2M75.2 390.5h4.2" stroke="#333" stroke-width="0.8"/>
<text x="79.8" y="392.2" font-size="7.5" font-family="'Liberation Sans', Arial, sans-serif" text-anchor="start" fill="#333">CH<tspan font-size="4.6" dy="1.6">2</tspan></text>
<text x="72.2" y="398.8" font-size="7.5" font-family="'Liberation Sans', Arial, sans-serif" text-anchor="middle" font-weight="normal" fill="#333" stroke="#333" stroke-width="0.22">H</text>
<path d="M69.8 385.0Q72.7 381.6 75.5 385.0M80.5 385.0Q84.5 381.6 88.5 385.0" fill="none" stroke="#333" stroke-width="0.8"/>
<path d="M38.5 393.8Q46 404 56 402.5Q65 401 69.2 394.3" fill="none" stroke="#333" stroke-width="0.8"/>
<path d="M69.2 394.3L66.2 395.6L68.4 397.3Z" fill="#333"/>
<path d="M101.0 389.7 L113.2 389.7" fill="none" stroke="#333" stroke-width="0.9" stroke-linejoin="round"/>
<path d="M116.7 389.7L112.7 391.3L113.7 389.7L112.7 388.1Z" fill="#333"/>
<path d="M118.3 401.3 L129.7 394.8" fill="none" stroke="#8888f0" stroke-opacity="0.42" stroke-width="5.5" stroke-linecap="round" stroke-linejoin="round"/>
<circle cx="138.3" cy="399.7" r="3.2" fill="#40d070" fill-opacity="0.45"/>
<path d="M148.1 382.3 L148.1 394.2" fill="none" stroke="#e6e670" stroke-opacity="0.5" stroke-width="5.5" stroke-linecap="round" stroke-linejoin="round"/>
<text x="118.3" y="404.0" font-size="7.5" font-family="'Liberation Sans', Arial, sans-serif" text-anchor="middle" font-weight="normal" fill="#333" stroke="#333" stroke-width="0.22">O</text>
<path d="M121.3 400.4 L130.0 395.4" fill="none" stroke="#333" stroke-width="0.8" stroke-linejoin="round"/>
<path d="M120.6 399.2 L129.4 394.2" fill="none" stroke="#333" stroke-width="0.8" stroke-linejoin="round"/>
<path d="M129.7 394.8 L138.3 399.7" fill="none" stroke="#333" stroke-width="0.8" stroke-linejoin="round"/>
<path d="M138.3 399.7 L144.7 395.2" fill="none" stroke="#333" stroke-width="0.8" stroke-linejoin="round"/>
<text x="150.5" y="396.9" font-size="7.5" font-family="'Liberation Sans', Arial, sans-serif" text-anchor="middle" font-weight="normal" fill="#333" stroke="#333" stroke-width="0.22">CH</text>
<path d="M148.1 391.0 L148.1 385.3" fill="none" stroke="#333" stroke-width="0.8" stroke-linejoin="round"/>
<text x="148.1" y="385.0" font-size="7.5" font-family="'Liberation Sans', Arial, sans-serif" text-anchor="middle" font-weight="normal" fill="#333" stroke="#333" stroke-width="0.22">O</text>
<path d="M145.5 380.9 L140.8 378.3" fill="none" stroke="#333" stroke-width="0.8" stroke-linejoin="round"/>
<text x="138.3" y="379.6" font-size="7.5" font-family="'Liberation Sans', Arial, sans-serif" text-anchor="middle" font-weight="normal" fill="#333" stroke="#333" stroke-width="0.22">R</text>
<path d="M154.5 396.5 L159.5 401.0" fill="none" stroke="#333" stroke-width="0.8" stroke-linejoin="round"/>
<text x="159.5" y="405.6" font-size="7.5" font-family="'Liberation Sans', Arial, sans-serif" text-anchor="start" fill="#333">CH<tspan font-size="4.6" dy="1.6">2</tspan></text>
<circle cx="161.6" cy="396.6" r="1.6" fill="#111"/>
<text x="1.8" y="422.0" font-size="6.8" font-family="'Liberation Sans', Arial, sans-serif" text-anchor="start" font-weight="normal" fill="#333" stroke="#333" stroke-width="0.2">(3.6)</text>
<path d="M17.7 431.6 L21.7 439.2" fill="none" stroke="#333" stroke-width="0.8" stroke-linejoin="round"/>
<path d="M18.8 431.0 L22.9 438.6" fill="none" stroke="#333" stroke-width="0.8" stroke-linejoin="round"/>
<path d="M22.3 438.9 L18.3 445.9" fill="none" stroke="#333" stroke-width="0.8" stroke-linejoin="round"/>
<path d="M22.3 438.9 L33.1 438.9" fill="none" stroke="#333" stroke-width="0.8" stroke-linejoin="round"/>
<text x="16.8" y="431.4" font-size="7.5" font-family="'Liberation Sans', Arial, sans-serif" text-anchor="middle" font-weight="normal" fill="#333" stroke="#333" stroke-width="0.22">O</text>
<text x="16.8" y="451.2" font-size="7.5" font-family="'Liberation Sans', Arial, sans-serif" text-anchor="middle" font-weight="normal" fill="#333" stroke="#333" stroke-width="0.22">H</text>
<circle cx="37.9" cy="439.5" r="1.6" fill="#111"/>
<text x="48.1" y="441.3" font-size="5.5" font-family="'Liberation Sans', Arial, sans-serif" text-anchor="middle" font-weight="normal" fill="#333" stroke="#333" stroke-width="0.2">+</text>
<text x="63.2" y="442.2" font-size="7.5" font-family="'Liberation Sans', Arial, sans-serif" text-anchor="middle" font-weight="normal" fill="#333" stroke="#333" stroke-width="0.22">O</text>
<path d="M66.5 438.5h4.4M66.5 440.5h4.4" stroke="#333" stroke-width="0.8"/>
<text x="71.2" y="442.2" font-size="7.5" font-family="'Liberation Sans', Arial, sans-serif" text-anchor="start" font-weight="normal" fill="#333" stroke="#333" stroke-width="0.2">CHR</text>
<path d="M60.8 434.4Q63.6 431.0 66.5 434.4M71.5 434.4Q74.8 431.0 78.0 434.4" fill="none" stroke="#333" stroke-width="0.8"/>
<path d="M39.1 444Q46 453.5 53 452Q61 450.5 63.2 444.3" fill="none" stroke="#333" stroke-width="0.8"/>
<path d="M63.2 444.3L60.6 446L62.9 447.2Z" fill="#333"/>
<path d="M91.0 439.4 L103.8 439.4" fill="none" stroke="#333" stroke-width="0.9" stroke-linejoin="round"/>
<path d="M107.3 439.4L103.3 441.0L104.3 439.4L103.3 437.8Z" fill="#333"/>
<path d="M118.1 444.5 L128.9 437.9 L139.8 443.3 L148.8 437.6" fill="none" stroke="#8888f0" stroke-opacity="0.42" stroke-width="5.5" stroke-linecap="round" stroke-linejoin="round"/>
<text x="118.1" y="447.2" font-size="7.5" font-family="'Liberation Sans', Arial, sans-serif" text-anchor="middle" font-weight="normal" fill="#333" stroke="#333" stroke-width="0.22">O</text>
<path d="M121.0 443.5 L129.3 438.5" fill="none" stroke="#333" stroke-width="0.8" stroke-linejoin="round"/>
<path d="M120.3 442.3 L128.5 437.3" fill="none" stroke="#333" stroke-width="0.8" stroke-linejoin="round"/>
<path d="M128.9 437.9 L139.8 443.3" fill="none" stroke="#333" stroke-width="0.8" stroke-linejoin="round"/>
<path d="M139.8 443.3 L146.3 439.2" fill="none" stroke="#333" stroke-width="0.8" stroke-linejoin="round"/>
<text x="148.8" y="440.3" font-size="7.5" font-family="'Liberation Sans', Arial, sans-serif" text-anchor="middle" font-weight="normal" fill="#333" stroke="#333" stroke-width="0.22">O</text>
<path d="M151.4 439.2 L158.5 443.5" fill="none" stroke="#333" stroke-width="0.8" stroke-linejoin="round"/>
<text x="159.5" y="446.4" font-size="7.5" font-family="'Liberation Sans', Arial, sans-serif" text-anchor="start" font-weight="normal" fill="#333" stroke="#333" stroke-width="0.2">CHR</text>
<circle cx="161.4" cy="439.9" r="1.6" fill="#111"/>
<text x="203.8" y="370.1" font-size="6.8" font-family="'Liberation Sans', Arial, sans-serif" text-anchor="start" font-weight="normal" fill="#333" stroke="#333" stroke-width="0.2">(3.5)</text>
<circle cx="210.8" cy="374.5" r="1.6" fill="#111"/>
<text x="215.2" y="382.3" font-size="7.5" font-family="'Liberation Sans', Arial, sans-serif" text-anchor="middle" font-weight="normal" fill="#333" stroke="#333" stroke-width="0.22">O</text>
<path d="M216.7 382.2 L220.9 389.7" fill="none" stroke="#333" stroke-width="0.8" stroke-linejoin="round"/>
<path d="M220.9 389.7 L216.7 397.2" fill="none" stroke="#333" stroke-width="0.8" stroke-linejoin="round"/>
<text x="215.2" y="402.5" font-size="7.5" font-family="'Liberation Sans', Arial, sans-serif" text-anchor="middle" font-weight="normal" fill="#333" stroke="#333" stroke-width="0.22">H</text>
<path d="M220.9 390.5 L232.3 390.5" fill="none" stroke="#333" stroke-width="0.8" stroke-linejoin="round"/>
<path d="M220.9 388.9 L232.3 388.9" fill="none" stroke="#333" stroke-width="0.8" stroke-linejoin="round"/>
<text x="246.2" y="391.6" font-size="5.5" font-family="'Liberation Sans', Arial, sans-serif" text-anchor="middle" font-weight="normal" fill="#333" stroke="#333" stroke-width="0.2">+</text>
<text x="254.4" y="382.9" font-size="7.5" font-family="'Liberation Sans', Arial, sans-serif" text-anchor="middle" font-weight="normal" fill="#333" stroke="#333" stroke-width="0.22">R</text>
<path d="M255.8 382.6 L258.6 387.7" fill="none" stroke="#333" stroke-width="0.8" stroke-linejoin="round"/>
<text x="260.1" y="393.0" font-size="7.5" font-family="'Liberation Sans', Arial, sans-serif" text-anchor="middle" font-weight="normal" fill="#333" stroke="#333" stroke-width="0.22">O</text>
<path d="M263.3 390.3 L268.0 390.3" fill="none" stroke="#333" stroke-width="0.8" stroke-linejoin="round"/>
<text x="270.8" y="393.0" font-size="7.5" font-family="'Liberation Sans', Arial, sans-serif" text-anchor="middle" font-weight="normal" fill="#333" stroke="#333" stroke-width="0.22">C</text>
<path d="M273.8 389.3h4.2M273.8 391.3h4.2" stroke="#333" stroke-width="0.8"/>
<text x="278.4" y="393.0" font-size="7.5" font-family="'Liberation Sans', Arial, sans-serif" text-anchor="start" fill="#333">CH<tspan font-size="4.6" dy="1.6">2</tspan></text>
<text x="270.8" y="399.6" font-size="7.5" font-family="'Liberation Sans', Arial, sans-serif" text-anchor="middle" font-weight="normal" fill="#333" stroke="#333" stroke-width="0.22">H</text>
<path d="M270.0 385.4Q272.8 382.0 275.5 385.4M280.5 385.4Q284.5 382.0 288.5 385.4" fill="none" stroke="#333" stroke-width="0.8"/>
<path d="M218.4 375.8Q226 362 240 362.5Q260 363.5 270.2 384" fill="none" stroke="#333" stroke-width="0.8"/>
<path d="M270.2 384L267.5 381.9L270.8 381Z" fill="#333"/>
<path d="M300.1 390.3 L312.4 390.3" fill="none" stroke="#333" stroke-width="0.9" stroke-linejoin="round"/>
<path d="M315.9 390.3L311.9 391.9L312.9 390.3L311.9 388.7Z" fill="#333"/>
<path d="M337.4 401.1 L347.5 396.0 L347.5 383.4" fill="none" stroke="#f07070" stroke-opacity="0.38" stroke-width="5.5" stroke-linecap="round" stroke-linejoin="round"/>
<path d="M317.8 401.7 L327.9 395.4" fill="none" stroke="#333" stroke-width="0.8" stroke-linejoin="round"/>
<path d="M320.1 402.0 L327.2 397.6" fill="none" stroke="#333" stroke-width="0.8" stroke-linejoin="round"/>
<path d="M327.9 395.4 L334.8 399.6" fill="none" stroke="#333" stroke-width="0.8" stroke-linejoin="round"/>
<text x="337.4" y="403.8" font-size="7.5" font-family="'Liberation Sans', Arial, sans-serif" text-anchor="middle" font-weight="normal" fill="#333" stroke="#333" stroke-width="0.22">O</text>
<path d="M340.0 399.7 L345.0 397.0" fill="none" stroke="#333" stroke-width="0.8" stroke-linejoin="round"/>
<text x="350.5" y="398.7" font-size="7.5" font-family="'Liberation Sans', Arial, sans-serif" text-anchor="middle" font-weight="normal" fill="#333" stroke="#333" stroke-width="0.22">CH</text>
<path d="M347.5 392.8 L347.5 386.4" fill="none" stroke="#333" stroke-width="0.8" stroke-linejoin="round"/>
<text x="347.5" y="386.1" font-size="7.5" font-family="'Liberation Sans', Arial, sans-serif" text-anchor="middle" font-weight="normal" fill="#333" stroke="#333" stroke-width="0.22">O</text>
<path d="M344.9 381.9 L339.8 379.1" fill="none" stroke="#333" stroke-width="0.8" stroke-linejoin="round"/>
<text x="337.4" y="380.4" font-size="7.5" font-family="'Liberation Sans', Arial, sans-serif" text-anchor="middle" font-weight="normal" fill="#333" stroke="#333" stroke-width="0.22">R</text>
<path d="M354.5 398.5 L359.0 402.0" fill="none" stroke="#333" stroke-width="0.8" stroke-linejoin="round"/>
<text x="359.5" y="406.3" font-size="7.5" font-family="'Liberation Sans', Arial, sans-serif" text-anchor="start" fill="#333">CH<tspan font-size="4.6" dy="1.6">2</tspan></text>
<circle cx="360.8" cy="397.5" r="1.6" fill="#111"/>
<text x="203.8" y="422.6" font-size="6.8" font-family="'Liberation Sans', Arial, sans-serif" text-anchor="start" font-weight="normal" fill="#333" stroke="#333" stroke-width="0.2">(3.7)</text>
<path d="M231.6 447.3 L241.8 441.6 L241.8 429.6" fill="none" stroke="#f07070" stroke-opacity="0.38" stroke-width="5.5" stroke-linecap="round" stroke-linejoin="round"/>
<path d="M212.1 447.9 L221.5 441.6" fill="none" stroke="#333" stroke-width="0.8" stroke-linejoin="round"/>
<path d="M214.3 448.2 L220.9 443.8" fill="none" stroke="#333" stroke-width="0.8" stroke-linejoin="round"/>
<path d="M221.5 441.6 L229.0 445.8" fill="none" stroke="#333" stroke-width="0.8" stroke-linejoin="round"/>
<text x="231.6" y="450.0" font-size="7.5" font-family="'Liberation Sans', Arial, sans-serif" text-anchor="middle" font-weight="normal" fill="#333" stroke="#333" stroke-width="0.22">O</text>
<path d="M234.2 445.8 L239.0 443.0" fill="none" stroke="#333" stroke-width="0.8" stroke-linejoin="round"/>
<text x="244.3" y="444.3" font-size="7.5" font-family="'Liberation Sans', Arial, sans-serif" text-anchor="middle" font-weight="normal" fill="#333" stroke="#333" stroke-width="0.22">CH</text>
<path d="M241.8 438.4 L241.8 432.6" fill="none" stroke="#333" stroke-width="0.8" stroke-linejoin="round"/>
<text x="241.8" y="432.3" font-size="7.5" font-family="'Liberation Sans', Arial, sans-serif" text-anchor="middle" font-weight="normal" fill="#333" stroke="#333" stroke-width="0.22">O</text>
<path d="M239.1 428.3 L234.1 425.8" fill="none" stroke="#333" stroke-width="0.8" stroke-linejoin="round"/>
<text x="231.6" y="427.2" font-size="7.5" font-family="'Liberation Sans', Arial, sans-serif" text-anchor="middle" font-weight="normal" fill="#333" stroke="#333" stroke-width="0.22">R</text>
<path d="M249.0 444.0 L253.0 448.0" fill="none" stroke="#333" stroke-width="0.8" stroke-linejoin="round"/>
<text x="253.1" y="453.1" font-size="7.5" font-family="'Liberation Sans', Arial, sans-serif" text-anchor="start" fill="#333">CH<tspan font-size="4.6" dy="1.6">2</tspan></text>
<circle cx="254.4" cy="443.7" r="1.6" fill="#111"/>
<path d="M255.7 439.7Q259 433 265 433Q269 433 270.8 434.6" fill="none" stroke="#333" stroke-width="0.8"/>
<path d="M271.5 435.2L268.3 434.8L270 432.6Z" fill="#333"/>
<text x="264.5" y="439.8" font-size="5.5" font-family="'Liberation Sans', Arial, sans-serif" text-anchor="middle" font-weight="normal" fill="#333" stroke="#333" stroke-width="0.2">+</text>
<text x="274.6" y="439.2" font-size="7.5" font-family="'Liberation Sans', Arial, sans-serif" text-anchor="middle" font-weight="normal" fill="#333" stroke="#333" stroke-width="0.22">O</text>
<path d="M278 435.5h4.4M278 437.5h4.4" stroke="#333" stroke-width="0.8"/>
<text x="283.0" y="439.2" font-size="7.5" font-family="'Liberation Sans', Arial, sans-serif" text-anchor="start" font-weight="normal" fill="#333" stroke="#333" stroke-width="0.2">CHR</text>
<path d="M272.0 431.6Q274.8 428.2 277.5 431.6M283.0 431.6Q286.5 428.2 290.0 431.6" fill="none" stroke="#333" stroke-width="0.8"/>
<path d="M303.3 436.3 L315.4 436.3" fill="none" stroke="#333" stroke-width="0.9" stroke-linejoin="round"/>
<path d="M318.9 436.3L314.9 437.9L315.9 436.3L314.9 434.7Z" fill="#333"/>
<path d="M338.5 450.7 L348.7 446.0 L348.7 433.5" fill="none" stroke="#f07070" stroke-opacity="0.38" stroke-width="5.5" stroke-linecap="round" stroke-linejoin="round"/>
<path d="M348.7 446.0 L362.7 452.2 L372.9 446.8" fill="none" stroke="#f07070" stroke-opacity="0.38" stroke-width="5.5" stroke-linecap="round" stroke-linejoin="round"/>
<path d="M319.7 451.5 L330.7 445.7" fill="none" stroke="#333" stroke-width="0.8" stroke-linejoin="round"/>
<path d="M322.0 452.0 L329.7 447.9" fill="none" stroke="#333" stroke-width="0.8" stroke-linejoin="round"/>
<path d="M330.7 445.7 L336.0 449.1" fill="none" stroke="#333" stroke-width="0.8" stroke-linejoin="round"/>
<text x="338.5" y="453.4" font-size="7.5" font-family="'Liberation Sans', Arial, sans-serif" text-anchor="middle" font-weight="normal" fill="#333" stroke="#333" stroke-width="0.22">O</text>
<path d="M341.2 449.4 L346.0 447.0" fill="none" stroke="#333" stroke-width="0.8" stroke-linejoin="round"/>
<text x="351.3" y="448.7" font-size="7.5" font-family="'Liberation Sans', Arial, sans-serif" text-anchor="middle" font-weight="normal" fill="#333" stroke="#333" stroke-width="0.22">CH</text>
<path d="M348.7 442.8 L348.7 436.5" fill="none" stroke="#333" stroke-width="0.8" stroke-linejoin="round"/>
<text x="348.7" y="436.2" font-size="7.5" font-family="'Liberation Sans', Arial, sans-serif" text-anchor="middle" font-weight="normal" fill="#333" stroke="#333" stroke-width="0.22">O</text>
<path d="M346.1 432.0 L341.7 429.4" fill="none" stroke="#333" stroke-width="0.8" stroke-linejoin="round"/>
<text x="339.3" y="430.7" font-size="7.5" font-family="'Liberation Sans', Arial, sans-serif" text-anchor="middle" font-weight="normal" fill="#333" stroke="#333" stroke-width="0.22">R</text>
<path d="M355.0 448.5 L360.5 451.0" fill="none" stroke="#333" stroke-width="0.8" stroke-linejoin="round"/>
<text x="362.7" y="454.9" font-size="7.5" font-family="'Liberation Sans', Arial, sans-serif" text-anchor="middle" font-weight="normal" fill="#333" stroke="#333" stroke-width="0.22">C</text>
<text x="361.3" y="461.2" font-size="7.5" font-family="'Liberation Sans', Arial, sans-serif" fill="#333" stroke="#333" stroke-width="0.2">H<tspan font-size="4.8" dy="1.6">2</tspan></text>
<path d="M365.4 450.8 L370.2 448.2" fill="none" stroke="#333" stroke-width="0.8" stroke-linejoin="round"/>
<text x="372.9" y="449.5" font-size="7.5" font-family="'Liberation Sans', Arial, sans-serif" text-anchor="middle" font-weight="normal" fill="#333" stroke="#333" stroke-width="0.22">O</text>
<path d="M375.6 448.1 L383.9 452.2" fill="none" stroke="#333" stroke-width="0.8" stroke-linejoin="round"/>
<path d="M383.9 452.2 L388.9 448.9" fill="none" stroke="#333" stroke-width="0.8" stroke-linejoin="round"/>
<text x="393.3" y="450.2" font-size="7.5" font-family="'Liberation Sans', Arial, sans-serif" text-anchor="middle" font-weight="normal" fill="#333" stroke="#333" stroke-width="0.22">R</text>
<circle cx="383.6" cy="456.0" r="1.6" fill="#111"/>
<text x="1.3" y="476.8" font-size="6.8" font-family="'Liberation Sans', Arial, sans-serif" text-anchor="start" font-weight="normal" fill="#333" stroke="#333" stroke-width="0.2">(3.8)</text>
<text x="9.9" y="502.7" font-size="7.5" font-family="'Liberation Sans', Arial, sans-serif" text-anchor="middle" font-weight="normal" fill="#333" stroke="#333" stroke-width="0.22">O</text>
<text x="9.9" y="495.5" font-size="5.5" font-family="'Liberation Sans', Arial, sans-serif" text-anchor="middle" font-weight="normal" fill="#333" stroke="#333" stroke-width="0.2">−</text>
<path d="M12.6 498.7 L20.5 494.7" fill="none" stroke="#333" stroke-width="0.8" stroke-linejoin="round"/>
<path d="M21.2 494.7 L21.6 485.8" fill="none" stroke="#333" stroke-width="0.8" stroke-linejoin="round"/>
<path d="M19.8 494.7 L20.2 485.8" fill="none" stroke="#333" stroke-width="0.8" stroke-linejoin="round"/>
<text x="21.2" y="485.5" font-size="7.5" font-family="'Liberation Sans', Arial, sans-serif" text-anchor="middle" font-weight="normal" fill="#333" stroke="#333" stroke-width="0.22">O</text>
<path d="M20.5 494.7 L27.8 498.6" fill="none" stroke="#333" stroke-width="0.8" stroke-linejoin="round"/>
<text x="30.4" y="502.7" font-size="7.5" font-family="'Liberation Sans', Arial, sans-serif" text-anchor="middle" font-weight="normal" fill="#333" stroke="#333" stroke-width="0.22">O</text>
<path d="M38.7 488.8Q36.3 496 38.7 503.3" fill="none" stroke="#333" stroke-width="0.8"/>
<path d="M33.4 499.0 L39.7 494.7" fill="none" stroke="#333" stroke-width="0.8" stroke-linejoin="round"/>
<path d="M39.7 494.7 L50.3 500.0" fill="none" stroke="#333" stroke-width="0.8" stroke-linejoin="round"/>
<path d="M50.3 500.0 L57.6 495.8" fill="none" stroke="#333" stroke-width="0.8" stroke-linejoin="round"/>
<text x="60.9" y="498.7" font-size="7.5" font-family="'Liberation Sans', Arial, sans-serif" text-anchor="middle" font-weight="normal" fill="#333" stroke="#333" stroke-width="0.22">O</text>
<path d="M67.2 488.8Q69.6 496 67.2 503.3" fill="none" stroke="#333" stroke-width="0.8"/>
<text x="68.8" y="507.8" font-size="6.8" font-family="'Liberation Sans', Arial, sans-serif" text-anchor="middle" font-weight="normal" fill="#333" stroke="#333" stroke-width="0.2">n</text>
<path d="M63.9 497.5 L70.2 500.0" fill="none" stroke="#333" stroke-width="0.8" stroke-linejoin="round"/>
<path d="M70.2 500.0 L81.8 494.5" fill="none" stroke="#333" stroke-width="0.8" stroke-linejoin="round"/>
<circle cx="83.6" cy="493.9" r="1.6" fill="#111"/>
<text x="98.0" y="495.8" font-size="5.5" font-family="'Liberation Sans', Arial, sans-serif" text-anchor="middle" font-weight="normal" fill="#333" stroke="#333" stroke-width="0.2">+</text>
<text x="113.1" y="489.8" font-size="7.5" font-family="'Liberation Sans', Arial, sans-serif" text-anchor="middle" font-weight="normal" fill="#333" stroke="#333" stroke-width="0.22">R</text>
<path d="M115.2 489.0 L119.5 493.1" fill="none" stroke="#333" stroke-width="0.8" stroke-linejoin="round"/>
<text x="121.7" y="497.8" font-size="7.5" font-family="'Liberation Sans', Arial, sans-serif" text-anchor="middle" font-weight="normal" fill="#333" stroke="#333" stroke-width="0.22">O</text>
<path d="M124.9 495.1 L130.1 495.1" fill="none" stroke="#333" stroke-width="0.8" stroke-linejoin="round"/>
<text x="132.9" y="497.8" font-size="7.5" font-family="'Liberation Sans', Arial, sans-serif" text-anchor="middle" font-weight="normal" fill="#333" stroke="#333" stroke-width="0.22">C</text>
<path d="M135.9 494.1h4.2M135.9 496.1h4.2" stroke="#333" stroke-width="0.8"/>
<text x="140.5" y="497.8" font-size="7.5" font-family="'Liberation Sans', Arial, sans-serif" text-anchor="start" fill="#333">CH<tspan font-size="4.6" dy="1.6">2</tspan></text>
<text x="132.9" y="504.4" font-size="7.5" font-family="'Liberation Sans', Arial, sans-serif" text-anchor="middle" font-weight="normal" fill="#333" stroke="#333" stroke-width="0.22">H</text>
<path d="M130.8 490.0Q133.7 486.6 136.5 490.0M141.0 490.0Q144.5 486.6 148.0 490.0" fill="none" stroke="#333" stroke-width="0.8"/>
<path d="M86 498.4Q95 507.5 107 507.7Q121 507.5 129.6 499.7" fill="none" stroke="#333" stroke-width="0.8"/>
<path d="M129.6 499.7L126.6 500.6L128.6 502.6Z" fill="#333"/>
<path d="M161.4 494.1 L178.4 494.1" fill="none" stroke="#333" stroke-width="0.9" stroke-linejoin="round"/>
<path d="M181.9 494.1L177.9 495.7L178.9 494.1L177.9 492.5Z" fill="#333"/>
<circle cx="253.6" cy="491.0" r="3.4" fill="#40d070" fill-opacity="0.45"/>
<path d="M264.5 474.4 L264.5 486.7" fill="none" stroke="#e6e670" stroke-opacity="0.5" stroke-width="5.5" stroke-linecap="round" stroke-linejoin="round"/>
<text x="183.6" y="489.4" font-size="7.5" font-family="'Liberation Sans', Arial, sans-serif" text-anchor="middle" font-weight="normal" fill="#333" stroke="#333" stroke-width="0.22">O</text>
<text x="187.0" y="482.8" font-size="5.5" font-family="'Liberation Sans', Arial, sans-serif" text-anchor="middle" font-weight="normal" fill="#333" stroke="#333" stroke-width="0.2">−</text>
<path d="M186.4 487.9 L193.7 491.0" fill="none" stroke="#333" stroke-width="0.8" stroke-linejoin="round"/>
<path d="M193.0 491.0 L193.0 500.3" fill="none" stroke="#333" stroke-width="0.8" stroke-linejoin="round"/>
<path d="M194.4 491.0 L194.4 500.3" fill="none" stroke="#333" stroke-width="0.8" stroke-linejoin="round"/>
<text x="193.7" y="506.0" font-size="7.5" font-family="'Liberation Sans', Arial, sans-serif" text-anchor="middle" font-weight="normal" fill="#333" stroke="#333" stroke-width="0.22">O</text>
<path d="M193.7 491.0 L201.0 487.9" fill="none" stroke="#333" stroke-width="0.8" stroke-linejoin="round"/>
<text x="203.8" y="489.4" font-size="7.5" font-family="'Liberation Sans', Arial, sans-serif" text-anchor="middle" font-weight="normal" fill="#333" stroke="#333" stroke-width="0.22">O</text>
<path d="M211.3 481Q208.9 488.5 211.3 496" fill="none" stroke="#333" stroke-width="0.8"/>
<path d="M206.8 488.0 L211.0 491.0" fill="none" stroke="#333" stroke-width="0.8" stroke-linejoin="round"/>
<path d="M211.0 491.0 L223.3 486.0" fill="none" stroke="#333" stroke-width="0.8" stroke-linejoin="round"/>
<path d="M223.3 486.0 L231.0 490.2" fill="none" stroke="#333" stroke-width="0.8" stroke-linejoin="round"/>
<text x="234.2" y="494.1" font-size="7.5" font-family="'Liberation Sans', Arial, sans-serif" text-anchor="middle" font-weight="normal" fill="#333" stroke="#333" stroke-width="0.22">O</text>
<path d="M239.6 481Q242 488.5 239.6 496" fill="none" stroke="#333" stroke-width="0.8"/>
<text x="244.3" y="500.8" font-size="6.8" font-family="'Liberation Sans', Arial, sans-serif" text-anchor="middle" font-weight="normal" fill="#333" stroke="#333" stroke-width="0.2">n</text>
<path d="M237.2 489.8 L246.4 486.7" fill="none" stroke="#333" stroke-width="0.8" stroke-linejoin="round"/>
<path d="M246.4 486.7 L253.6 491.0" fill="none" stroke="#333" stroke-width="0.8" stroke-linejoin="round"/>
<path d="M253.6 491.0 L260.6 487.0" fill="none" stroke="#333" stroke-width="0.8" stroke-linejoin="round"/>
<text x="266.5" y="489.4" font-size="7.5" font-family="'Liberation Sans', Arial, sans-serif" text-anchor="middle" font-weight="normal" fill="#333" stroke="#333" stroke-width="0.22">CH</text>
<path d="M264.5 483.5 L264.5 477.4" fill="none" stroke="#333" stroke-width="0.8" stroke-linejoin="round"/>
<text x="264.5" y="477.1" font-size="7.5" font-family="'Liberation Sans', Arial, sans-serif" text-anchor="middle" font-weight="normal" fill="#333" stroke="#333" stroke-width="0.22">O</text>
<path d="M261.8 473.1 L256.9 470.6" fill="none" stroke="#333" stroke-width="0.8" stroke-linejoin="round"/>
<text x="254.4" y="472.1" font-size="7.5" font-family="'Liberation Sans', Arial, sans-serif" text-anchor="middle" font-weight="normal" fill="#333" stroke="#333" stroke-width="0.22">R</text>
<path d="M270.5 489.0 L275.5 492.5" fill="none" stroke="#333" stroke-width="0.8" stroke-linejoin="round"/>
<text x="276.0" y="497.4" font-size="7.5" font-family="'Liberation Sans', Arial, sans-serif" text-anchor="start" fill="#333">CH<tspan font-size="4.6" dy="1.6">2</tspan></text>
<circle cx="278.2" cy="488.4" r="1.6" fill="#111"/>
</svg></body></html>
